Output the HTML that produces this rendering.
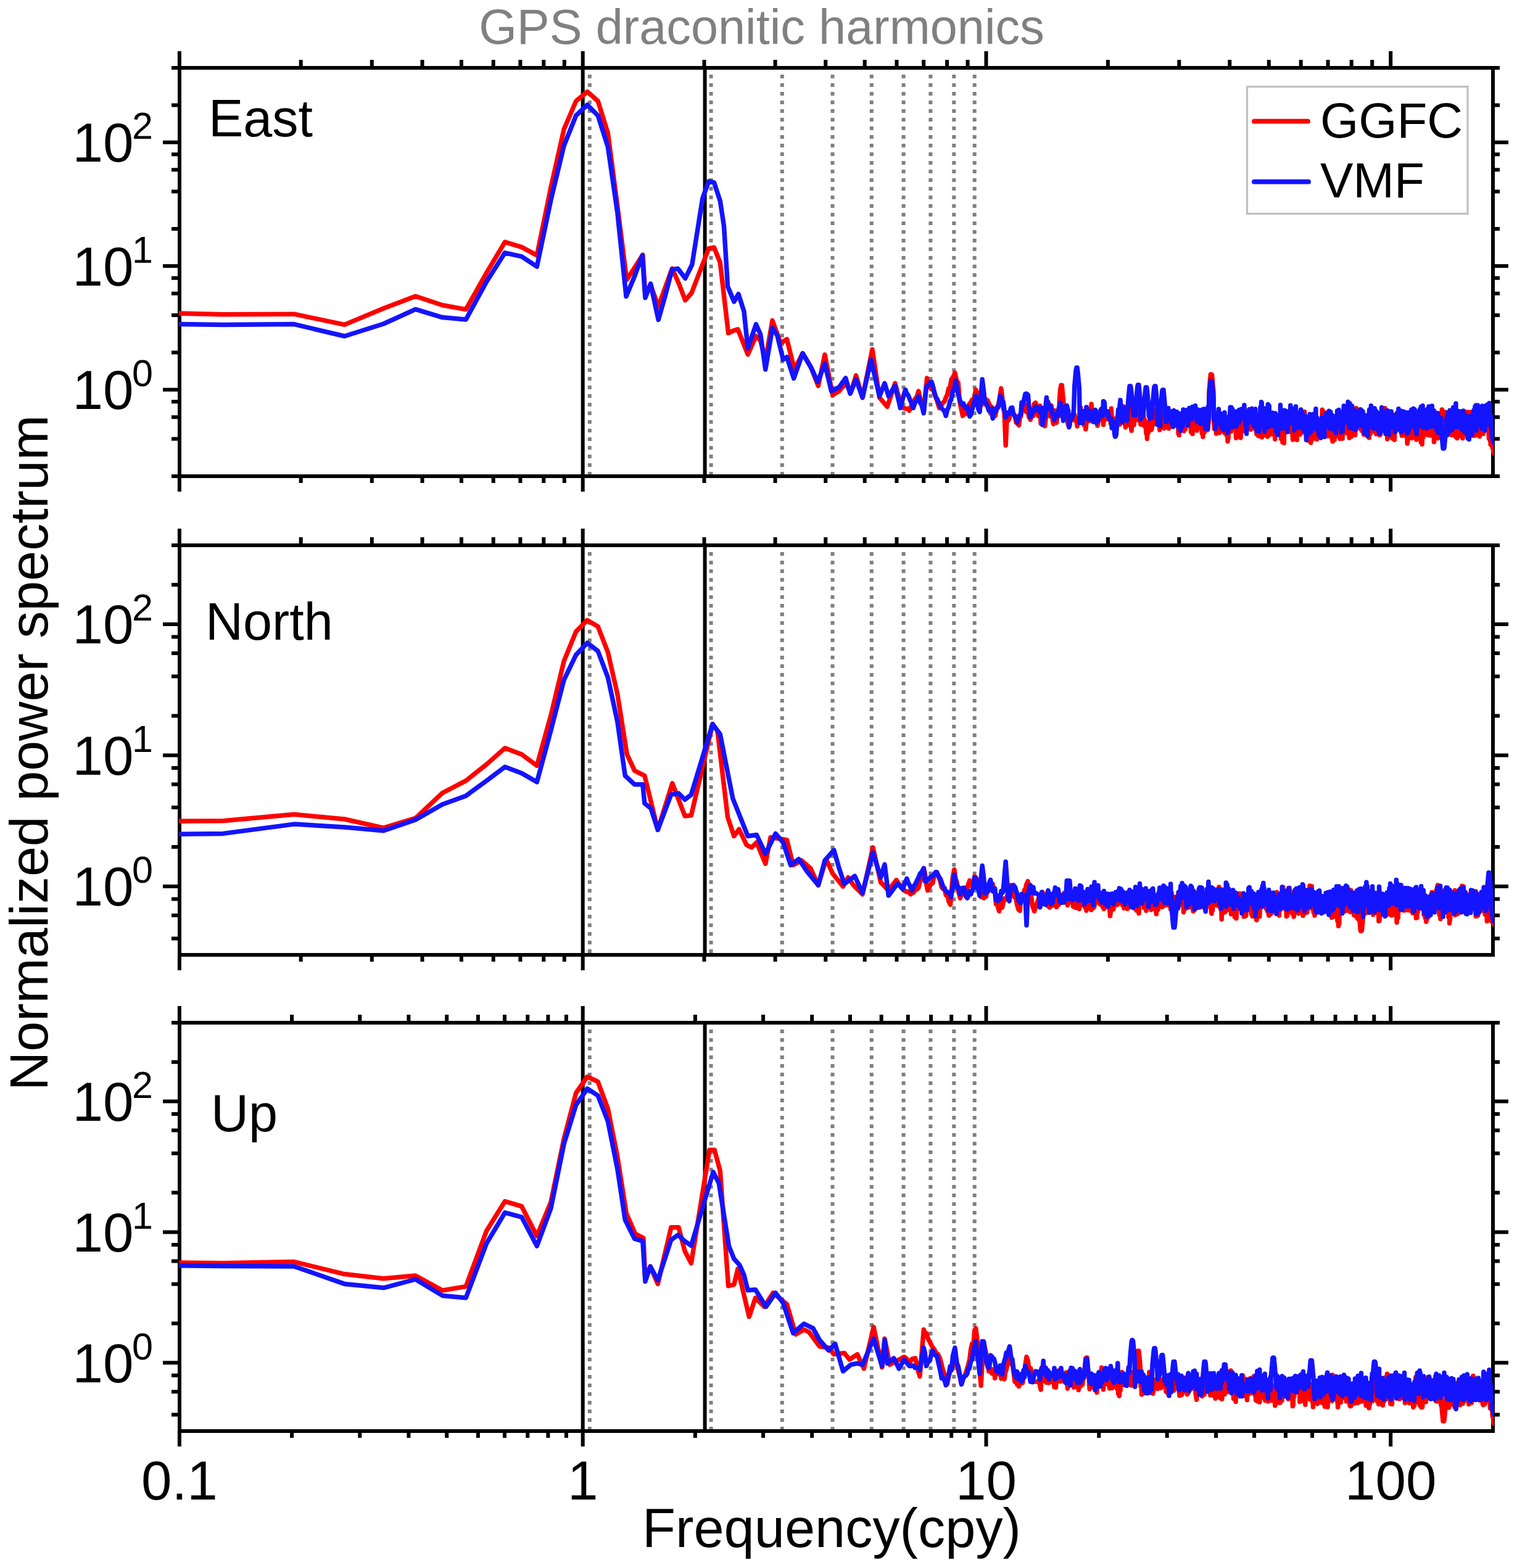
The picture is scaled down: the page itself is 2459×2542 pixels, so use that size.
<!DOCTYPE html><html><head><meta charset="utf-8"><title>GPS draconitic harmonics</title>
<style>html,body{margin:0;padding:0;background:#fff;}svg{display:block;}text{font-family:"Liberation Sans",Arial,sans-serif;}</style></head><body>
<svg xmlns="http://www.w3.org/2000/svg" width="2459" height="2542" viewBox="0 0 2459 2542">
<rect x="0" y="0" width="2459" height="2542" fill="#fff"/>
<clipPath id="c0"><rect x="291" y="110" width="2129" height="662"/></clipPath>
<clipPath id="d0"><rect x="290" y="110" width="2131.5" height="662"/></clipPath>
<clipPath id="c1"><rect x="291" y="884" width="2129" height="664"/></clipPath>
<clipPath id="d1"><rect x="290" y="884" width="2131.5" height="664"/></clipPath>
<clipPath id="c2"><rect x="291" y="1658" width="2129" height="662"/></clipPath>
<clipPath id="d2"><rect x="290" y="1658" width="2131.5" height="662"/></clipPath>
<text x="1234.5" y="71" font-size="79.3" fill="#808080" text-anchor="middle">GPS draconitic harmonics</text>
<g clip-path="url(#c0)">
<line x1="955.8" y1="121" x2="955.8" y2="772" stroke="#808080" stroke-width="6" stroke-dasharray="6 8"/>
<line x1="1152.6" y1="121" x2="1152.6" y2="772" stroke="#808080" stroke-width="6" stroke-dasharray="6 8"/>
<line x1="1267.8" y1="121" x2="1267.8" y2="772" stroke="#808080" stroke-width="6" stroke-dasharray="6 8"/>
<line x1="1349.5" y1="121" x2="1349.5" y2="772" stroke="#808080" stroke-width="6" stroke-dasharray="6 8"/>
<line x1="1412.8" y1="121" x2="1412.8" y2="772" stroke="#808080" stroke-width="6" stroke-dasharray="6 8"/>
<line x1="1464.6" y1="121" x2="1464.6" y2="772" stroke="#808080" stroke-width="6" stroke-dasharray="6 8"/>
<line x1="1508.4" y1="121" x2="1508.4" y2="772" stroke="#808080" stroke-width="6" stroke-dasharray="6 8"/>
<line x1="1546.3" y1="121" x2="1546.3" y2="772" stroke="#808080" stroke-width="6" stroke-dasharray="6 8"/>
<line x1="1579.7" y1="121" x2="1579.7" y2="772" stroke="#808080" stroke-width="6" stroke-dasharray="6 8"/>
<line x1="944.7" y1="110" x2="944.7" y2="772" stroke="#000" stroke-width="6"/>
<line x1="1142.6" y1="110" x2="1142.6" y2="772" stroke="#000" stroke-width="6"/>
</g>
<rect x="291" y="110" width="2129" height="662" fill="none" stroke="#000" stroke-width="6"/>
<path d="M290.9 110v-27M290.9 772v25M487.7 110v-13M487.7 772v11M602.8 110v-13M602.8 772v11M684.5 110v-13M684.5 772v11M747.9 110v-13M747.9 772v11M799.7 110v-13M799.7 772v11M843.4 110v-13M843.4 772v11M881.3 110v-13M881.3 772v11M914.8 110v-13M914.8 772v11M944.7 110v-27M944.7 772v25M1141.5 110v-13M1141.5 772v11M1256.6 110v-13M1256.6 772v11M1338.3 110v-13M1338.3 772v11M1401.7 110v-13M1401.7 772v11M1453.5 110v-13M1453.5 772v11M1497.2 110v-13M1497.2 772v11M1535.1 110v-13M1535.1 772v11M1568.6 110v-13M1568.6 772v11M1598.5 110v-27M1598.5 772v25M1795.9 110v-13M1795.9 772v11M1911.3 110v-13M1911.3 772v11M1993.3 110v-13M1993.3 772v11M2056.8 110v-13M2056.8 772v11M2108.7 110v-13M2108.7 772v11M2152.6 110v-13M2152.6 772v11M2190.7 110v-13M2190.7 772v11M2224.2 110v-13M2224.2 772v11M2254.2 110v-27M2254.2 772v25M291 772.0h-13M2420 772.0h11M291 711.6h-13M2420 711.6h11M291 676.3h-13M2420 676.3h11M291 651.3h-13M2420 651.3h11M291 631.8h-27M2420 631.8h25M291 571.5h-13M2420 571.5h11M291 511.1h-13M2420 511.1h11M291 475.8h-13M2420 475.8h11M291 450.7h-13M2420 450.7h11M291 431.3h-27M2420 431.3h25M291 370.9h-13M2420 370.9h11M291 310.5h-13M2420 310.5h11M291 275.2h-13M2420 275.2h11M291 250.2h-13M2420 250.2h11M291 230.7h-27M2420 230.7h25M291 170.4h-13M2420 170.4h11M291 110.0h-13M2420 110.0h11" stroke="#000" stroke-width="6" fill="none"/>
<g clip-path="url(#d0)">
<polyline fill="none" stroke="#ff0000" stroke-width="7.5" stroke-linejoin="round" stroke-linecap="round" points="164.7,505.0 361.5,509.8 476.7,509.2 558.4,526.4 621.7,500.0 673.5,480.3 717.2,494.8 755.2,501.6 788.6,442.4 818.5,392.4 845.6,400.6 870.3,413.9 893.0,303.7 914.1,209.8 933.7,163.9 952.0,148.6 969.2,163.9 985.4,215.9 1000.8,334.3 1015.8,453.6 1029.2,433.0 1041.9,413.2 1045.9,478.0 1054.6,462.0 1067.2,497.0 1078.7,465.0 1089.4,435.4 1100.5,460.0 1110.8,486.8 1121.0,475.0 1148.7,403.0 1157.5,401.2 1167.3,425.7 1180.6,540.0 1189.0,536.0 1196.0,533.9 1212.2,574.7 1225.5,545.0 1232.7,552.0 1240.8,585.0 1252.0,519.6 1265.3,556.3 1275.5,550.0 1287.8,599.2 1301.1,572.8 1313.8,593.9 1326.4,625.6 1337.0,575.0 1349.6,640.3 1360.2,634.0 1370.7,621.4 1379.2,636.1 1387.6,608.7 1398.1,644.6 1414.0,566.5 1425.6,644.6 1438.2,659.3 1442.3,647.1 1445.4,637.8 1448.5,628.4 1450.9,621.4 1454.7,636.0 1457.7,645.9 1461.4,659.3 1463.6,661.2 1466.5,662.2 1469.4,662.8 1472.2,662.5 1474.1,665.7 1477.8,656.6 1480.6,651.5 1483.4,646.6 1486.1,643.1 1488.9,634.0 1491.4,645.3 1494.1,652.7 1497.3,665.7 1499.3,646.5 1502.6,612.9 1504.4,622.7 1506.9,624.7 1509.4,630.7 1511.9,626.6 1514.4,637.3 1516.8,643.6 1519.2,650.6 1522.6,661.4 1524.0,657.2 1526.3,656.6 1528.7,652.5 1531.0,650.8 1533.2,644.6 1535.6,639.6 1537.8,629.6 1540.1,627.9 1542.3,614.8 1544.5,612.0 1547.9,604.5 1551.1,619.1 1553.2,620.3 1555.3,648.5 1557.4,659.9 1560.6,674.1 1563.7,670.6 1565.7,663.7 1567.8,670.8 1569.8,659.5 1571.8,654.1 1573.2,653.0 1575.8,648.1 1577.7,653.5 1579.7,641.4 1581.7,631.9 1583.5,635.9 1585.5,640.6 1587.4,654.9 1590.1,657.2 1593.0,653.3 1594.8,653.6 1596.7,645.7 1598.5,656.3 1600.7,648.8 1602.1,652.6 1603.9,655.5 1605.7,670.3 1607.5,659.6 1609.2,667.6 1611.0,670.7 1613.3,674.1 1616.2,659.7 1617.9,657.6 1619.6,650.0 1621.3,639.3 1622.8,629.8 1624.6,644.3 1626.3,662.1 1628.0,668.0 1630.2,722.0 1632.4,672.0 1634.5,681.4 1636.1,678.4 1638.6,665.7 1640.8,667.4 1642.4,670.5 1643.9,672.3 1645.5,674.2 1647.0,684.6 1649.2,686.8 1651.6,689.4 1653.1,677.1 1654.6,675.5 1656.1,667.1 1657.6,662.4 1659.7,655.1 1662.0,656.1 1663.5,667.7 1664.9,663.9 1666.4,667.4 1667.8,675.8 1670.3,680.4 1672.1,674.5 1673.5,670.3 1674.9,674.5 1676.3,655.0 1678.7,653.0 1683.1,674.3 1684.5,669.4 1685.8,657.9 1687.2,686.8 1688.5,679.4 1689.8,667.2 1691.2,679.1 1692.5,663.3 1693.8,690.7 1695.1,678.9 1696.4,674.3 1697.7,667.2 1699.0,651.5 1700.2,665.7 1701.5,656.8 1702.8,675.1 1704.0,657.5 1705.3,667.1 1706.6,683.3 1707.8,687.5 1709.0,668.0 1710.3,665.7 1711.5,684.0 1712.7,685.1 1714.0,672.9 1715.2,675.4 1716.4,673.2 1717.6,644.5 1718.8,631.3 1720.0,624.5 1721.2,624.5 1722.3,634.9 1723.5,647.9 1724.7,666.8 1725.9,661.4 1727.0,670.9 1728.2,666.1 1729.3,665.5 1730.5,684.1 1731.6,689.3 1732.8,684.5 1733.9,687.8 1735.1,679.8 1736.2,673.4 1737.3,681.2 1738.4,679.8 1739.5,675.6 1740.6,671.4 1741.8,672.3 1742.9,682.2 1744.0,682.5 1745.0,677.6 1746.1,691.0 1747.2,680.1 1748.3,681.1 1749.4,684.5 1750.5,669.3 1751.5,660.7 1752.6,680.5 1753.6,669.6 1754.7,684.3 1755.8,678.0 1756.8,686.7 1757.8,690.0 1758.9,673.3 1759.9,695.9 1761.0,684.3 1762.0,679.7 1763.0,677.0 1764.0,682.0 1765.1,681.5 1766.1,682.2 1767.1,661.7 1768.1,668.8 1769.1,654.9 1770.1,671.6 1771.1,676.7 1772.1,666.1 1773.1,673.0 1774.1,672.5 1775.1,678.1 1776.0,665.2 1777.0,666.9 1778.0,669.5 1779.0,690.0 1779.9,685.8 1780.9,676.8 1781.8,679.5 1782.8,678.8 1783.8,679.6 1784.7,676.6 1785.7,675.6 1786.6,668.2 1787.5,672.1 1788.5,688.5 1789.4,679.7 1790.3,676.2 1791.3,674.3 1792.2,676.9 1793.1,679.5 1794.0,672.4 1795.0,678.9 1795.9,679.4 1796.8,672.4 1797.7,672.7 1798.6,671.6 1799.5,671.5 1800.4,686.3 1801.3,662.3 1802.2,678.6 1803.1,676.7 1804.0,677.2 1804.9,682.9 1805.7,690.8 1806.6,683.4 1807.5,682.4 1808.4,679.5 1809.2,683.6 1810.1,691.6 1811.0,681.3 1811.8,674.6 1812.7,672.5 1813.6,672.5 1814.4,669.6 1815.3,688.1 1816.1,681.3 1817.0,674.4 1817.8,684.3 1818.7,665.7 1819.5,674.8 1820.3,675.1 1821.2,659.1 1822.0,662.1 1822.8,670.6 1823.7,687.7 1824.5,692.7 1825.3,673.8 1826.2,689.7 1827.0,676.4 1827.8,673.3 1828.6,669.4 1829.4,669.4 1830.2,657.7 1831.0,664.6 1831.8,664.3 1832.6,679.1 1833.4,693.0 1834.2,698.1 1835.0,676.2 1835.8,665.3 1836.6,674.0 1837.4,668.3 1838.2,688.7 1839.0,676.6 1839.8,666.1 1840.6,679.0 1841.3,677.1 1842.1,662.5 1842.9,672.9 1843.7,677.0 1844.4,680.1 1845.2,681.3 1846.0,677.3 1846.7,680.6 1847.5,673.7 1848.2,670.3 1849.0,688.0 1849.8,678.8 1850.5,679.6 1851.3,664.8 1852.0,676.9 1852.8,685.8 1853.5,670.9 1854.3,690.0 1855.0,679.0 1855.7,686.0 1856.5,684.6 1857.2,691.0 1858.0,702.7 1858.7,693.9 1859.4,711.3 1860.1,693.9 1860.9,691.4 1861.6,701.0 1862.3,683.4 1863.0,684.4 1863.8,690.6 1864.5,690.7 1865.2,667.4 1865.9,685.3 1866.6,696.7 1867.3,692.6 1868.0,682.7 1868.8,680.9 1869.5,683.9 1870.2,677.5 1870.9,683.5 1871.6,682.2 1872.3,680.0 1873.0,687.6 1873.7,674.4 1874.4,663.4 1875.0,682.2 1875.7,666.2 1876.4,671.9 1877.1,675.5 1877.8,675.1 1878.5,671.3 1879.2,678.0 1879.8,697.1 1880.5,675.8 1881.2,680.1 1881.9,690.8 1882.5,689.0 1883.2,690.3 1883.9,692.0 1884.6,670.8 1885.2,679.4 1885.9,686.8 1886.6,689.0 1887.2,694.4 1887.9,687.1 1888.5,680.9 1889.2,682.5 1889.9,680.3 1890.5,684.0 1891.2,687.6 1891.8,680.2 1892.5,677.1 1893.1,677.4 1893.8,692.9 1894.4,694.7 1895.1,692.6 1895.7,691.5 1896.3,691.2 1897.0,684.5 1897.6,689.3 1898.3,675.8 1898.9,682.1 1899.5,677.9 1900.2,689.2 1900.8,678.7 1901.4,681.6 1902.1,684.4 1902.7,690.6 1903.3,672.8 1903.9,670.7 1904.6,683.8 1905.2,668.8 1905.8,681.5 1906.4,674.7 1907.0,679.9 1907.7,668.3 1908.3,689.7 1908.9,681.7 1909.5,679.5 1910.1,702.8 1910.7,691.8 1911.3,705.6 1911.9,687.3 1912.6,679.9 1913.2,682.0 1913.8,692.5 1914.4,678.9 1915.0,682.4 1915.6,683.4 1916.2,673.8 1916.8,684.3 1917.4,682.2 1918.0,679.3 1918.5,698.4 1919.1,698.8 1919.7,695.2 1920.3,687.5 1920.9,678.0 1921.5,695.7 1922.1,688.9 1922.7,674.0 1923.3,684.3 1923.8,670.9 1924.4,681.3 1925.0,682.2 1925.6,684.1 1926.2,683.7 1926.7,684.3 1927.3,675.3 1927.9,682.5 1928.5,682.6 1929.0,685.7 1929.6,690.2 1930.2,693.1 1930.7,700.8 1931.3,667.5 1931.9,690.2 1932.4,684.8 1933.0,703.5 1933.6,692.4 1934.1,671.7 1934.7,687.6 1935.3,680.4 1935.8,692.6 1936.4,677.2 1936.9,685.5 1937.5,686.2 1938.0,687.5 1938.6,684.5 1939.1,675.4 1939.7,693.8 1940.2,698.0 1940.8,689.1 1941.3,680.7 1941.9,689.0 1942.4,690.4 1943.0,683.0 1943.5,682.9 1944.1,693.1 1944.6,672.6 1945.1,676.9 1945.7,666.7 1946.2,677.1 1946.8,678.1 1947.3,677.9 1947.8,681.6 1948.4,702.7 1948.9,688.2 1949.4,689.7 1950.0,708.2 1950.5,690.3 1951.0,676.6 1951.6,692.7 1952.1,681.1 1952.6,700.4 1953.1,676.6 1953.7,680.9 1954.2,672.2 1954.7,685.3 1955.2,676.5 1955.8,684.4 1956.3,682.8 1956.8,682.0 1957.3,695.6 1957.8,696.9 1958.3,691.3 1958.9,684.7 1959.4,684.1 1959.9,634.6 1960.4,629.0 1960.9,623.3 1961.4,617.7 1961.9,612.1 1962.4,607.0 1963.0,607.0 1963.5,607.0 1964.0,607.0 1964.5,607.8 1965.0,613.3 1965.5,618.9 1966.0,624.4 1966.5,629.9 1967.0,635.4 1967.5,679.4 1968.0,687.2 1968.5,695.2 1969.0,691.8 1969.5,688.3 1970.0,684.1 1970.5,689.1 1971.0,686.1 1971.5,702.9 1971.9,675.9 1972.4,681.2 1972.9,693.3 1973.4,680.4 1973.9,693.2 1974.4,681.2 1974.9,682.5 1975.4,678.5 1975.9,671.1 1976.3,675.2 1976.8,701.7 1977.3,690.6 1977.8,691.7 1978.3,695.8 1978.7,693.9 1979.2,698.3 1979.7,688.6 1980.2,689.0 1980.7,698.6 1981.1,687.8 1981.6,679.8 1982.1,688.4 1982.6,685.6 1983.0,694.6 1983.5,683.8 1984.0,680.9 1984.5,686.6 1984.9,701.6 1985.4,688.9 1985.9,691.0 1986.3,690.5 1986.8,693.6 1987.3,699.7 1987.7,704.4 1988.2,681.2 1988.7,706.0 1989.1,695.8 1989.6,693.7 1990.0,715.5 1990.5,694.8 1991.0,710.9 1991.4,701.9 1991.9,684.5 1992.3,695.0 1992.8,695.2 1993.3,686.7 1993.7,667.8 1994.2,682.6 1994.6,683.2 1995.1,675.7 1995.5,699.3 1996.0,683.1 1996.4,682.5 1996.9,684.0 1997.3,680.9 1997.8,681.7 1998.2,689.5 1998.7,691.9 1999.1,685.8 1999.6,689.5 2000.0,679.2 2000.5,694.5 2000.9,684.3 2001.4,692.0 2001.8,683.0 2002.2,686.1 2002.7,691.9 2003.1,680.5 2003.6,709.9 2004.0,689.9 2004.4,689.6 2004.9,684.3 2005.3,702.9 2005.8,701.2 2006.2,692.4 2006.6,678.9 2007.1,685.7 2007.5,694.4 2007.9,685.3 2008.4,679.7 2008.8,679.6 2009.2,682.8 2009.7,689.0 2010.1,683.7 2010.5,689.0 2011.0,709.7 2011.4,703.0 2011.8,680.5 2012.2,691.5 2012.7,689.4 2013.1,687.6 2013.5,697.0 2013.9,685.9 2014.4,686.0 2014.8,685.6 2015.2,687.8 2015.6,698.8 2016.1,694.8 2016.5,677.8 2016.9,685.0 2017.3,682.1 2017.7,695.0 2018.2,690.3 2018.6,695.6 2019.0,688.0 2019.4,673.2 2019.8,692.1 2020.2,690.3 2020.6,692.4 2021.1,677.6 2021.5,688.2 2021.9,681.6 2022.3,681.0 2022.7,688.7 2023.1,688.1 2023.5,677.7 2023.9,670.7 2024.4,664.3 2024.8,679.3 2025.2,692.9 2025.6,683.4 2026.0,665.7 2026.4,676.6 2026.8,686.6 2027.2,696.3 2027.6,692.0 2028.0,685.3 2028.4,683.6 2028.8,673.3 2029.2,678.0 2029.6,678.9 2030.0,675.3 2030.4,682.1 2030.8,678.6 2031.2,684.8 2031.6,693.9 2032.0,688.8 2032.4,686.7 2032.8,681.9 2033.2,672.1 2033.6,683.7 2034.0,689.3 2034.4,677.1 2034.8,695.3 2035.2,682.7 2035.6,688.5 2036.0,683.3 2036.4,676.3 2036.8,703.5 2037.2,678.4 2037.5,695.8 2037.9,684.7 2038.3,692.1 2038.7,684.0 2039.1,687.5 2039.5,698.5 2039.9,706.9 2040.3,684.6 2040.7,691.7 2041.0,699.5 2041.4,687.4 2041.8,698.7 2042.2,687.3 2042.6,699.1 2043.0,698.5 2043.3,705.3 2043.7,699.0 2044.1,687.0 2044.5,702.1 2044.9,688.1 2045.3,703.0 2045.6,708.9 2046.0,701.4 2046.4,692.0 2046.8,705.6 2047.1,697.1 2047.5,685.4 2047.9,692.2 2048.3,706.0 2048.7,691.9 2049.0,695.1 2049.4,691.2 2049.8,680.4 2050.2,689.8 2050.5,696.7 2050.9,695.6 2051.3,692.6 2051.6,676.9 2052.0,703.8 2052.4,699.9 2052.8,702.4 2053.1,704.6 2053.5,690.7 2053.9,689.5 2054.2,696.9 2054.6,707.8 2055.0,680.9 2055.3,692.6 2055.7,688.6 2056.1,698.7 2056.4,705.8 2056.8,691.6 2057.2,683.9 2057.5,694.0 2057.9,691.2 2058.3,680.9 2058.6,700.2 2059.0,688.8 2059.3,698.4 2059.7,682.3 2060.1,701.6 2060.4,681.3 2060.8,701.3 2061.2,678.3 2061.5,703.8 2061.9,689.8 2062.2,680.3 2062.6,690.8 2062.9,695.3 2063.3,684.7 2063.7,688.6 2064.0,694.7 2064.4,691.1 2064.7,671.7 2065.1,689.1 2065.4,695.9 2065.8,694.7 2066.1,700.2 2066.5,686.4 2066.8,712.0 2067.2,697.7 2067.6,693.4 2067.9,699.3 2068.3,697.9 2068.6,690.8 2069.0,684.8 2069.3,697.8 2069.7,692.9 2070.0,674.4 2070.3,680.7 2070.7,693.4 2071.0,690.8 2071.4,692.4 2071.7,695.6 2072.1,692.0 2072.4,703.9 2072.8,686.9 2073.1,688.8 2073.5,694.9 2073.8,698.6 2074.2,699.2 2074.5,704.9 2074.8,689.3 2075.2,702.5 2075.5,697.0 2075.9,685.2 2076.2,692.9 2076.5,711.2 2076.9,701.3 2077.2,691.9 2077.6,677.1 2077.9,691.1 2078.2,691.9 2078.6,698.7 2078.9,717.0 2079.3,704.9 2079.6,701.6 2079.9,691.8 2080.3,689.7 2080.6,697.1 2080.9,694.4 2081.3,718.1 2081.6,693.1 2081.9,690.2 2082.3,702.9 2082.6,693.2 2082.9,681.4 2083.3,700.4 2083.6,686.5 2083.9,677.4 2084.3,689.9 2084.6,690.8 2084.9,684.0 2085.3,692.3 2085.6,693.2 2085.9,679.5 2086.3,670.0 2086.6,667.1 2086.9,685.0 2087.2,695.7 2087.6,693.7 2087.9,696.6 2088.2,700.1 2088.6,685.2 2088.9,693.3 2089.2,672.5 2089.5,690.2 2089.9,687.8 2090.2,683.9 2090.5,681.5 2090.8,676.8 2091.2,687.8 2091.5,698.1 2091.8,686.3 2092.1,695.0 2092.4,687.1 2092.8,696.0 2093.1,687.5 2093.4,700.0 2093.7,696.5 2094.1,701.8 2094.4,695.2 2094.7,691.1 2095.0,698.0 2095.3,708.8 2095.6,712.9 2096.0,697.2 2096.3,705.5 2096.6,704.4 2096.9,700.5 2097.2,684.0 2097.6,698.0 2097.9,686.6 2098.2,702.8 2098.5,698.9 2098.8,696.7 2099.1,670.9 2099.4,695.7 2099.8,696.1 2100.1,680.2 2100.4,698.3 2100.7,691.3 2101.0,689.4 2101.3,685.5 2101.6,683.4 2101.9,688.4 2102.3,713.1 2102.6,694.4 2102.9,694.8 2103.2,688.4 2103.5,689.0 2103.8,689.8 2104.1,687.4 2104.4,701.7 2104.7,692.6 2105.0,701.7 2105.4,685.6 2105.7,702.2 2106.0,694.5 2106.3,700.1 2106.6,693.8 2106.9,687.5 2107.2,704.3 2107.5,691.0 2107.8,693.3 2108.1,687.3 2108.4,696.0 2108.7,691.2 2109.0,696.5 2109.3,697.0 2109.6,688.7 2109.9,682.9 2110.2,697.6 2110.5,701.2 2110.8,699.0 2111.1,683.5 2111.4,696.7 2111.7,694.0 2112.0,692.1 2112.4,692.2 2112.7,685.0 2113.2,692.9 2113.8,672.1 2114.1,682.1 2114.4,684.1 2114.7,667.5 2115.3,687.1 2115.6,681.8 2116.2,675.1 2116.8,702.4 2117.1,688.7 2117.7,685.0 2118.0,703.3 2118.6,693.3 2118.9,710.7 2119.5,707.8 2119.8,689.3 2120.3,708.5 2120.6,693.6 2121.2,714.4 2121.5,711.0 2122.1,696.4 2122.4,709.2 2123.0,710.8 2123.3,710.3 2123.8,696.8 2124.1,685.0 2124.7,717.8 2125.3,695.7 2125.6,704.5 2125.8,701.9 2126.1,687.5 2126.7,688.3 2127.0,712.5 2127.6,701.4 2127.8,709.1 2128.7,704.5 2129.0,681.0 2129.3,687.7 2129.5,684.3 2130.1,710.8 2130.4,676.6 2131.0,680.4 2131.2,701.2 2131.8,686.9 2132.1,707.8 2132.6,702.3 2133.2,687.9 2133.5,689.6 2134.0,698.0 2134.6,712.2 2134.9,691.9 2135.1,689.7 2135.7,687.0 2136.0,681.5 2136.5,699.9 2137.1,690.6 2137.4,694.5 2137.6,699.9 2137.9,696.0 2138.7,688.1 2139.0,683.8 2139.3,689.1 2139.5,683.2 2140.1,688.2 2140.6,687.3 2140.9,685.2 2141.2,699.3 2142.0,689.1 2142.3,678.3 2142.8,686.7 2143.1,672.2 2143.3,664.3 2143.9,692.6 2144.1,670.6 2144.7,688.2 2145.0,667.7 2145.2,676.6 2146.0,668.2 2146.3,691.4 2146.8,687.3 2147.1,682.6 2147.4,668.7 2147.6,684.8 2148.2,686.9 2148.4,680.3 2148.9,686.0 2149.5,694.2 2149.7,680.1 2150.3,699.9 2150.5,692.2 2150.8,682.5 2151.3,685.9 2151.6,696.4 2152.4,707.2 2152.6,678.7 2152.9,681.9 2153.1,676.3 2153.9,693.1 2154.2,703.9 2154.4,675.2 2155.0,702.6 2155.2,699.3 2155.5,698.2 2156.2,691.6 2156.5,692.2 2156.8,699.0 2157.0,691.3 2157.5,705.0 2157.8,684.7 2158.3,698.9 2158.6,692.5 2159.1,711.9 2159.6,692.1 2160.1,715.6 2160.3,686.6 2160.6,690.1 2160.8,696.3 2161.4,712.5 2161.9,691.6 2162.1,698.5 2162.4,688.0 2163.1,712.9 2163.4,675.6 2163.6,696.8 2163.9,704.2 2164.4,708.5 2164.9,694.2 2165.4,686.1 2165.6,706.0 2165.9,683.3 2166.1,691.6 2166.9,674.1 2167.1,688.5 2167.6,692.1 2167.9,697.4 2168.3,685.0 2168.6,692.3 2168.8,695.0 2169.3,677.2 2169.6,681.0 2169.8,697.6 2170.3,682.1 2170.8,696.3 2171.0,700.6 2171.3,685.1 2171.8,702.6 2172.0,711.2 2172.5,683.9 2172.8,697.2 2173.2,694.3 2173.5,690.0 2174.0,696.0 2174.2,710.8 2174.7,700.2 2175.2,690.9 2175.4,694.8 2175.7,706.3 2176.1,711.1 2176.6,693.7 2177.1,695.3 2177.3,677.4 2177.6,702.5 2177.8,684.3 2178.3,676.7 2178.5,682.8 2179.0,694.4 2179.5,675.1 2179.7,668.8 2180.0,683.6 2180.4,675.5 2180.7,689.3 2181.1,686.2 2181.4,681.1 2182.1,674.8 2182.3,693.3 2182.5,692.2 2182.8,675.9 2183.5,693.4 2183.7,702.4 2184.2,692.9 2184.4,682.8 2184.9,678.9 2185.1,686.3 2185.3,695.5 2185.8,702.9 2186.3,685.9 2186.5,697.3 2186.7,692.8 2187.2,709.9 2187.4,702.1 2187.7,685.4 2188.4,689.2 2188.6,699.2 2189.0,701.9 2189.3,697.1 2189.5,688.3 2190.0,694.4 2190.4,707.8 2190.6,702.9 2190.9,697.7 2191.3,700.6 2191.6,703.9 2192.0,680.2 2192.2,699.5 2192.7,687.0 2192.9,694.3 2193.4,688.5 2193.6,675.0 2194.0,692.1 2194.5,674.5 2194.7,690.7 2194.9,692.7 2195.2,688.4 2195.8,681.1 2196.1,690.2 2196.3,682.7 2196.7,705.3 2197.0,689.6 2197.4,669.7 2197.9,687.5 2198.1,675.2 2198.5,661.7 2198.7,683.7 2199.0,674.1 2199.4,689.2 2199.6,676.8 2199.8,685.8 2200.3,676.4 2200.7,671.4 2201.0,688.7 2201.4,670.8 2201.6,685.9 2202.1,667.8 2202.5,670.3 2202.7,690.4 2202.9,682.9 2203.1,688.8 2203.6,691.5 2203.8,685.3 2204.5,691.8 2204.7,680.0 2205.1,695.3 2205.3,682.8 2205.5,686.9 2205.8,679.5 2206.2,686.2 2206.6,677.8 2206.8,685.0 2207.3,688.7 2207.7,672.9 2207.9,698.8 2208.1,686.6 2208.3,682.2 2209.0,696.4 2209.2,686.7 2209.6,677.2 2209.8,691.4 2210.3,686.6 2210.5,697.2 2210.7,704.5 2211.1,684.0 2211.3,702.6 2211.5,687.8 2212.0,686.0 2212.4,695.3 2212.6,692.2 2212.8,689.4 2213.4,699.2 2213.6,687.4 2213.9,690.4 2214.3,685.7 2214.7,680.1 2214.9,695.1 2215.3,689.5 2215.5,704.4 2215.7,685.6 2216.0,696.8 2216.4,688.6 2216.8,700.6 2217.0,694.4 2217.4,705.8 2217.6,696.8 2217.8,682.2 2218.2,702.9 2218.7,688.3 2218.9,681.4 2219.3,709.6 2219.7,680.6 2219.9,701.9 2220.1,693.6 2220.3,695.4 2220.7,690.0 2221.1,703.4 2221.5,690.2 2221.7,702.0 2222.1,696.5 2222.4,683.5 2222.8,694.9 2223.0,698.3 2223.4,689.8 2223.6,680.9 2224.0,690.3 2224.2,692.2 2224.6,673.2 2224.8,682.1 2225.2,676.7 2225.4,687.5 2225.8,686.1 2226.0,692.0 2226.2,686.6 2226.4,676.0 2226.8,681.5 2227.2,692.4 2227.6,693.8 2227.8,679.7 2228.0,685.7 2228.2,698.7 2228.8,672.9 2229.4,696.4 2229.6,701.4 2230.2,680.6 2230.4,681.6 2231.0,703.8 2231.2,694.8 2231.4,683.9 2232.4,687.7 2232.6,697.7 2233.0,690.4 2233.4,696.9 2233.8,686.6 2234.0,702.1 2234.5,696.1 2234.7,680.9 2235.3,689.1 2235.5,678.3 2236.3,682.2 2236.5,705.2 2236.9,702.7 2237.3,678.9 2237.5,704.6 2237.7,686.5 2238.2,678.7 2238.8,693.1 2239.2,678.0 2239.6,693.7 2240.0,692.1 2240.2,683.4 2240.7,688.1 2240.9,696.5 2241.3,692.2 2241.9,674.4 2242.3,695.7 2242.6,678.5 2243.0,688.4 2243.4,669.8 2243.6,675.5 2244.2,668.3 2244.5,686.3 2244.9,661.8 2245.5,671.8 2245.7,664.4 2246.0,663.7 2246.4,683.4 2246.8,674.7 2247.2,683.1 2247.4,666.6 2247.7,689.4 2248.3,680.7 2248.7,684.3 2248.8,711.8 2249.0,681.9 2250.0,690.5 2250.1,706.0 2250.3,697.5 2250.7,692.9 2251.1,685.5 2251.6,700.4 2252.0,681.9 2252.4,705.3 2252.5,687.9 2252.9,706.9 2253.5,691.0 2253.6,702.2 2254.4,707.6 2254.6,699.7 2254.7,698.3 2255.3,703.7 2255.6,700.3 2256.0,697.1 2256.4,710.1 2256.6,696.5 2257.3,704.4 2257.5,694.3 2257.6,702.6 2258.0,676.5 2258.5,711.4 2258.7,687.5 2259.3,687.4 2259.4,704.2 2260.0,685.2 2260.3,713.0 2260.5,711.2 2260.7,674.7 2261.4,687.5 2261.6,696.7 2262.3,681.1 2262.5,699.3 2262.6,684.7 2262.8,696.5 2263.3,687.0 2263.7,670.4 2264.2,671.1 2264.6,691.7 2264.8,689.5 2264.9,670.9 2265.5,690.8 2266.0,677.4 2266.2,684.8 2266.5,678.5 2267.0,689.0 2267.4,672.2 2267.6,677.0 2267.7,693.3 2268.4,681.4 2268.6,691.4 2269.3,685.4 2269.5,675.9 2269.8,681.5 2270.0,689.5 2270.3,681.0 2270.7,695.6 2271.2,690.5 2271.4,667.4 2271.9,703.0 2272.1,681.6 2272.4,706.2 2272.7,669.6 2273.3,696.8 2273.6,684.3 2273.9,701.3 2274.3,687.3 2274.6,696.6 2275.0,689.5 2275.3,684.1 2275.5,686.6 2275.8,678.2 2276.1,698.4 2276.5,682.1 2276.8,705.2 2277.3,687.6 2277.5,692.3 2278.0,702.5 2278.2,690.9 2278.7,700.9 2278.8,695.6 2279.2,693.5 2279.5,707.2 2279.8,682.5 2280.0,708.3 2280.7,682.1 2281.0,711.6 2281.2,718.9 2281.5,695.2 2282.0,689.7 2282.2,712.9 2282.5,700.6 2282.7,688.1 2283.3,685.8 2283.6,708.6 2283.8,684.1 2284.1,696.4 2284.5,690.3 2284.6,703.6 2285.3,683.1 2285.6,706.3 2285.8,700.4 2286.1,675.2 2286.6,687.0 2286.9,693.9 2287.4,700.7 2287.6,679.2 2288.1,678.2 2288.2,700.0 2288.4,677.0 2288.7,710.4 2289.2,700.1 2289.5,680.1 2289.8,700.3 2290.0,687.8 2290.5,695.2 2290.8,684.9 2291.0,680.0 2291.4,694.5 2291.8,683.1 2292.1,695.2 2292.2,702.9 2292.4,689.2 2292.9,706.7 2293.4,688.1 2293.5,693.0 2294.0,705.9 2294.1,683.9 2294.3,704.1 2294.8,678.6 2295.3,707.9 2295.7,693.7 2295.9,712.8 2296.2,711.7 2296.5,687.8 2296.7,702.5 2297.1,683.1 2297.6,686.8 2297.8,695.1 2297.9,673.0 2298.4,702.1 2298.7,684.1 2299.0,691.0 2299.2,693.3 2299.5,681.7 2299.8,694.6 2300.0,673.8 2300.4,701.9 2300.9,692.8 2301.0,680.1 2301.2,698.5 2301.7,706.5 2301.8,679.6 2302.3,685.5 2302.7,696.1 2303.0,686.1 2303.2,717.0 2303.5,705.2 2304.0,688.1 2304.3,678.1 2304.4,707.3 2304.7,689.9 2305.2,720.3 2305.3,701.3 2305.5,706.6 2306.1,694.4 2306.4,706.7 2306.7,686.3 2307.0,708.8 2307.3,679.0 2307.5,698.6 2307.8,706.3 2308.2,682.7 2308.4,695.2 2308.7,677.1 2309.0,696.6 2309.3,682.0 2309.6,691.8 2309.9,686.6 2310.2,677.6 2310.5,685.3 2311.2,693.0 2311.4,676.2 2312.1,681.0 2312.3,694.4 2312.9,698.5 2313.0,669.5 2313.6,697.4 2313.8,684.1 2313.9,672.8 2314.2,693.6 2314.8,705.2 2315.1,673.3 2315.4,688.0 2315.8,699.6 2316.6,673.3 2316.7,697.1 2317.0,670.6 2317.4,693.1 2318.0,696.5 2318.2,683.1 2318.5,683.2 2318.8,706.1 2319.0,701.1 2319.3,684.6 2320.1,697.6 2320.2,686.9 2320.6,683.6 2320.8,701.0 2321.4,676.4 2321.8,701.9 2322.1,699.2 2322.2,686.1 2322.7,703.6 2322.8,681.8 2323.5,702.3 2323.8,688.2 2324.1,690.3 2324.5,716.5 2324.9,690.6 2325.2,710.3 2325.5,685.6 2325.7,709.4 2326.2,678.8 2326.8,707.8 2327.2,694.5 2327.5,686.2 2327.8,673.4 2327.9,696.7 2328.8,684.8 2328.9,695.5 2329.5,689.3 2329.6,703.6 2329.7,702.3 2330.0,683.5 2330.6,710.6 2330.7,675.3 2331.3,677.0 2331.6,703.4 2332.3,694.5 2332.4,682.8 2332.5,674.8 2333.1,699.7 2333.2,701.1 2333.8,692.6 2333.9,697.4 2334.3,682.0 2334.6,682.1 2334.7,696.8 2335.4,696.9 2335.8,683.7 2336.1,701.5 2336.2,682.7 2336.9,694.8 2337.1,675.3 2337.3,664.0 2337.6,690.7 2338.4,674.8 2338.6,694.3 2338.7,691.4 2339.0,669.4 2339.5,690.6 2339.6,673.3 2340.2,671.9 2340.5,686.9 2341.0,667.4 2341.1,692.8 2341.5,671.7 2341.7,691.1 2342.1,695.0 2342.3,674.1 2342.7,675.2 2343.3,688.4 2343.8,681.4 2343.9,692.7 2344.3,693.7 2344.5,671.6 2344.9,682.9 2345.3,668.8 2345.7,701.7 2345.9,674.9 2346.1,694.7 2346.5,675.2 2346.7,693.0 2347.0,677.4 2347.4,703.7 2347.9,681.8 2348.3,680.7 2348.6,691.3 2348.8,686.5 2349.2,681.9 2349.6,696.6 2349.7,683.2 2350.0,673.5 2350.3,684.1 2350.7,677.2 2351.0,684.6 2351.7,674.5 2351.8,685.5 2352.0,694.8 2352.5,678.4 2352.7,705.1 2352.9,676.6 2353.2,696.7 2353.4,670.4 2354.0,676.6 2354.3,688.1 2354.5,664.9 2355.0,698.7 2355.2,670.3 2355.6,691.1 2356.2,671.4 2356.3,689.1 2356.6,692.5 2356.7,665.9 2357.1,683.7 2357.3,701.7 2357.7,699.4 2357.8,682.0 2358.5,706.8 2358.9,690.7 2359.2,684.3 2359.5,703.2 2359.6,691.0 2360.0,708.1 2360.5,698.4 2360.8,679.6 2361.0,681.5 2361.1,703.0 2361.6,669.6 2361.8,702.6 2362.1,710.3 2362.3,676.4 2362.8,675.0 2363.0,700.1 2363.6,672.5 2363.9,696.2 2364.4,690.2 2364.5,684.0 2364.9,704.1 2365.1,676.1 2365.2,701.7 2365.7,684.8 2366.1,696.5 2366.2,678.4 2366.5,684.7 2367.0,707.1 2367.1,693.3 2367.3,687.7 2367.9,697.3 2368.1,680.7 2368.4,681.6 2368.6,694.7 2369.0,687.4 2369.2,705.0 2369.7,698.9 2369.8,686.8 2370.1,672.2 2370.5,697.9 2370.9,710.5 2371.1,692.1 2371.4,684.1 2371.8,703.2 2372.3,705.1 2372.4,679.2 2372.7,685.6 2372.9,697.0 2373.2,695.9 2373.6,678.3 2374.1,696.8 2374.4,680.2 2374.6,681.7 2375.1,703.0 2375.3,692.1 2375.6,667.8 2376.1,682.5 2376.5,694.3 2376.7,698.0 2377.2,669.5 2377.5,679.6 2377.7,696.6 2378.0,697.3 2378.6,675.2 2378.9,692.8 2379.1,683.2 2379.7,673.6 2379.9,703.4 2380.3,668.0 2380.6,686.8 2380.9,701.2 2381.0,679.1 2381.7,704.5 2382.0,674.0 2382.3,673.1 2382.6,690.3 2383.0,705.8 2383.5,674.8 2383.7,677.1 2384.2,706.2 2384.4,703.1 2384.6,683.8 2385.0,668.0 2385.6,698.1 2385.9,692.5 2386.1,671.6 2386.4,682.0 2386.7,694.2 2387.3,678.3 2387.7,687.3 2388.0,700.7 2388.3,672.6 2388.5,706.3 2388.7,686.9 2389.5,681.5 2389.7,706.2 2389.8,694.2 2390.0,681.8 2390.5,700.8 2391.1,684.9 2391.3,701.9 2391.5,684.2 2391.9,700.5 2392.2,680.6 2392.9,697.2 2393.1,671.6 2393.2,685.5 2393.8,698.8 2394.1,705.7 2394.3,686.2 2395.0,694.8 2395.1,673.6 2395.6,698.7 2395.8,689.8 2396.1,698.3 2396.2,680.2 2396.8,680.9 2396.9,702.7 2397.6,696.2 2397.8,684.8 2398.0,702.9 2398.2,676.8 2398.6,707.5 2399.1,677.6 2399.3,672.1 2399.7,699.4 2399.9,676.8 2400.1,691.6 2400.7,698.3 2400.9,676.6 2401.3,673.3 2401.5,699.4 2401.8,692.6 2402.3,666.5 2402.9,699.7 2403.0,665.4 2403.2,679.4 2403.4,696.9 2404.1,666.1 2404.2,701.7 2404.4,703.3 2404.9,672.9 2405.1,693.4 2405.3,673.4 2405.7,698.8 2405.8,676.9 2406.6,665.7 2406.8,694.9 2407.2,693.6 2407.4,676.1 2407.6,697.0 2408.2,661.0 2408.4,663.5 2408.7,691.7 2409.1,668.9 2409.2,683.9 2409.9,671.6 2410.0,688.2 2410.3,693.0 2410.4,666.8 2411.0,669.0 2411.2,691.7 2411.7,669.9 2411.9,697.4 2412.2,691.1 2412.6,675.7 2412.8,680.6 2413.0,697.3 2413.5,710.9 2413.9,681.8 2414.1,706.5 2414.2,690.4 2414.7,710.2 2414.8,688.7 2415.5,715.2 2415.7,695.8 2416.1,695.6 2416.2,720.7 2416.5,701.2 2416.8,717.8 2417.3,705.8 2417.5,717.9 2417.7,719.8 2417.8,712.5 2418.4,716.4 2418.5,723.0 2418.9,718.2 2419.2,725.9 2419.5,722.0 2419.9,727.4 2420.2,726.4 2420.7,730.4 2420.8,731.1 2421.3,733.6 2421.4,734.3 2421.5,734.9"/>
<polyline fill="none" stroke="#1414ff" stroke-width="7.5" stroke-linejoin="round" stroke-linecap="round" points="164.7,524.0 361.5,526.4 476.7,525.6 558.4,545.0 621.7,525.0 673.5,501.4 717.2,514.6 755.2,518.0 788.6,456.7 818.5,409.8 845.6,415.9 870.3,432.2 893.0,324.0 914.1,236.3 933.7,187.3 952.0,170.0 969.2,187.3 985.4,238.4 1000.8,344.5 1015.0,480.5 1029.0,447.0 1041.1,414.0 1045.9,482.8 1054.6,459.9 1067.2,518.4 1078.7,478.0 1089.4,437.0 1098.9,435.4 1110.8,451.2 1121.8,429.0 1138.8,321.6 1148.8,294.0 1157.5,296.0 1167.3,325.7 1173.5,366.5 1179.6,464.5 1189.8,489.0 1197.0,476.7 1206.0,505.0 1212.2,564.5 1225.5,525.7 1232.7,542.0 1240.8,599.0 1252.0,531.8 1260.0,544.0 1269.4,582.9 1275.5,578.8 1286.7,613.5 1301.1,572.8 1315.9,598.1 1325.4,619.2 1337.0,589.7 1347.5,634.0 1360.2,627.7 1370.7,612.9 1378.1,638.2 1387.6,615.0 1398.1,644.6 1411.9,583.4 1425.6,642.4 1434.0,621.4 1435.9,627.7 1440.3,642.4 1442.3,639.3 1445.4,634.2 1448.5,629.2 1450.9,625.6 1454.7,641.5 1457.7,653.6 1459.3,661.4 1460.6,657.9 1463.6,645.2 1466.5,635.4 1467.8,631.9 1469.4,637.0 1472.2,640.9 1475.0,647.9 1477.8,654.2 1480.4,661.4 1483.4,652.4 1486.1,648.8 1488.9,642.4 1491.4,652.6 1494.1,657.2 1497.3,669.9 1499.3,649.1 1501.5,627.7 1504.4,624.3 1506.9,620.4 1510.0,619.2 1511.9,624.8 1514.4,635.0 1516.8,643.5 1519.2,647.0 1522.6,655.1 1524.0,657.6 1526.3,662.1 1528.7,664.3 1531.0,666.8 1533.2,674.1 1535.6,664.3 1537.8,660.0 1540.1,649.6 1541.6,648.8 1544.5,633.1 1546.7,633.1 1549.0,617.1 1551.1,628.1 1553.2,639.4 1555.3,646.6 1558.5,655.1 1561.6,654.0 1564.8,661.4 1567.8,659.2 1569.8,665.9 1571.8,675.0 1573.8,672.3 1575.4,665.7 1577.7,657.0 1579.7,651.0 1581.7,642.4 1583.5,645.4 1585.5,662.2 1588.1,667.8 1592.2,615.0 1594.8,636.1 1596.5,653.0 1598.5,653.7 1600.3,657.5 1602.8,665.7 1605.7,664.7 1607.5,662.9 1609.2,678.2 1611.0,663.0 1613.3,667.8 1616.2,662.0 1617.9,660.6 1619.6,653.6 1621.3,642.0 1622.8,644.6 1624.6,656.3 1626.3,651.4 1627.9,663.9 1630.2,676.2 1632.8,671.0 1634.5,668.6 1636.1,670.4 1638.6,661.4 1640.8,660.8 1642.4,670.0 1643.9,672.6 1645.5,676.5 1647.0,676.6 1649.2,684.6 1651.6,674.7 1653.1,672.8 1654.6,672.0 1656.1,652.6 1657.6,656.4 1659.7,648.8 1662.0,638.5 1664.0,638.2 1666.4,640.1 1667.8,657.6 1670.3,676.2 1672.1,670.5 1673.5,669.6 1674.9,663.7 1676.3,665.5 1678.7,659.3 1683.1,665.7 1684.5,661.4 1685.8,662.7 1687.2,669.8 1688.5,661.3 1689.8,688.7 1691.2,680.8 1692.5,670.3 1693.8,676.2 1695.1,656.8 1696.4,644.6 1697.7,663.2 1699.0,653.2 1700.2,658.5 1701.5,657.0 1702.8,663.0 1704.0,660.5 1705.3,668.2 1706.6,673.9 1707.8,671.0 1709.0,680.8 1710.3,672.5 1711.5,671.8 1712.7,671.4 1714.0,674.9 1715.2,670.0 1716.4,660.7 1717.6,660.3 1718.8,652.9 1720.0,663.7 1721.2,667.6 1722.3,673.6 1723.5,682.1 1724.7,672.4 1725.9,659.8 1727.0,669.2 1728.2,672.4 1729.3,657.4 1730.5,662.4 1731.6,665.8 1732.8,692.7 1733.9,689.2 1735.1,677.1 1736.2,677.3 1737.3,678.3 1738.4,675.8 1739.5,673.3 1740.6,662.8 1741.8,625.1 1742.9,613.0 1744.0,600.9 1745.0,596.0 1746.1,596.0 1747.2,605.0 1748.3,616.9 1749.4,628.8 1750.5,685.7 1751.5,682.6 1752.6,674.9 1753.6,675.7 1754.7,686.0 1755.8,666.5 1756.8,677.7 1757.8,677.1 1758.9,678.0 1759.9,676.0 1761.0,659.9 1762.0,674.4 1763.0,668.5 1764.0,679.6 1765.1,675.5 1766.1,680.0 1767.1,666.2 1768.1,670.0 1769.1,670.8 1770.1,670.2 1771.1,674.2 1772.1,683.9 1773.1,666.5 1774.1,676.7 1775.1,664.5 1776.0,680.7 1777.0,685.6 1778.0,672.0 1779.0,677.0 1779.9,682.4 1780.9,670.7 1781.8,675.6 1782.8,677.5 1783.8,666.1 1784.7,663.4 1785.7,669.3 1786.6,664.6 1787.5,674.0 1788.5,650.6 1789.4,651.0 1790.3,652.3 1791.3,668.8 1792.2,666.9 1793.1,669.2 1794.0,669.3 1795.0,669.0 1795.9,667.2 1796.8,676.0 1797.7,674.5 1798.6,680.0 1799.5,678.1 1800.4,679.5 1801.3,679.1 1802.2,694.1 1803.1,693.8 1804.0,686.6 1804.9,684.1 1805.7,693.8 1806.6,703.5 1807.5,707.7 1808.4,707.7 1809.2,705.0 1810.1,695.4 1811.0,685.9 1811.8,676.4 1812.7,664.1 1813.6,672.1 1814.4,664.6 1815.3,655.1 1816.1,648.6 1817.0,669.4 1817.8,658.1 1818.7,681.2 1819.5,684.6 1820.3,678.6 1821.2,674.7 1822.0,672.2 1822.8,669.2 1823.7,663.6 1824.5,660.9 1825.3,660.7 1826.2,680.0 1827.0,681.8 1827.8,668.2 1828.6,652.4 1829.4,643.4 1830.2,634.5 1831.0,626.0 1831.8,626.0 1832.6,626.0 1833.4,630.9 1834.2,639.7 1835.0,648.4 1835.8,657.2 1836.6,660.8 1837.4,672.9 1838.2,671.3 1839.0,669.9 1839.8,650.8 1840.6,673.2 1841.3,653.4 1842.1,644.8 1842.9,636.3 1843.7,627.8 1844.4,624.0 1845.2,624.0 1846.0,624.0 1846.7,632.0 1847.5,640.4 1848.2,648.7 1849.0,679.7 1849.8,677.4 1850.5,670.1 1851.3,672.7 1852.0,674.9 1852.8,661.6 1853.5,668.2 1854.3,658.1 1855.0,650.0 1855.7,641.8 1856.5,633.7 1857.2,628.0 1858.0,628.0 1858.7,628.0 1859.4,632.6 1860.1,640.6 1860.9,648.6 1861.6,656.6 1862.3,674.1 1863.0,675.4 1863.8,678.6 1864.5,673.6 1865.2,668.0 1865.9,674.3 1866.6,672.1 1867.3,677.0 1868.0,658.5 1868.8,650.7 1869.5,642.9 1870.2,635.2 1870.9,627.5 1871.6,626.0 1872.3,626.0 1873.0,626.0 1873.7,633.3 1874.4,640.9 1875.0,648.5 1875.7,656.1 1876.4,688.4 1877.1,671.4 1877.8,675.5 1878.5,689.2 1879.2,673.4 1879.8,677.4 1880.5,690.6 1881.2,662.8 1881.9,655.4 1882.5,648.0 1883.2,640.6 1883.9,633.2 1884.6,632.0 1885.2,632.0 1885.9,632.0 1886.6,638.1 1887.2,645.4 1887.9,652.7 1888.5,660.0 1889.2,675.4 1889.9,683.9 1890.5,680.2 1891.2,673.2 1891.8,682.0 1892.5,680.7 1893.1,669.2 1893.8,661.7 1894.4,676.9 1895.1,675.2 1895.7,677.9 1896.3,679.7 1897.0,669.5 1897.6,671.5 1898.3,685.4 1898.9,670.9 1899.5,667.0 1900.2,668.1 1900.8,680.6 1901.4,692.0 1902.1,685.6 1902.7,665.5 1903.3,677.8 1903.9,672.3 1904.6,684.1 1905.2,679.6 1905.8,676.3 1906.4,672.7 1907.0,688.8 1907.7,667.8 1908.3,676.7 1908.9,671.7 1909.5,688.8 1910.1,692.1 1910.7,685.0 1911.3,689.0 1911.9,681.9 1912.6,670.7 1913.2,683.5 1913.8,698.4 1914.4,679.2 1915.0,690.1 1915.6,671.4 1916.2,686.4 1916.8,691.5 1917.4,682.0 1918.0,663.9 1918.5,677.6 1919.1,668.8 1919.7,682.7 1920.3,677.7 1920.9,674.2 1921.5,676.4 1922.1,664.9 1922.7,670.6 1923.3,677.7 1923.8,674.1 1924.4,685.4 1925.0,676.4 1925.6,689.7 1926.2,664.4 1926.7,670.3 1927.3,673.5 1927.9,661.5 1928.5,675.2 1929.0,669.3 1929.6,671.7 1930.2,670.6 1930.7,675.6 1931.3,679.6 1931.9,669.5 1932.4,677.6 1933.0,659.6 1933.6,665.7 1934.1,663.0 1934.7,675.7 1935.3,672.0 1935.8,665.1 1936.4,671.6 1936.9,668.9 1937.5,657.7 1938.0,677.3 1938.6,666.4 1939.1,672.0 1939.7,674.8 1940.2,683.3 1940.8,667.6 1941.3,664.4 1941.9,664.1 1942.4,669.4 1943.0,678.1 1943.5,675.1 1944.1,673.0 1944.6,667.5 1945.1,674.5 1945.7,686.8 1946.2,682.6 1946.8,679.3 1947.3,687.0 1947.8,682.7 1948.4,664.3 1948.9,681.4 1949.4,668.5 1950.0,679.5 1950.5,667.5 1951.0,671.4 1951.6,663.1 1952.1,674.4 1952.6,685.6 1953.1,685.8 1953.7,694.7 1954.2,688.4 1954.7,695.5 1955.2,694.3 1955.8,692.6 1956.3,694.3 1956.8,681.6 1957.3,694.9 1957.8,687.7 1958.3,659.3 1958.9,659.7 1959.4,678.5 1959.9,645.6 1960.4,640.0 1960.9,634.3 1961.4,628.7 1961.9,623.1 1962.4,618.0 1963.0,618.0 1963.5,618.0 1964.0,618.0 1964.5,618.8 1965.0,624.3 1965.5,629.9 1966.0,635.4 1966.5,640.9 1967.0,646.4 1967.5,672.0 1968.0,681.1 1968.5,678.9 1969.0,672.5 1969.5,669.2 1970.0,695.2 1970.5,673.4 1971.0,681.6 1971.5,684.9 1971.9,686.4 1972.4,683.2 1972.9,672.0 1973.4,682.2 1973.9,683.0 1974.4,668.3 1974.9,683.3 1975.4,663.3 1975.9,679.4 1976.3,669.5 1976.8,671.4 1977.3,685.8 1977.8,669.9 1978.3,685.0 1978.7,689.9 1979.2,673.7 1979.7,683.2 1980.2,693.8 1980.7,679.5 1981.1,684.2 1981.6,689.5 1982.1,687.4 1982.6,693.0 1983.0,676.4 1983.5,697.0 1984.0,686.0 1984.5,677.9 1984.9,668.8 1985.4,686.5 1985.9,680.6 1986.3,676.7 1986.8,690.5 1987.3,692.1 1987.7,693.4 1988.2,678.3 1988.7,681.0 1989.1,679.1 1989.6,690.3 1990.0,701.4 1990.5,699.5 1991.0,699.3 1991.4,675.8 1991.9,686.0 1992.3,677.3 1992.8,680.3 1993.3,681.4 1993.7,680.6 1994.2,660.3 1994.6,684.9 1995.1,670.5 1995.5,679.6 1996.0,660.6 1996.4,678.0 1996.9,678.6 1997.3,692.5 1997.8,663.3 1998.2,676.6 1998.7,668.8 1999.1,667.6 1999.6,690.1 2000.0,680.0 2000.5,683.1 2000.9,681.2 2001.4,677.2 2001.8,677.0 2002.2,667.6 2002.7,684.9 2003.1,683.3 2003.6,675.3 2004.0,691.3 2004.4,677.9 2004.9,669.5 2005.3,680.7 2005.8,682.6 2006.2,666.4 2006.6,680.5 2007.1,683.1 2007.5,674.2 2007.9,683.1 2008.4,685.4 2008.8,664.6 2009.2,682.3 2009.7,671.1 2010.1,667.8 2010.5,678.3 2011.0,670.9 2011.4,676.2 2011.8,669.4 2012.2,663.3 2012.7,673.8 2013.1,667.8 2013.5,669.7 2013.9,663.8 2014.4,671.3 2014.8,668.0 2015.2,677.7 2015.6,665.2 2016.1,673.6 2016.5,664.8 2016.9,656.7 2017.3,680.3 2017.7,675.7 2018.2,680.0 2018.6,688.8 2019.0,671.7 2019.4,675.9 2019.8,675.3 2020.2,678.2 2020.6,703.1 2021.1,681.6 2021.5,682.6 2021.9,673.2 2022.3,677.5 2022.7,673.4 2023.1,685.6 2023.5,668.3 2023.9,678.5 2024.4,666.3 2024.8,668.2 2025.2,663.7 2025.6,674.5 2026.0,668.5 2026.4,678.3 2026.8,673.5 2027.2,669.6 2027.6,667.7 2028.0,682.0 2028.4,667.8 2028.8,684.0 2029.2,662.5 2029.6,685.3 2030.0,683.5 2030.4,681.0 2030.8,686.2 2031.2,670.0 2031.6,678.1 2032.0,686.1 2032.4,690.8 2032.8,682.4 2033.2,683.9 2033.6,681.9 2034.0,688.8 2034.4,674.6 2034.8,663.1 2035.2,691.1 2035.6,686.4 2036.0,671.6 2036.4,685.1 2036.8,694.5 2037.2,698.6 2037.5,680.8 2037.9,692.9 2038.3,673.8 2038.7,688.0 2039.1,690.5 2039.5,674.8 2039.9,671.7 2040.3,698.9 2040.7,691.0 2041.0,699.2 2041.4,677.4 2041.8,673.6 2042.2,693.5 2042.6,674.7 2043.0,660.2 2043.3,672.6 2043.7,677.6 2044.1,674.9 2044.5,651.7 2044.9,673.0 2045.3,653.6 2045.6,689.2 2046.0,660.7 2046.4,666.9 2046.8,675.4 2047.1,672.0 2047.5,687.2 2047.9,674.4 2048.3,684.5 2048.7,685.8 2049.0,686.9 2049.4,674.8 2049.8,699.3 2050.2,678.1 2050.5,676.9 2050.9,681.9 2051.3,685.4 2051.6,662.1 2052.0,678.5 2052.4,690.0 2052.8,681.6 2053.1,680.4 2053.5,685.1 2053.9,680.0 2054.2,664.7 2054.6,665.4 2055.0,676.0 2055.3,655.5 2055.7,675.8 2056.1,692.4 2056.4,674.0 2056.8,685.0 2057.2,657.9 2057.5,672.2 2057.9,677.5 2058.3,681.5 2058.6,674.6 2059.0,689.8 2059.3,680.6 2059.7,678.4 2060.1,681.7 2060.4,687.4 2060.8,674.5 2061.2,681.5 2061.5,677.8 2061.9,690.0 2062.2,681.1 2062.6,669.3 2062.9,679.0 2063.3,671.3 2063.7,682.5 2064.0,676.8 2064.4,681.6 2064.7,679.8 2065.1,671.2 2065.4,679.3 2065.8,679.4 2066.1,680.9 2066.5,681.8 2066.8,679.8 2067.2,669.9 2067.6,670.3 2067.9,686.9 2068.3,699.2 2068.6,696.2 2069.0,685.2 2069.3,693.6 2069.7,691.2 2070.0,679.9 2070.3,686.2 2070.7,676.7 2071.0,691.4 2071.4,704.9 2071.7,686.5 2072.1,674.6 2072.4,686.8 2072.8,691.2 2073.1,673.8 2073.5,685.7 2073.8,680.8 2074.2,675.2 2074.5,675.0 2074.8,688.8 2075.2,695.2 2075.5,656.5 2075.9,677.1 2076.2,684.8 2076.5,665.8 2076.9,672.8 2077.2,680.9 2077.6,683.5 2077.9,680.9 2078.2,667.8 2078.6,679.2 2078.9,684.4 2079.3,686.5 2079.6,668.3 2079.9,691.5 2080.3,674.9 2080.6,694.1 2080.9,668.1 2081.3,665.2 2081.6,679.0 2081.9,686.7 2082.3,674.6 2082.6,681.6 2082.9,665.6 2083.3,669.9 2083.6,676.9 2083.9,681.2 2084.3,693.1 2084.6,686.2 2084.9,681.6 2085.3,682.9 2085.6,672.6 2085.9,692.3 2086.3,676.0 2086.6,675.0 2086.9,700.0 2087.2,672.6 2087.6,682.8 2087.9,677.0 2088.2,669.4 2088.6,669.4 2088.9,676.7 2089.2,686.7 2089.5,679.9 2089.9,666.7 2090.2,682.3 2090.5,669.9 2090.8,665.9 2091.2,665.8 2091.5,678.2 2091.8,657.3 2092.1,665.3 2092.4,674.9 2092.8,679.7 2093.1,661.4 2093.4,674.2 2093.7,673.3 2094.1,682.9 2094.4,683.4 2094.7,685.2 2095.0,680.2 2095.3,675.5 2095.6,681.4 2096.0,685.4 2096.3,687.4 2096.6,682.9 2096.9,675.1 2097.2,677.4 2097.6,670.9 2097.9,697.7 2098.2,680.5 2098.5,686.5 2098.8,685.4 2099.1,686.1 2099.4,680.4 2099.8,675.0 2100.1,686.0 2100.4,659.1 2100.7,677.2 2101.0,673.4 2101.3,674.6 2101.6,684.9 2101.9,673.1 2102.3,678.3 2102.6,673.0 2102.9,681.5 2103.2,678.3 2103.5,687.8 2103.8,693.2 2104.1,682.0 2104.4,675.0 2104.7,693.3 2105.0,685.5 2105.4,688.9 2105.7,687.4 2106.0,687.4 2106.3,668.7 2106.6,683.5 2106.9,678.1 2107.2,681.0 2107.5,678.9 2107.8,693.6 2108.1,678.7 2108.4,682.1 2108.7,663.9 2109.0,685.1 2109.3,666.9 2109.6,681.7 2109.9,677.8 2110.2,690.0 2110.5,685.4 2110.8,690.5 2111.1,690.4 2111.4,670.0 2111.7,689.3 2112.0,691.7 2112.4,691.1 2113.0,674.5 2113.2,691.0 2113.8,698.6 2114.1,679.6 2114.7,691.8 2115.0,689.4 2115.6,679.2 2115.9,674.8 2116.5,681.3 2116.8,692.4 2117.4,713.2 2117.7,688.7 2118.0,701.3 2118.6,688.4 2118.9,682.7 2119.5,697.7 2120.1,690.8 2120.3,704.1 2120.9,700.4 2121.2,693.0 2121.5,680.8 2122.1,690.8 2122.4,702.3 2123.0,677.8 2123.3,671.5 2123.5,692.7 2124.4,678.5 2124.7,696.4 2125.0,685.7 2125.3,699.4 2126.1,688.2 2126.4,683.9 2126.7,687.7 2127.0,681.7 2127.8,683.1 2128.1,694.3 2128.7,694.3 2129.0,671.6 2129.3,690.9 2129.5,677.2 2130.1,674.7 2130.7,683.7 2131.0,670.4 2131.5,677.9 2131.8,683.1 2132.4,691.6 2132.9,662.8 2133.2,690.0 2133.5,696.0 2133.8,680.1 2134.6,677.0 2134.9,691.4 2135.1,682.5 2135.4,693.8 2136.0,683.3 2136.3,694.7 2136.8,695.2 2137.1,689.1 2137.6,703.6 2137.9,694.5 2138.5,700.1 2138.7,683.7 2139.5,706.6 2139.8,689.3 2140.4,688.1 2140.6,694.8 2140.9,709.9 2141.5,680.3 2141.7,689.1 2142.0,705.2 2142.5,677.2 2142.8,692.0 2143.3,698.6 2143.9,694.3 2144.1,685.2 2144.4,700.6 2145.2,698.9 2145.5,689.3 2146.0,682.0 2146.3,688.4 2146.6,708.3 2147.1,685.5 2147.4,688.6 2147.9,683.6 2148.2,690.8 2148.7,671.7 2148.9,691.8 2149.2,671.8 2150.0,682.8 2150.3,672.3 2150.8,680.9 2151.1,689.5 2151.3,688.1 2151.6,670.2 2152.1,670.9 2152.4,684.8 2153.1,669.7 2153.4,677.8 2153.9,689.9 2154.2,666.2 2154.4,674.3 2155.0,692.1 2155.2,690.0 2155.7,682.4 2156.0,694.6 2156.5,675.6 2156.8,667.8 2157.3,676.7 2157.5,686.0 2157.8,682.1 2158.3,689.5 2158.6,683.2 2159.3,679.4 2159.6,685.2 2159.8,673.4 2160.1,690.3 2160.6,679.0 2160.8,691.3 2161.4,680.8 2161.6,696.8 2162.1,675.3 2162.6,698.1 2162.9,679.9 2163.1,690.6 2163.6,687.7 2164.1,675.7 2164.4,678.4 2164.9,696.2 2165.1,688.7 2165.6,701.9 2165.9,683.7 2166.4,688.0 2166.9,694.5 2167.1,679.7 2167.4,691.4 2167.6,666.1 2168.1,678.1 2168.3,689.3 2168.8,691.4 2169.1,687.3 2169.8,680.2 2170.1,664.5 2170.3,676.2 2170.8,689.4 2171.3,682.0 2171.5,679.4 2171.8,669.1 2172.0,683.8 2172.5,689.7 2172.8,670.3 2173.2,678.1 2173.7,693.6 2174.2,677.2 2174.4,700.8 2174.7,685.3 2175.2,672.7 2175.7,681.0 2175.9,674.8 2176.1,699.2 2176.6,689.0 2176.9,679.4 2177.1,670.1 2177.6,666.5 2177.8,669.3 2178.3,658.0 2178.5,684.0 2179.0,665.7 2179.5,671.8 2180.0,677.8 2180.2,676.6 2180.4,668.5 2180.9,675.2 2181.1,679.1 2181.4,672.1 2182.1,684.8 2182.3,680.6 2182.8,670.4 2183.0,673.8 2183.2,667.0 2183.5,683.5 2183.9,679.2 2184.2,669.1 2184.6,681.4 2185.1,651.4 2185.3,668.9 2185.8,656.5 2186.3,671.5 2186.5,680.2 2187.0,693.4 2187.2,674.2 2187.7,676.2 2187.9,653.9 2188.4,679.9 2188.6,670.2 2188.8,688.6 2189.0,658.4 2189.5,663.1 2190.0,682.3 2190.2,670.9 2190.6,688.9 2191.1,672.7 2191.3,694.0 2191.6,658.0 2191.8,692.6 2192.2,670.6 2192.5,680.1 2192.9,685.6 2193.1,679.4 2193.8,681.8 2194.0,692.1 2194.5,663.7 2194.7,695.6 2194.9,680.6 2195.2,677.5 2195.6,672.9 2195.8,695.4 2196.5,687.8 2196.7,676.6 2197.2,684.8 2197.4,696.8 2197.9,691.8 2198.1,675.2 2198.3,691.2 2198.5,686.0 2199.2,692.9 2199.4,668.2 2199.6,675.4 2199.8,682.1 2200.5,666.9 2200.7,687.3 2201.0,679.4 2201.2,677.3 2201.8,671.7 2202.1,686.9 2202.3,672.8 2202.7,676.7 2202.9,685.8 2203.4,683.3 2203.6,688.9 2203.8,678.2 2204.2,684.0 2204.5,677.5 2205.1,663.7 2205.3,676.4 2205.8,672.9 2206.0,690.0 2206.4,686.5 2206.6,665.1 2206.8,680.8 2207.0,665.5 2207.5,669.7 2207.7,683.7 2208.1,669.5 2208.6,686.8 2209.0,667.0 2209.2,684.9 2209.4,677.6 2209.6,687.2 2210.3,686.5 2210.5,688.7 2210.7,675.2 2210.9,682.2 2211.5,672.4 2211.7,702.2 2212.0,690.9 2212.2,682.1 2212.6,679.4 2213.0,698.7 2213.2,692.4 2213.6,684.2 2213.9,699.1 2214.1,692.0 2214.5,680.9 2214.7,690.1 2215.1,698.9 2215.3,688.1 2215.7,691.1 2216.0,677.9 2216.6,706.8 2216.8,680.9 2217.0,693.8 2217.4,673.5 2217.6,685.3 2217.8,693.8 2218.4,680.2 2218.7,673.9 2219.1,675.0 2219.3,668.0 2219.7,664.0 2219.9,680.4 2220.1,681.2 2220.5,673.6 2220.9,680.1 2221.1,667.7 2221.5,665.2 2221.7,681.9 2222.1,682.5 2222.4,657.8 2222.6,680.1 2222.8,674.1 2223.2,678.4 2223.6,689.1 2224.0,672.4 2224.2,677.1 2224.4,670.1 2224.6,692.6 2225.0,677.7 2225.4,668.8 2225.8,671.8 2226.0,678.8 2226.2,685.6 2226.4,672.1 2226.8,694.7 2227.2,670.9 2227.6,671.3 2227.8,694.4 2228.2,662.1 2228.6,688.2 2228.8,668.9 2229.0,676.6 2229.6,678.2 2230.2,665.9 2230.8,688.1 2231.0,682.8 2231.2,677.5 2231.4,683.6 2232.0,689.8 2232.4,668.7 2233.0,694.6 2233.2,681.3 2233.8,689.3 2234.2,678.5 2234.3,686.4 2234.5,698.8 2235.1,695.3 2235.7,687.8 2235.9,702.5 2236.5,682.7 2236.9,701.8 2237.1,688.3 2237.7,679.5 2237.8,701.1 2238.2,670.1 2238.8,690.7 2239.2,684.4 2239.6,660.6 2239.8,665.5 2240.3,684.0 2240.7,667.9 2240.9,685.2 2241.5,672.6 2241.9,688.1 2242.3,681.7 2242.4,687.0 2242.8,666.5 2243.2,696.7 2244.0,698.6 2244.2,679.4 2244.3,675.4 2244.9,686.0 2245.5,697.0 2245.7,684.5 2245.9,703.2 2246.2,693.6 2246.8,677.8 2247.0,703.2 2247.4,683.7 2247.9,699.3 2248.5,695.6 2248.7,665.6 2249.2,681.4 2249.4,677.0 2249.6,679.7 2249.8,693.0 2250.3,702.8 2250.7,687.9 2251.3,704.7 2251.4,670.1 2252.0,668.5 2252.2,686.1 2252.7,670.2 2252.9,681.9 2253.3,667.1 2253.5,691.4 2254.4,678.6 2254.6,670.9 2254.9,685.6 2255.1,667.0 2255.6,693.0 2256.0,676.5 2256.4,677.8 2256.6,689.2 2256.9,676.2 2257.5,688.6 2257.6,684.6 2257.8,678.0 2258.7,675.3 2258.9,686.4 2259.3,692.0 2259.4,672.9 2260.1,691.6 2260.3,679.7 2260.9,685.1 2261.0,700.5 2261.2,690.1 2261.6,679.0 2262.3,694.4 2262.5,678.2 2262.8,676.3 2263.0,697.2 2263.3,675.3 2263.5,689.8 2264.1,683.2 2264.6,696.3 2265.1,681.9 2265.3,668.9 2265.6,694.9 2266.0,668.5 2266.5,675.8 2266.7,687.6 2266.9,662.8 2267.0,691.7 2267.6,676.4 2268.1,694.8 2268.4,672.2 2268.6,691.0 2269.0,690.5 2269.1,684.3 2269.8,688.2 2270.2,683.2 2270.3,688.0 2270.5,669.3 2271.0,700.6 2271.5,666.3 2271.7,678.3 2271.9,696.7 2272.7,692.5 2272.9,674.2 2273.1,667.2 2273.4,688.4 2273.8,670.4 2274.1,688.0 2274.8,691.0 2275.0,678.1 2275.1,697.0 2275.6,667.5 2276.0,675.1 2276.3,695.2 2276.5,696.0 2276.6,675.1 2277.3,679.2 2277.7,693.8 2278.0,697.8 2278.3,677.5 2278.5,690.1 2278.8,673.2 2279.2,693.4 2279.5,668.7 2280.0,682.3 2280.3,692.2 2280.7,687.8 2280.8,675.3 2281.2,702.2 2281.7,675.7 2281.8,672.0 2282.0,694.3 2282.5,668.9 2283.0,683.0 2283.1,700.2 2283.6,676.1 2283.8,676.8 2284.1,695.9 2284.5,690.2 2284.8,676.7 2285.3,673.8 2285.6,687.7 2285.8,673.4 2286.3,690.7 2286.4,687.7 2286.8,667.1 2287.1,666.0 2287.6,681.5 2287.9,680.2 2288.1,664.1 2288.4,683.4 2288.5,671.2 2289.0,690.4 2289.3,664.9 2289.7,686.9 2290.2,669.7 2290.5,689.5 2290.6,672.7 2291.1,662.4 2291.4,690.7 2291.9,664.5 2292.1,688.5 2292.2,686.4 2292.6,675.7 2292.9,690.4 2293.0,663.7 2293.5,695.1 2294.0,678.5 2294.3,679.1 2294.5,685.8 2294.8,694.6 2294.9,679.5 2295.6,677.6 2295.7,690.0 2296.0,683.9 2296.2,703.6 2296.7,688.8 2296.8,668.3 2297.5,693.4 2297.8,678.0 2297.9,677.9 2298.2,682.1 2298.7,667.7 2299.0,685.4 2299.3,668.4 2299.5,690.6 2299.8,674.0 2300.1,686.3 2300.7,679.9 2300.9,665.0 2301.4,691.1 2301.5,670.6 2302.0,677.2 2302.1,663.0 2302.4,687.8 2302.7,680.5 2303.0,683.6 2303.4,659.5 2303.5,676.1 2303.7,665.8 2304.1,667.8 2304.4,672.7 2304.7,686.5 2305.0,672.4 2305.3,684.9 2305.8,670.6 2306.1,657.7 2306.3,682.1 2306.6,685.8 2306.7,665.0 2307.5,669.9 2307.6,693.5 2307.8,676.4 2308.1,667.3 2308.5,669.3 2308.7,683.4 2309.0,677.2 2309.3,688.0 2309.6,670.7 2309.9,681.6 2310.6,672.2 2310.8,688.8 2310.9,685.1 2311.5,677.4 2311.7,689.0 2312.0,672.3 2312.4,664.5 2312.6,694.3 2313.3,673.7 2313.6,684.0 2313.9,674.6 2314.2,690.6 2314.8,689.6 2314.9,662.1 2315.4,685.2 2316.0,659.0 2316.3,691.7 2316.4,672.2 2316.9,670.4 2317.0,685.6 2317.6,665.2 2317.9,684.0 2318.3,683.7 2318.6,672.1 2319.2,666.2 2319.3,675.6 2319.9,688.3 2320.3,662.3 2320.5,691.5 2321.1,675.7 2321.2,657.9 2321.4,689.9 2322.1,685.4 2322.4,671.8 2322.9,669.4 2323.2,688.2 2323.8,680.8 2323.9,665.2 2324.5,666.1 2324.7,685.8 2324.8,680.8 2324.9,667.1 2325.5,686.8 2325.8,669.3 2326.2,682.6 2326.8,669.8 2327.1,677.1 2327.5,692.5 2327.8,672.1 2328.2,688.1 2328.8,683.0 2328.9,697.7 2329.0,681.1 2329.5,693.5 2329.7,674.9 2329.9,699.5 2330.4,693.7 2330.6,669.8 2331.3,701.5 2331.7,684.1 2331.8,683.7 2332.0,696.6 2332.5,683.5 2332.7,693.3 2333.2,699.4 2333.4,680.5 2333.9,691.0 2334.5,681.2 2334.7,693.7 2335.0,680.2 2335.4,699.9 2335.8,677.7 2336.0,692.7 2336.5,699.7 2336.7,701.2 2337.2,707.2 2337.3,708.7 2337.9,714.7 2338.0,716.2 2338.6,722.2 2338.7,723.7 2339.1,727.0 2339.4,727.0 2340.1,727.0 2340.7,727.0 2341.3,724.1 2341.4,722.6 2341.9,716.7 2342.1,715.2 2342.6,709.3 2342.7,707.8 2343.3,702.0 2343.7,702.4 2343.9,694.6 2344.1,689.3 2344.3,681.6 2344.7,702.9 2345.1,677.4 2345.8,705.6 2345.9,684.4 2346.1,702.0 2346.6,679.1 2346.9,699.5 2347.0,668.9 2347.4,674.6 2347.8,694.0 2348.0,688.1 2348.3,674.6 2348.7,699.7 2349.1,672.3 2349.5,689.0 2349.7,677.0 2350.1,665.2 2350.4,684.9 2350.8,687.1 2351.0,673.4 2351.7,674.5 2351.8,691.5 2352.0,686.3 2352.1,672.8 2352.7,694.9 2353.1,670.7 2353.2,665.3 2353.4,697.1 2354.1,688.8 2354.4,672.5 2354.5,666.5 2354.7,684.3 2355.6,660.5 2355.7,676.5 2356.1,670.8 2356.3,678.7 2356.5,663.7 2356.7,678.9 2357.2,689.1 2357.3,666.5 2358.0,662.7 2358.1,685.1 2358.6,692.4 2358.7,673.1 2359.1,679.3 2359.2,687.5 2359.9,654.1 2360.1,691.2 2360.4,686.3 2360.5,665.7 2360.9,671.6 2361.0,692.0 2361.5,681.7 2362.0,666.5 2362.3,667.9 2362.4,681.1 2363.0,685.8 2363.1,666.2 2363.4,684.5 2363.5,672.6 2364.0,689.5 2364.4,674.1 2364.6,689.7 2365.0,675.8 2365.2,687.5 2365.4,669.4 2366.1,672.2 2366.2,693.3 2366.7,688.8 2366.8,675.0 2367.3,669.4 2367.5,694.0 2367.7,666.9 2368.1,691.1 2368.4,671.2 2368.7,690.0 2369.2,693.1 2369.4,669.0 2369.9,686.9 2370.0,676.0 2370.5,697.1 2370.6,685.1 2370.7,670.4 2371.1,683.2 2371.4,679.9 2371.6,691.4 2372.0,691.6 2372.1,665.9 2372.8,677.8 2373.0,693.4 2373.3,688.7 2373.4,672.0 2374.2,700.3 2374.4,672.8 2374.6,696.2 2375.1,674.2 2375.6,697.8 2375.8,674.5 2376.0,695.0 2376.5,683.0 2376.7,682.4 2377.2,697.9 2377.6,674.6 2377.8,703.1 2378.0,703.5 2378.3,686.5 2378.8,686.3 2379.0,710.0 2379.5,691.1 2379.6,711.1 2380.5,689.2 2380.8,701.2 2381.3,712.3 2381.5,683.1 2381.8,701.5 2382.2,681.1 2382.4,677.0 2382.5,704.8 2383.0,700.5 2383.1,676.5 2383.9,692.1 2384.2,675.7 2384.7,697.5 2384.9,687.2 2385.2,698.3 2385.4,673.4 2386.0,704.3 2386.2,688.1 2386.8,693.3 2387.0,671.5 2387.6,672.8 2387.7,689.5 2387.8,688.6 2388.0,676.5 2388.5,669.6 2388.8,688.0 2389.2,664.8 2389.7,697.8 2390.2,691.8 2390.3,673.9 2390.6,689.3 2390.9,659.4 2391.2,671.6 2391.8,694.1 2392.1,685.3 2392.4,656.9 2392.8,666.4 2392.9,697.6 2393.2,658.1 2393.3,679.4 2393.9,671.5 2394.0,684.4 2394.7,681.2 2394.8,659.1 2395.5,657.1 2395.7,688.0 2396.2,678.7 2396.3,667.4 2396.8,659.7 2397.0,681.8 2397.7,666.3 2397.8,685.1 2397.9,665.7 2398.4,681.4 2398.9,670.2 2399.0,682.3 2399.4,689.6 2399.8,669.0 2400.2,669.1 2400.3,688.2 2400.5,683.3 2401.1,675.6 2401.2,672.2 2401.7,694.7 2401.8,686.8 2402.2,663.9 2402.6,658.0 2402.7,694.4 2403.4,686.2 2403.5,660.5 2403.9,684.8 2404.0,666.9 2404.8,688.7 2405.0,665.1 2405.1,682.8 2405.3,665.4 2405.8,689.9 2405.9,671.1 2406.8,661.2 2406.9,697.8 2407.3,679.4 2407.5,671.5 2407.9,658.1 2408.1,681.9 2408.3,670.1 2408.4,679.0 2409.2,670.4 2409.3,673.6 2409.6,685.1 2410.0,661.0 2410.2,670.4 2410.3,684.7 2410.8,655.9 2411.2,683.6 2411.7,688.0 2412.0,669.7 2412.2,661.2 2412.3,683.6 2412.8,662.4 2413.2,673.2 2413.4,660.0 2413.9,670.8 2414.1,653.5 2414.3,679.7 2414.6,658.4 2414.9,681.1 2415.2,678.5 2415.6,672.0 2416.1,683.3 2416.4,674.7 2416.7,682.3 2417.0,693.3 2417.1,679.5 2417.6,695.7 2417.7,701.7 2417.9,690.5 2418.3,706.1 2418.6,699.3 2418.9,696.9 2419.4,710.6 2419.6,713.0 2419.7,706.9 2420.4,711.3 2420.7,713.9 2420.8,714.5 2421.3,716.6 2421.4,717.2 2421.5,717.8"/>
</g>
<text x="117.5" y="663.3" font-size="89">10</text>
<text x="214" y="626.3" font-size="61">0</text>
<text x="117.5" y="462.8" font-size="89">10</text>
<text x="214" y="425.8" font-size="61">1</text>
<text x="117.5" y="262.2" font-size="89">10</text>
<text x="214" y="225.2" font-size="61">2</text>
<text x="338.0" y="220.5" font-size="84.5">East</text>
<g clip-path="url(#c1)">
<line x1="955.8" y1="895" x2="955.8" y2="1548" stroke="#808080" stroke-width="6" stroke-dasharray="6 8"/>
<line x1="1152.6" y1="895" x2="1152.6" y2="1548" stroke="#808080" stroke-width="6" stroke-dasharray="6 8"/>
<line x1="1267.8" y1="895" x2="1267.8" y2="1548" stroke="#808080" stroke-width="6" stroke-dasharray="6 8"/>
<line x1="1349.5" y1="895" x2="1349.5" y2="1548" stroke="#808080" stroke-width="6" stroke-dasharray="6 8"/>
<line x1="1412.8" y1="895" x2="1412.8" y2="1548" stroke="#808080" stroke-width="6" stroke-dasharray="6 8"/>
<line x1="1464.6" y1="895" x2="1464.6" y2="1548" stroke="#808080" stroke-width="6" stroke-dasharray="6 8"/>
<line x1="1508.4" y1="895" x2="1508.4" y2="1548" stroke="#808080" stroke-width="6" stroke-dasharray="6 8"/>
<line x1="1546.3" y1="895" x2="1546.3" y2="1548" stroke="#808080" stroke-width="6" stroke-dasharray="6 8"/>
<line x1="1579.7" y1="895" x2="1579.7" y2="1548" stroke="#808080" stroke-width="6" stroke-dasharray="6 8"/>
<line x1="944.7" y1="884" x2="944.7" y2="1548" stroke="#000" stroke-width="6"/>
<line x1="1142.6" y1="884" x2="1142.6" y2="1548" stroke="#000" stroke-width="6"/>
</g>
<rect x="291" y="884" width="2129" height="664" fill="none" stroke="#000" stroke-width="6"/>
<path d="M290.9 884v-27M290.9 1548v25M487.7 884v-13M487.7 1548v11M602.8 884v-13M602.8 1548v11M684.5 884v-13M684.5 1548v11M747.9 884v-13M747.9 1548v11M799.7 884v-13M799.7 1548v11M843.4 884v-13M843.4 1548v11M881.3 884v-13M881.3 1548v11M914.8 884v-13M914.8 1548v11M944.7 884v-27M944.7 1548v25M1141.5 884v-13M1141.5 1548v11M1256.6 884v-13M1256.6 1548v11M1338.3 884v-13M1338.3 1548v11M1401.7 884v-13M1401.7 1548v11M1453.5 884v-13M1453.5 1548v11M1497.2 884v-13M1497.2 1548v11M1535.1 884v-13M1535.1 1548v11M1568.6 884v-13M1568.6 1548v11M1598.5 884v-27M1598.5 1548v25M1795.9 884v-13M1795.9 1548v11M1911.3 884v-13M1911.3 1548v11M1993.3 884v-13M1993.3 1548v11M2056.8 884v-13M2056.8 1548v11M2108.7 884v-13M2108.7 1548v11M2152.6 884v-13M2152.6 1548v11M2190.7 884v-13M2190.7 1548v11M2224.2 884v-13M2224.2 1548v11M2254.2 884v-27M2254.2 1548v25M291 1521.5h-13M2420 1521.5h11M291 1484.0h-13M2420 1484.0h11M291 1457.5h-13M2420 1457.5h11M291 1436.9h-27M2420 1436.9h25M291 1372.9h-13M2420 1372.9h11M291 1309.0h-13M2420 1309.0h11M291 1271.6h-13M2420 1271.6h11M291 1245.0h-13M2420 1245.0h11M291 1224.4h-27M2420 1224.4h25M291 1160.4h-13M2420 1160.4h11M291 1096.5h-13M2420 1096.5h11M291 1059.1h-13M2420 1059.1h11M291 1032.5h-13M2420 1032.5h11M291 1011.9h-27M2420 1011.9h25M291 948.0h-13M2420 948.0h11M291 884.0h-13M2420 884.0h11" stroke="#000" stroke-width="6" fill="none"/>
<g clip-path="url(#d1)">
<polyline fill="none" stroke="#ff0000" stroke-width="7.5" stroke-linejoin="round" stroke-linecap="round" points="164.7,1332.0 361.5,1330.8 476.7,1320.3 558.4,1328.0 621.7,1342.2 673.5,1326.4 717.2,1285.5 755.2,1265.7 788.6,1239.2 818.5,1212.7 845.6,1222.9 870.3,1241.2 893.0,1159.6 914.1,1071.8 933.7,1023.9 952.0,1005.5 969.2,1015.7 985.4,1057.6 1000.8,1125.0 1016.3,1222.9 1028.6,1249.4 1044.9,1257.6 1066.3,1345.3 1089.8,1269.8 1110.2,1322.9 1120.4,1321.8 1155.1,1173.9 1163.0,1185.0 1179.6,1324.9 1189.8,1355.5 1198.0,1344.3 1210.2,1369.8 1218.4,1373.9 1226.5,1365.7 1240.8,1400.4 1249.0,1357.6 1275.5,1361.6 1285.7,1402.4 1299.0,1394.9 1313.8,1407.6 1326.4,1435.0 1339.1,1392.8 1349.6,1416.0 1366.5,1437.1 1374.9,1422.4 1383.4,1435.0 1398.1,1449.8 1415.0,1373.8 1427.7,1430.8 1429.4,1432.0 1432.7,1435.8 1435.9,1439.2 1440.3,1443.5 1442.3,1440.9 1445.4,1436.9 1448.5,1432.4 1451.6,1428.6 1453.0,1426.6 1454.7,1429.2 1457.7,1434.0 1460.6,1436.8 1463.6,1439.7 1465.7,1443.5 1469.4,1445.7 1472.2,1445.3 1476.2,1449.8 1477.8,1448.1 1480.6,1447.2 1483.4,1442.9 1486.1,1442.0 1488.9,1439.2 1491.4,1428.8 1494.1,1421.7 1497.3,1407.6 1499.3,1416.0 1501.9,1434.5 1503.6,1443.5 1506.9,1437.0 1509.4,1433.0 1511.9,1431.5 1514.4,1418.5 1516.8,1418.2 1518.4,1413.9 1521.6,1421.7 1524.0,1428.0 1526.3,1438.2 1529.0,1441.4 1531.0,1439.6 1533.3,1451.4 1535.6,1451.6 1537.8,1461.0 1540.5,1466.7 1542.3,1445.3 1544.5,1420.9 1546.9,1409.7 1548.9,1424.9 1551.1,1430.5 1553.2,1443.2 1556.4,1456.1 1559.5,1448.9 1561.6,1447.7 1563.7,1448.1 1565.7,1442.6 1567.8,1442.5 1569.0,1435.0 1571.8,1427.4 1573.8,1435.5 1575.8,1436.4 1577.7,1435.5 1579.7,1421.0 1581.7,1422.4 1583.5,1425.9 1585.5,1435.6 1587.4,1442.4 1590.1,1454.0 1593.0,1449.0 1594.8,1456.0 1596.7,1443.2 1598.5,1453.5 1600.3,1441.1 1602.1,1445.1 1603.9,1433.5 1605.7,1434.5 1607.5,1437.0 1609.1,1432.9 1611.0,1443.5 1612.7,1445.6 1614.5,1465.6 1616.2,1459.4 1617.6,1470.9 1619.6,1477.1 1621.3,1460.4 1623.0,1466.2 1624.6,1471.4 1626.3,1462.7 1627.9,1456.9 1630.2,1458.2 1632.8,1452.5 1634.5,1440.7 1636.1,1445.6 1638.6,1435.0 1640.8,1443.6 1642.4,1450.9 1643.9,1454.0 1645.5,1447.1 1647.0,1457.8 1648.6,1466.9 1651.3,1475.1 1653.1,1476.3 1654.6,1456.0 1656.1,1455.4 1657.6,1457.5 1659.1,1451.4 1660.6,1442.7 1662.0,1443.1 1663.5,1434.8 1666.1,1428.7 1667.8,1436.4 1669.2,1443.9 1670.7,1448.0 1672.1,1456.1 1673.5,1468.5 1674.9,1472.4 1676.6,1477.2 1683.1,1457.9 1684.5,1454.3 1685.8,1463.1 1687.2,1467.4 1688.5,1451.9 1689.8,1446.1 1691.2,1453.1 1692.5,1461.7 1693.8,1461.4 1695.1,1452.7 1696.4,1449.3 1697.7,1459.2 1699.0,1468.9 1700.2,1457.3 1701.5,1471.2 1702.8,1461.7 1704.0,1460.7 1705.3,1453.6 1706.6,1467.9 1707.8,1457.6 1709.0,1445.8 1710.3,1462.7 1711.5,1455.7 1712.7,1470.6 1714.0,1467.2 1715.2,1462.5 1716.4,1466.4 1717.6,1457.5 1718.8,1451.2 1720.0,1455.9 1721.2,1461.4 1722.3,1454.6 1723.5,1452.1 1724.7,1447.9 1725.9,1456.2 1727.0,1453.8 1728.2,1458.7 1729.3,1454.2 1730.5,1467.4 1731.6,1440.9 1732.8,1453.7 1733.9,1459.3 1735.1,1462.5 1736.2,1445.3 1737.3,1449.5 1738.4,1460.3 1739.5,1469.7 1740.6,1470.2 1741.8,1451.0 1742.9,1463.6 1744.0,1471.7 1745.0,1463.3 1746.1,1455.6 1747.2,1458.4 1748.3,1454.3 1749.4,1473.5 1750.5,1462.8 1751.5,1462.2 1752.6,1460.1 1753.6,1466.7 1754.7,1461.5 1755.8,1461.0 1756.8,1467.9 1757.8,1466.3 1758.9,1471.3 1759.9,1468.9 1761.0,1476.2 1762.0,1465.7 1763.0,1466.3 1764.0,1464.7 1765.1,1456.5 1766.1,1471.9 1767.1,1459.7 1768.1,1453.2 1769.1,1475.3 1770.1,1471.1 1771.1,1461.6 1772.1,1472.2 1773.1,1471.2 1774.1,1468.5 1775.1,1454.1 1776.0,1463.6 1777.0,1453.0 1778.0,1454.3 1779.0,1453.2 1779.9,1450.4 1780.9,1461.1 1781.8,1453.0 1782.8,1465.8 1783.8,1464.3 1784.7,1459.4 1785.7,1465.2 1786.6,1468.4 1787.5,1470.7 1788.5,1459.1 1789.4,1473.5 1790.3,1464.6 1791.3,1469.5 1792.2,1449.5 1793.1,1451.4 1794.0,1468.2 1795.0,1457.3 1795.9,1463.4 1796.8,1471.4 1797.7,1454.5 1798.6,1471.9 1799.5,1484.9 1800.4,1476.5 1801.3,1470.3 1802.2,1472.3 1803.1,1466.4 1804.0,1470.8 1804.9,1474.2 1805.7,1462.3 1806.6,1467.2 1807.5,1463.4 1808.4,1465.1 1809.2,1464.6 1810.1,1449.8 1811.0,1467.0 1811.8,1465.1 1812.7,1450.8 1813.6,1457.5 1814.4,1449.0 1815.3,1458.0 1816.1,1464.2 1817.0,1455.7 1817.8,1461.9 1818.7,1464.1 1819.5,1467.3 1820.3,1466.9 1821.2,1463.0 1822.0,1472.5 1822.8,1463.1 1823.7,1455.4 1824.5,1467.3 1825.3,1455.2 1826.2,1467.0 1827.0,1451.8 1827.8,1473.3 1828.6,1460.4 1829.4,1457.3 1830.2,1467.9 1831.0,1454.5 1831.8,1456.4 1832.6,1466.3 1833.4,1460.7 1834.2,1467.3 1835.0,1465.3 1835.8,1466.2 1836.6,1465.2 1837.4,1469.5 1838.2,1463.9 1839.0,1472.3 1839.8,1471.0 1840.6,1448.8 1841.3,1450.5 1842.1,1475.9 1842.9,1460.7 1843.7,1465.6 1844.4,1463.4 1845.2,1466.4 1846.0,1480.7 1846.7,1457.4 1847.5,1462.1 1848.2,1460.3 1849.0,1451.0 1849.8,1452.1 1850.5,1456.7 1851.3,1458.7 1852.0,1461.8 1852.8,1443.8 1853.5,1446.9 1854.3,1471.6 1855.0,1457.6 1855.7,1465.4 1856.5,1456.1 1857.2,1454.2 1858.0,1476.3 1858.7,1450.9 1859.4,1453.6 1860.1,1465.9 1860.9,1460.8 1861.6,1447.8 1862.3,1461.3 1863.0,1465.6 1863.8,1448.1 1864.5,1455.4 1865.2,1465.8 1865.9,1475.0 1866.6,1443.3 1867.3,1457.3 1868.0,1464.1 1868.8,1458.1 1869.5,1458.9 1870.2,1462.2 1870.9,1470.3 1871.6,1458.7 1872.3,1474.5 1873.0,1475.1 1873.7,1476.0 1874.4,1481.8 1875.0,1466.1 1875.7,1469.0 1876.4,1475.4 1877.1,1475.0 1877.8,1469.7 1878.5,1456.4 1879.2,1454.3 1879.8,1447.0 1880.5,1454.0 1881.2,1451.3 1881.9,1455.8 1882.5,1458.3 1883.2,1469.2 1883.9,1470.7 1884.6,1464.5 1885.2,1456.1 1885.9,1464.0 1886.6,1466.6 1887.2,1468.3 1887.9,1461.6 1888.5,1464.7 1889.2,1452.3 1889.9,1461.9 1890.5,1462.7 1891.2,1454.4 1891.8,1451.5 1892.5,1467.3 1893.1,1450.3 1893.8,1463.6 1894.4,1456.4 1895.1,1455.9 1895.7,1456.7 1896.3,1455.6 1897.0,1459.1 1897.6,1473.8 1898.3,1471.7 1898.9,1459.8 1899.5,1464.7 1900.2,1468.2 1900.8,1457.9 1901.4,1475.8 1902.1,1462.1 1902.7,1467.0 1903.3,1455.1 1903.9,1454.2 1904.6,1455.3 1905.2,1458.1 1905.8,1471.0 1906.4,1460.1 1907.0,1468.9 1907.7,1458.2 1908.3,1453.5 1908.9,1461.9 1909.5,1457.2 1910.1,1447.3 1910.7,1460.0 1911.3,1467.5 1911.9,1454.8 1912.6,1444.9 1913.2,1446.1 1913.8,1440.8 1914.4,1447.1 1915.0,1441.2 1915.6,1448.4 1916.2,1452.7 1916.8,1464.9 1917.4,1449.4 1918.0,1446.5 1918.5,1478.8 1919.1,1472.2 1919.7,1467.3 1920.3,1474.2 1920.9,1462.4 1921.5,1465.9 1922.1,1472.3 1922.7,1463.0 1923.3,1464.9 1923.8,1466.0 1924.4,1462.7 1925.0,1459.6 1925.6,1465.4 1926.2,1471.6 1926.7,1470.9 1927.3,1453.8 1927.9,1466.2 1928.5,1445.1 1929.0,1448.7 1929.6,1462.7 1930.2,1463.8 1930.7,1470.7 1931.3,1447.3 1931.9,1470.3 1932.4,1458.8 1933.0,1460.7 1933.6,1469.0 1934.1,1477.3 1934.7,1459.4 1935.3,1453.4 1935.8,1461.7 1936.4,1464.8 1936.9,1474.0 1937.5,1466.3 1938.0,1459.9 1938.6,1457.3 1939.1,1456.8 1939.7,1467.6 1940.2,1446.9 1940.8,1454.3 1941.3,1452.4 1941.9,1467.4 1942.4,1458.8 1943.0,1451.8 1943.5,1462.3 1944.1,1471.2 1944.6,1463.6 1945.1,1445.3 1945.7,1454.4 1946.2,1466.0 1946.8,1444.2 1947.3,1450.5 1947.8,1458.7 1948.4,1467.7 1948.9,1458.4 1949.4,1467.0 1950.0,1464.9 1950.5,1468.7 1951.0,1456.6 1951.6,1448.6 1952.1,1449.1 1952.6,1467.3 1953.1,1473.6 1953.7,1469.7 1954.2,1453.2 1954.7,1452.1 1955.2,1463.5 1955.8,1458.2 1956.3,1450.3 1956.8,1459.3 1957.3,1456.6 1957.8,1460.8 1958.3,1463.7 1958.9,1461.4 1959.4,1460.8 1959.9,1463.2 1960.4,1458.4 1960.9,1456.2 1961.4,1458.1 1961.9,1471.4 1962.4,1461.3 1963.0,1471.4 1963.5,1479.4 1964.0,1481.1 1964.5,1451.1 1965.0,1469.5 1965.5,1476.0 1966.0,1464.5 1966.5,1462.2 1967.0,1456.2 1967.5,1461.8 1968.0,1466.7 1968.5,1451.5 1969.0,1466.0 1969.5,1459.3 1970.0,1466.0 1970.5,1457.1 1971.0,1465.8 1971.5,1465.5 1971.9,1457.6 1972.4,1456.6 1972.9,1468.1 1973.4,1464.5 1973.9,1452.4 1974.4,1461.4 1974.9,1448.5 1975.4,1453.7 1975.9,1438.0 1976.3,1455.8 1976.8,1467.7 1977.3,1460.8 1977.8,1471.8 1978.3,1464.3 1978.7,1473.7 1979.2,1471.6 1979.7,1465.8 1980.2,1490.3 1980.7,1466.7 1981.1,1462.0 1981.6,1472.8 1982.1,1474.4 1982.6,1472.2 1983.0,1467.4 1983.5,1470.9 1984.0,1473.8 1984.5,1470.7 1984.9,1454.6 1985.4,1479.2 1985.9,1464.8 1986.3,1448.0 1986.8,1470.0 1987.3,1461.1 1987.7,1463.4 1988.2,1475.9 1988.7,1454.9 1989.1,1453.5 1989.6,1450.2 1990.0,1459.4 1990.5,1463.4 1991.0,1461.8 1991.4,1460.9 1991.9,1443.7 1992.3,1464.0 1992.8,1471.8 1993.3,1460.3 1993.7,1461.2 1994.2,1458.2 1994.6,1468.6 1995.1,1454.4 1995.5,1482.0 1996.0,1465.1 1996.4,1461.7 1996.9,1456.6 1997.3,1470.4 1997.8,1473.6 1998.2,1461.1 1998.7,1466.8 1999.1,1467.6 1999.6,1472.9 2000.0,1470.0 2000.5,1475.1 2000.9,1454.2 2001.4,1486.6 2001.8,1462.5 2002.2,1458.2 2002.7,1460.4 2003.1,1471.5 2003.6,1475.1 2004.0,1488.8 2004.4,1479.5 2004.9,1463.7 2005.3,1467.0 2005.8,1465.4 2006.2,1463.3 2006.6,1465.4 2007.1,1460.2 2007.5,1472.8 2007.9,1464.3 2008.4,1465.0 2008.8,1457.4 2009.2,1448.4 2009.7,1460.6 2010.1,1453.8 2010.5,1473.2 2011.0,1468.0 2011.4,1449.7 2011.8,1452.9 2012.2,1458.1 2012.7,1462.6 2013.1,1475.2 2013.5,1466.2 2013.9,1472.5 2014.4,1467.2 2014.8,1468.5 2015.2,1480.1 2015.6,1470.4 2016.1,1486.0 2016.5,1469.9 2016.9,1473.3 2017.3,1473.3 2017.7,1475.3 2018.2,1485.4 2018.6,1464.5 2019.0,1465.6 2019.4,1462.3 2019.8,1484.2 2020.2,1473.5 2020.6,1473.4 2021.1,1473.3 2021.5,1454.8 2021.9,1475.5 2022.3,1470.2 2022.7,1471.5 2023.1,1469.6 2023.5,1468.0 2023.9,1468.0 2024.4,1464.0 2024.8,1466.6 2025.2,1473.5 2025.6,1451.6 2026.0,1475.0 2026.4,1473.5 2026.8,1459.8 2027.2,1472.4 2027.6,1470.7 2028.0,1464.0 2028.4,1481.6 2028.8,1469.5 2029.2,1467.0 2029.6,1457.6 2030.0,1485.4 2030.4,1469.8 2030.8,1470.8 2031.2,1466.7 2031.6,1485.5 2032.0,1468.2 2032.4,1482.5 2032.8,1478.8 2033.2,1478.6 2033.6,1476.3 2034.0,1480.8 2034.4,1470.9 2034.8,1455.4 2035.2,1451.0 2035.6,1480.7 2036.0,1455.2 2036.4,1482.1 2036.8,1491.7 2037.2,1455.6 2037.5,1475.1 2037.9,1473.6 2038.3,1463.8 2038.7,1453.3 2039.1,1468.2 2039.5,1482.2 2039.9,1467.8 2040.3,1468.6 2040.7,1469.2 2041.0,1468.7 2041.4,1470.4 2041.8,1486.0 2042.2,1460.3 2042.6,1452.4 2043.0,1473.3 2043.3,1462.0 2043.7,1461.9 2044.1,1454.5 2044.5,1464.1 2044.9,1461.9 2045.3,1468.8 2045.6,1462.0 2046.0,1453.2 2046.4,1468.4 2046.8,1463.2 2047.1,1448.2 2047.5,1459.9 2047.9,1468.1 2048.3,1460.9 2048.7,1458.3 2049.0,1465.2 2049.4,1455.1 2049.8,1454.5 2050.2,1464.2 2050.5,1459.0 2050.9,1455.9 2051.3,1463.5 2051.6,1464.8 2052.0,1471.3 2052.4,1473.1 2052.8,1467.1 2053.1,1467.3 2053.5,1461.2 2053.9,1471.2 2054.2,1467.4 2054.6,1477.4 2055.0,1477.3 2055.3,1476.0 2055.7,1470.4 2056.1,1473.5 2056.4,1482.8 2056.8,1484.3 2057.2,1466.0 2057.5,1449.6 2057.9,1475.4 2058.3,1458.2 2058.6,1470.7 2059.0,1473.9 2059.3,1482.2 2059.7,1468.9 2060.1,1469.3 2060.4,1465.6 2060.8,1472.4 2061.2,1460.0 2061.5,1474.0 2061.9,1471.8 2062.2,1479.4 2062.6,1465.8 2062.9,1470.4 2063.3,1469.0 2063.7,1466.9 2064.0,1459.2 2064.4,1462.1 2064.7,1466.9 2065.1,1470.4 2065.4,1474.7 2065.8,1461.6 2066.1,1468.4 2066.5,1471.2 2066.8,1473.1 2067.2,1468.1 2067.6,1467.7 2067.9,1463.2 2068.3,1466.1 2068.6,1464.3 2069.0,1452.0 2069.3,1460.1 2069.7,1446.6 2070.0,1469.7 2070.3,1472.7 2070.7,1463.0 2071.0,1467.4 2071.4,1467.5 2071.7,1464.6 2072.1,1478.6 2072.4,1465.7 2072.8,1470.2 2073.1,1467.4 2073.5,1484.2 2073.8,1455.5 2074.2,1470.3 2074.5,1458.2 2074.8,1463.2 2075.2,1461.3 2075.5,1474.6 2075.9,1459.0 2076.2,1458.4 2076.5,1462.4 2076.9,1455.7 2077.2,1453.5 2077.6,1472.1 2077.9,1452.3 2078.2,1449.5 2078.6,1465.2 2078.9,1453.6 2079.3,1460.7 2079.6,1438.2 2079.9,1448.6 2080.3,1454.8 2080.6,1453.2 2080.9,1456.6 2081.3,1463.2 2081.6,1459.3 2081.9,1464.9 2082.3,1463.7 2082.6,1453.4 2082.9,1462.5 2083.3,1472.9 2083.6,1456.4 2083.9,1469.3 2084.3,1470.9 2084.6,1477.1 2084.9,1453.4 2085.3,1485.6 2085.6,1453.8 2085.9,1465.4 2086.3,1484.6 2086.6,1452.4 2086.9,1479.6 2087.2,1462.3 2087.6,1473.8 2087.9,1468.5 2088.2,1456.7 2088.6,1447.8 2088.9,1450.4 2089.2,1441.7 2089.5,1440.4 2089.9,1454.1 2090.2,1439.6 2090.5,1454.3 2090.8,1451.5 2091.2,1451.9 2091.5,1445.8 2091.8,1445.6 2092.1,1463.3 2092.4,1450.8 2092.8,1455.4 2093.1,1460.1 2093.4,1468.3 2093.7,1479.8 2094.1,1480.7 2094.4,1472.0 2094.7,1471.6 2095.0,1471.6 2095.3,1464.7 2095.6,1464.9 2096.0,1453.0 2096.3,1471.5 2096.6,1463.4 2096.9,1470.9 2097.2,1486.1 2097.6,1475.6 2097.9,1478.3 2098.2,1476.6 2098.5,1465.5 2098.8,1465.1 2099.1,1458.9 2099.4,1466.2 2099.8,1472.2 2100.1,1476.5 2100.4,1475.6 2100.7,1468.4 2101.0,1462.3 2101.3,1472.1 2101.6,1474.5 2101.9,1456.7 2102.3,1473.6 2102.6,1461.9 2102.9,1470.2 2103.2,1473.1 2103.5,1466.8 2103.8,1470.9 2104.1,1475.3 2104.4,1467.4 2104.7,1481.0 2105.0,1480.8 2105.4,1479.8 2105.7,1466.6 2106.0,1472.8 2106.3,1471.0 2106.6,1473.5 2106.9,1477.4 2107.2,1466.0 2107.5,1469.2 2107.8,1474.3 2108.1,1463.9 2108.4,1471.1 2108.7,1464.2 2109.0,1452.3 2109.3,1462.6 2109.6,1463.7 2109.9,1459.1 2110.2,1477.7 2110.5,1459.4 2110.8,1451.0 2111.1,1461.8 2111.4,1461.6 2111.7,1467.8 2112.0,1484.4 2112.4,1465.8 2112.7,1471.7 2113.2,1458.5 2113.5,1460.8 2113.8,1465.2 2114.4,1467.2 2115.0,1457.8 2115.6,1473.5 2115.9,1458.0 2116.5,1479.9 2116.8,1459.2 2117.1,1473.5 2117.7,1444.9 2118.0,1472.4 2118.6,1458.9 2118.9,1479.0 2119.2,1450.6 2119.8,1466.7 2120.1,1456.4 2120.6,1452.0 2120.9,1468.4 2121.8,1472.4 2122.1,1454.6 2122.4,1463.0 2123.0,1435.9 2123.5,1464.3 2123.8,1455.9 2124.1,1467.4 2124.7,1438.9 2125.0,1448.9 2125.6,1455.3 2125.8,1450.5 2126.1,1436.7 2127.0,1467.2 2127.3,1454.4 2127.6,1450.7 2128.1,1471.3 2128.4,1475.3 2128.7,1458.6 2129.3,1478.8 2129.8,1460.2 2130.1,1473.9 2130.7,1464.8 2131.0,1484.1 2131.2,1468.2 2132.1,1480.7 2132.4,1469.4 2132.9,1466.1 2133.2,1460.7 2133.5,1464.9 2134.0,1453.4 2134.6,1453.6 2134.9,1464.5 2135.1,1471.4 2135.7,1466.5 2136.3,1464.5 2136.5,1454.1 2136.8,1469.6 2137.1,1452.8 2137.6,1479.0 2138.2,1457.5 2138.5,1463.6 2138.7,1457.1 2139.5,1458.6 2139.8,1466.9 2140.1,1474.0 2140.6,1457.7 2140.9,1458.5 2141.5,1465.3 2141.7,1458.6 2142.0,1456.5 2142.5,1470.4 2142.8,1469.9 2143.6,1453.2 2143.9,1471.5 2144.1,1477.9 2144.4,1454.8 2145.0,1468.5 2145.5,1463.1 2145.8,1476.8 2146.3,1454.2 2146.6,1458.0 2147.1,1463.2 2147.4,1472.1 2147.9,1457.2 2148.4,1462.2 2148.7,1476.1 2148.9,1473.5 2149.2,1459.8 2149.7,1454.4 2150.0,1468.5 2150.5,1468.5 2150.8,1455.2 2151.3,1460.5 2151.8,1470.4 2152.4,1449.0 2152.6,1460.8 2153.1,1472.2 2153.4,1455.2 2153.9,1466.3 2154.2,1471.3 2154.7,1475.6 2155.0,1459.8 2155.2,1482.9 2155.7,1456.5 2156.0,1453.7 2156.2,1474.7 2156.8,1461.0 2157.0,1471.7 2157.5,1470.1 2157.8,1452.1 2158.3,1474.5 2158.6,1487.6 2159.1,1471.9 2159.6,1480.2 2159.8,1477.3 2160.3,1456.2 2160.8,1468.6 2161.1,1486.2 2161.6,1476.9 2161.9,1454.4 2162.1,1476.3 2162.4,1459.2 2162.9,1467.1 2163.1,1469.1 2163.6,1458.4 2163.9,1472.0 2164.4,1466.4 2164.6,1459.8 2165.1,1465.7 2165.6,1460.8 2165.9,1477.6 2166.1,1467.3 2166.6,1453.1 2166.9,1476.8 2167.6,1459.6 2167.9,1492.6 2168.1,1464.5 2168.3,1477.8 2169.1,1468.8 2169.3,1495.2 2169.6,1501.3 2169.8,1483.2 2170.6,1475.0 2170.8,1497.5 2171.0,1487.2 2171.3,1471.6 2171.8,1478.0 2172.3,1474.3 2172.8,1471.0 2173.0,1466.7 2173.5,1461.0 2173.7,1478.3 2174.0,1461.3 2174.4,1465.1 2174.9,1452.0 2175.2,1469.4 2175.4,1452.7 2175.9,1465.8 2176.4,1456.9 2176.6,1462.7 2177.1,1457.9 2177.3,1453.3 2177.6,1452.8 2178.0,1463.3 2178.3,1458.9 2178.8,1470.3 2179.2,1448.3 2179.5,1463.7 2179.7,1477.4 2180.0,1442.8 2180.7,1451.2 2180.9,1469.7 2181.4,1463.1 2181.6,1453.0 2182.1,1454.6 2182.3,1475.9 2182.5,1463.4 2182.8,1447.7 2183.2,1475.9 2183.5,1457.8 2183.9,1463.7 2184.4,1468.1 2184.6,1459.3 2185.1,1469.9 2185.3,1456.0 2185.8,1466.8 2186.3,1455.8 2186.5,1476.7 2186.7,1464.5 2187.2,1442.3 2187.4,1471.2 2187.9,1461.3 2188.4,1454.5 2188.6,1477.1 2188.8,1467.9 2189.0,1478.6 2189.7,1465.4 2190.0,1443.6 2190.2,1463.2 2190.6,1456.3 2190.9,1466.4 2191.3,1459.7 2191.6,1461.1 2191.8,1471.3 2192.2,1472.5 2192.7,1464.0 2193.1,1471.3 2193.4,1464.5 2193.6,1465.9 2193.8,1478.0 2194.5,1474.6 2194.7,1470.2 2194.9,1483.6 2195.2,1471.7 2195.8,1467.4 2196.1,1462.4 2196.3,1476.1 2196.7,1477.1 2197.0,1469.0 2197.4,1474.0 2197.9,1457.0 2198.1,1485.8 2198.3,1473.8 2198.5,1476.8 2199.0,1463.2 2199.2,1468.6 2199.6,1477.2 2200.1,1462.8 2200.5,1489.3 2200.7,1467.9 2201.2,1484.0 2201.4,1459.3 2201.6,1468.5 2201.8,1475.2 2202.3,1459.2 2202.7,1479.7 2202.9,1482.1 2203.4,1486.9 2203.6,1489.3 2204.0,1494.1 2204.2,1496.5 2204.7,1501.3 2204.9,1503.6 2205.3,1508.4 2205.5,1509.3 2206.2,1509.3 2206.8,1509.3 2207.5,1508.4 2207.9,1503.7 2208.1,1501.3 2208.6,1496.6 2208.8,1494.3 2209.2,1489.6 2209.4,1487.2 2209.8,1482.5 2210.0,1480.2 2210.5,1470.5 2210.9,1460.3 2211.1,1472.9 2211.3,1475.2 2211.5,1455.7 2212.0,1471.9 2212.2,1476.8 2212.8,1463.2 2213.0,1474.9 2213.4,1473.7 2213.6,1466.7 2213.9,1480.3 2214.1,1478.6 2214.5,1466.8 2214.9,1479.5 2215.1,1461.1 2215.5,1473.4 2215.7,1459.4 2216.2,1470.6 2216.4,1457.4 2216.6,1473.2 2217.0,1476.8 2217.4,1461.0 2217.8,1466.5 2218.0,1447.6 2218.2,1459.0 2218.4,1466.4 2218.9,1462.2 2219.1,1449.9 2219.5,1461.4 2219.7,1457.7 2220.3,1473.0 2220.5,1454.1 2220.7,1450.3 2221.1,1469.1 2221.5,1451.8 2221.7,1449.9 2221.9,1469.3 2222.1,1457.1 2222.6,1475.0 2223.0,1460.6 2223.2,1453.4 2223.4,1473.1 2224.0,1467.4 2224.2,1460.0 2224.6,1467.8 2224.8,1457.6 2225.0,1468.3 2225.4,1477.8 2225.8,1482.9 2226.0,1473.2 2226.2,1465.8 2226.4,1468.8 2226.8,1458.2 2227.2,1466.8 2227.4,1457.1 2227.8,1469.6 2228.0,1478.3 2228.6,1459.3 2228.8,1451.7 2229.0,1468.9 2229.6,1455.5 2229.8,1475.8 2230.4,1461.6 2230.8,1447.7 2231.4,1478.6 2231.8,1455.2 2232.0,1480.2 2232.4,1467.7 2232.8,1477.7 2233.2,1467.4 2233.6,1480.7 2234.0,1468.2 2234.5,1473.5 2234.9,1493.3 2235.1,1465.4 2235.7,1479.9 2235.9,1492.6 2236.5,1469.1 2236.9,1486.1 2237.3,1467.9 2237.5,1461.2 2237.7,1484.3 2238.4,1470.6 2238.6,1476.2 2239.0,1478.2 2239.4,1463.6 2239.8,1463.8 2240.2,1474.3 2240.7,1481.4 2240.9,1456.8 2241.3,1465.6 2241.5,1474.6 2242.1,1477.9 2242.4,1459.7 2242.8,1477.3 2243.0,1456.9 2244.0,1469.6 2244.2,1450.9 2244.5,1451.0 2244.9,1471.3 2245.1,1465.2 2245.5,1462.4 2245.9,1456.7 2246.2,1468.1 2246.6,1466.3 2247.2,1481.2 2247.4,1483.6 2247.5,1451.2 2248.3,1474.6 2248.5,1450.9 2249.0,1472.4 2249.4,1457.1 2249.6,1464.6 2249.8,1458.5 2250.3,1462.6 2250.9,1472.6 2251.3,1450.8 2251.4,1470.1 2251.8,1474.1 2252.4,1457.5 2252.7,1476.6 2252.9,1464.2 2253.5,1457.1 2253.6,1472.3 2254.2,1462.1 2254.4,1480.6 2254.7,1483.3 2255.1,1470.9 2255.6,1483.9 2255.8,1469.5 2256.2,1466.3 2256.7,1483.8 2257.3,1470.8 2257.5,1478.0 2258.0,1469.9 2258.2,1464.7 2258.7,1462.3 2258.9,1471.2 2259.3,1460.5 2259.6,1477.5 2260.0,1461.6 2260.1,1468.9 2260.5,1455.5 2260.9,1474.6 2261.2,1462.3 2261.4,1470.6 2261.9,1478.3 2262.1,1456.6 2263.0,1459.1 2263.2,1483.1 2263.5,1476.3 2263.9,1484.7 2264.1,1495.5 2264.6,1462.5 2264.9,1487.4 2265.3,1460.9 2265.5,1467.6 2265.6,1489.1 2266.2,1488.0 2266.7,1467.7 2267.0,1478.0 2267.4,1462.8 2267.6,1454.3 2267.7,1462.7 2268.6,1464.3 2268.8,1469.5 2269.3,1474.2 2269.5,1450.5 2269.8,1462.9 2270.2,1456.3 2270.5,1463.5 2270.9,1455.1 2271.0,1444.4 2271.2,1455.5 2271.9,1449.0 2272.2,1460.6 2272.6,1450.2 2272.7,1470.6 2273.1,1457.9 2273.6,1465.8 2274.1,1449.1 2274.3,1470.5 2274.6,1457.3 2274.8,1474.9 2275.1,1465.7 2275.5,1476.1 2275.8,1467.5 2276.0,1460.4 2276.6,1472.5 2276.8,1465.0 2277.3,1474.3 2277.7,1447.9 2278.0,1470.5 2278.3,1457.3 2278.8,1465.1 2279.0,1475.6 2279.3,1466.9 2279.7,1447.4 2280.0,1468.8 2280.2,1459.5 2280.5,1472.5 2280.7,1462.1 2281.3,1469.8 2281.5,1450.9 2281.8,1455.5 2282.2,1472.3 2282.5,1451.2 2282.7,1474.0 2283.3,1456.8 2283.5,1467.0 2283.8,1454.3 2284.0,1475.6 2284.5,1472.9 2284.8,1442.1 2285.1,1459.5 2285.6,1474.0 2285.8,1446.5 2286.1,1470.8 2286.4,1475.3 2286.9,1455.5 2287.1,1449.0 2287.6,1464.4 2288.1,1454.8 2288.2,1477.7 2288.4,1471.0 2288.9,1443.3 2289.0,1454.7 2289.3,1468.3 2290.0,1458.2 2290.2,1477.0 2290.3,1480.3 2290.8,1446.8 2291.0,1471.0 2291.1,1456.2 2291.6,1477.5 2291.8,1458.6 2292.2,1473.6 2292.4,1465.3 2293.0,1453.7 2293.4,1480.3 2293.5,1458.9 2294.0,1480.9 2294.1,1472.2 2294.5,1455.5 2294.9,1454.9 2295.1,1476.8 2295.4,1488.3 2295.6,1459.5 2296.2,1477.0 2296.4,1459.7 2297.0,1487.7 2297.1,1455.3 2297.3,1472.6 2297.8,1464.7 2298.1,1467.8 2298.4,1456.1 2298.6,1477.5 2298.7,1447.7 2299.3,1442.7 2299.6,1466.1 2299.8,1472.4 2300.0,1461.3 2300.7,1471.4 2300.9,1452.4 2301.0,1446.3 2301.2,1472.2 2302.0,1460.0 2302.1,1472.1 2302.3,1469.1 2302.7,1456.1 2303.2,1465.1 2303.4,1450.9 2303.5,1453.5 2304.0,1470.9 2304.1,1453.6 2304.6,1465.5 2304.9,1462.4 2305.0,1445.7 2305.3,1470.1 2305.5,1458.4 2306.1,1453.3 2306.3,1461.9 2306.6,1461.0 2307.0,1473.4 2307.3,1458.4 2307.6,1476.8 2307.8,1462.5 2308.1,1482.9 2308.5,1467.1 2308.7,1482.0 2309.3,1477.8 2309.4,1472.4 2309.7,1484.8 2310.0,1461.9 2310.3,1488.1 2310.5,1469.6 2311.2,1476.2 2311.4,1460.0 2311.8,1494.2 2312.0,1457.9 2312.6,1470.8 2313.0,1477.6 2313.2,1476.5 2313.6,1489.6 2314.1,1483.7 2314.5,1467.2 2314.6,1463.2 2314.8,1482.9 2315.4,1467.6 2316.0,1485.6 2316.1,1474.1 2316.4,1463.0 2317.0,1484.1 2317.4,1453.3 2317.6,1482.6 2318.0,1454.4 2318.5,1457.6 2318.8,1476.4 2319.3,1457.9 2319.5,1466.7 2320.1,1476.6 2320.2,1451.0 2320.6,1468.0 2321.1,1446.4 2321.4,1446.6 2321.8,1466.0 2322.1,1458.3 2322.4,1476.1 2322.8,1459.4 2323.1,1472.6 2323.5,1476.1 2323.9,1466.6 2324.2,1469.4 2324.7,1455.0 2324.9,1458.0 2325.2,1477.8 2325.9,1476.4 2326.1,1451.7 2326.6,1451.4 2326.8,1464.7 2327.4,1470.6 2327.5,1458.5 2327.8,1469.3 2327.9,1452.8 2328.3,1442.9 2328.9,1456.4 2329.3,1461.3 2329.5,1438.7 2329.7,1463.8 2330.3,1445.5 2330.4,1435.1 2330.9,1459.4 2331.1,1458.3 2331.6,1451.3 2332.3,1452.4 2332.4,1464.8 2332.9,1456.7 2333.1,1483.2 2333.4,1454.2 2333.8,1468.7 2334.2,1481.9 2334.3,1453.7 2334.6,1460.8 2334.9,1489.8 2335.6,1460.0 2335.8,1476.3 2336.2,1466.1 2336.4,1474.6 2336.7,1484.1 2336.8,1470.1 2337.6,1471.3 2337.7,1455.7 2338.0,1455.9 2338.4,1471.4 2339.0,1466.6 2339.1,1450.8 2339.4,1452.3 2339.6,1471.4 2340.1,1469.7 2340.5,1444.0 2341.0,1476.5 2341.3,1456.8 2341.7,1445.0 2341.8,1462.4 2342.3,1473.3 2342.5,1458.7 2342.9,1464.5 2343.0,1457.0 2343.5,1475.1 2343.7,1462.0 2344.1,1473.5 2344.6,1450.4 2344.9,1454.4 2345.0,1471.1 2345.5,1445.9 2345.9,1465.4 2346.2,1457.4 2346.6,1476.3 2346.7,1461.7 2347.0,1477.7 2347.8,1465.2 2347.9,1486.7 2348.2,1487.2 2348.6,1458.5 2348.8,1471.5 2349.1,1481.7 2349.5,1465.0 2349.6,1496.7 2350.3,1462.8 2350.5,1490.7 2350.7,1467.2 2351.0,1484.0 2351.3,1477.3 2351.7,1458.3 2352.1,1467.5 2352.2,1473.6 2352.9,1461.0 2353.0,1472.0 2353.5,1470.3 2353.8,1452.8 2353.9,1450.7 2354.0,1477.4 2354.5,1450.8 2354.7,1473.5 2355.3,1450.5 2355.7,1471.3 2355.9,1452.9 2356.3,1461.0 2356.7,1467.4 2357.0,1452.1 2357.1,1473.4 2357.2,1456.6 2358.0,1468.2 2358.2,1443.5 2358.5,1453.4 2358.7,1483.5 2359.1,1457.4 2359.2,1481.4 2359.7,1479.3 2360.1,1460.4 2360.2,1452.2 2360.5,1477.2 2360.9,1474.5 2361.4,1460.3 2361.9,1465.7 2362.0,1451.8 2362.4,1474.8 2362.5,1463.6 2362.8,1481.7 2363.1,1455.0 2363.7,1446.1 2363.9,1469.3 2364.0,1450.4 2364.1,1478.2 2364.6,1463.4 2365.0,1451.6 2365.4,1454.8 2365.6,1468.5 2366.0,1466.6 2366.1,1452.1 2366.8,1473.7 2367.0,1450.7 2367.1,1470.9 2367.6,1456.5 2367.7,1447.3 2367.8,1466.9 2368.3,1465.9 2368.6,1454.3 2369.0,1469.9 2369.3,1439.0 2369.7,1462.6 2369.9,1436.2 2370.3,1441.7 2370.5,1457.1 2370.7,1465.3 2371.1,1438.2 2371.4,1452.2 2371.8,1460.5 2372.1,1460.8 2372.3,1437.3 2372.6,1442.4 2373.0,1459.0 2373.4,1463.5 2373.6,1447.9 2373.9,1451.0 2374.1,1473.8 2374.5,1469.4 2374.7,1452.9 2375.2,1465.2 2375.6,1446.4 2375.9,1448.1 2376.4,1481.3 2376.6,1453.3 2377.0,1480.8 2377.3,1459.8 2377.9,1480.4 2378.3,1454.5 2378.6,1471.1 2378.8,1454.5 2379.1,1470.3 2379.5,1454.9 2379.6,1474.6 2380.3,1478.7 2380.8,1459.3 2381.1,1473.4 2381.2,1457.6 2381.8,1456.3 2382.2,1472.8 2382.5,1450.1 2382.7,1471.8 2383.2,1474.4 2383.3,1460.7 2383.7,1460.3 2384.1,1447.7 2384.7,1452.6 2384.8,1461.5 2385.0,1465.0 2385.6,1453.9 2385.7,1452.5 2386.0,1461.9 2386.9,1473.1 2387.0,1450.6 2387.1,1450.2 2387.7,1472.1 2388.3,1454.6 2388.4,1465.7 2388.7,1447.5 2389.1,1471.8 2389.2,1471.1 2389.3,1453.5 2389.8,1453.7 2390.0,1472.5 2390.9,1472.3 2391.0,1445.1 2391.7,1453.7 2391.8,1477.1 2391.9,1445.1 2392.2,1485.4 2392.7,1480.2 2393.0,1454.5 2393.2,1458.7 2393.7,1478.9 2393.9,1485.2 2394.2,1449.0 2394.9,1482.4 2395.1,1461.0 2395.2,1464.0 2395.7,1484.0 2396.1,1469.4 2396.2,1479.5 2396.8,1473.4 2396.9,1457.4 2397.3,1463.7 2397.7,1479.2 2397.9,1465.1 2398.3,1469.5 2398.6,1459.1 2398.8,1471.3 2399.3,1475.6 2399.4,1460.8 2400.1,1453.4 2400.4,1466.0 2400.7,1449.2 2400.9,1469.0 2401.2,1451.2 2401.6,1463.0 2401.8,1450.1 2402.2,1469.5 2402.7,1466.9 2402.8,1446.5 2403.2,1476.0 2403.6,1460.0 2404.1,1476.7 2404.3,1446.3 2404.4,1446.9 2404.9,1477.2 2405.2,1472.0 2405.4,1438.3 2405.8,1450.7 2406.0,1478.1 2406.5,1451.4 2406.6,1470.9 2407.0,1455.7 2407.4,1482.8 2408.1,1456.4 2408.2,1477.8 2408.5,1482.0 2408.7,1462.0 2408.9,1459.1 2409.2,1482.3 2409.7,1467.1 2409.8,1472.4 2410.4,1493.3 2410.6,1471.4 2410.9,1461.0 2411.1,1487.4 2411.8,1480.9 2411.9,1460.7 2412.3,1463.7 2412.6,1487.3 2412.7,1483.7 2412.8,1467.4 2413.4,1463.2 2413.7,1474.9 2414.0,1476.9 2414.2,1446.6 2414.7,1461.5 2414.9,1472.2 2415.4,1489.3 2415.7,1467.0 2415.8,1467.4 2416.0,1478.0 2416.6,1483.2 2416.7,1469.9 2417.3,1493.1 2417.6,1482.0 2418.1,1488.8 2418.2,1480.2 2418.5,1480.8 2418.7,1490.2 2419.0,1485.0 2419.1,1494.9 2419.6,1492.2 2419.8,1494.8 2420.2,1493.8 2420.5,1495.9 2420.9,1496.1 2421.3,1498.2 2421.4,1498.6 2421.5,1498.9"/>
<polyline fill="none" stroke="#1414ff" stroke-width="7.5" stroke-linejoin="round" stroke-linecap="round" points="164.7,1354.0 361.5,1351.4 476.7,1336.1 558.4,1341.0 621.7,1346.7 673.5,1329.0 717.2,1304.0 755.2,1290.2 788.6,1265.7 818.5,1243.3 845.6,1253.5 870.3,1267.8 893.0,1184.0 914.1,1102.4 933.7,1061.6 952.0,1042.2 969.2,1055.5 985.4,1098.4 1000.8,1170.0 1013.3,1257.6 1028.6,1271.8 1041.8,1271.8 1044.9,1302.4 1055.1,1310.6 1066.3,1345.3 1087.8,1288.2 1100.0,1286.1 1110.2,1296.3 1120.4,1288.2 1155.1,1173.9 1167.3,1190.2 1187.8,1294.3 1212.2,1355.5 1226.5,1353.5 1240.8,1384.1 1257.1,1351.4 1269.4,1365.7 1281.6,1402.4 1294.8,1392.8 1307.4,1411.8 1326.4,1435.0 1337.0,1394.9 1351.7,1378.1 1360.2,1407.6 1368.6,1432.9 1385.5,1420.3 1398.1,1447.7 1415.0,1382.3 1427.7,1422.4 1434.0,1401.3 1435.9,1416.9 1440.3,1451.9 1442.3,1449.4 1445.4,1445.3 1448.5,1440.9 1451.6,1437.0 1455.1,1432.9 1457.7,1435.1 1460.6,1438.7 1463.5,1441.4 1466.5,1432.2 1469.9,1424.5 1472.2,1431.0 1475.0,1436.0 1478.3,1443.5 1480.6,1437.2 1483.4,1434.0 1486.8,1426.6 1488.8,1422.9 1491.4,1416.4 1494.1,1413.5 1497.3,1407.6 1499.4,1428.7 1501.9,1428.2 1504.4,1425.4 1506.9,1423.6 1509.4,1420.9 1511.9,1420.8 1514.4,1416.7 1516.8,1413.8 1518.4,1413.9 1521.6,1421.0 1524.0,1424.1 1526.3,1430.1 1528.7,1437.5 1531.1,1441.4 1533.3,1444.8 1535.6,1446.0 1537.8,1447.9 1540.1,1446.4 1541.6,1454.0 1544.5,1436.7 1546.9,1418.1 1548.9,1426.0 1551.1,1438.6 1553.2,1437.6 1556.4,1449.8 1559.5,1439.8 1562.7,1439.2 1565.7,1453.3 1567.8,1456.0 1569.0,1454.0 1571.8,1445.6 1573.8,1449.7 1575.8,1442.8 1577.7,1440.7 1579.7,1422.7 1581.7,1424.5 1583.5,1438.0 1585.5,1441.2 1588.0,1451.9 1589.2,1432.4 1592.2,1403.4 1594.8,1424.8 1596.5,1447.7 1598.5,1447.6 1600.3,1445.5 1602.8,1432.9 1605.7,1426.4 1607.5,1441.9 1609.2,1444.7 1611.0,1443.6 1612.7,1440.4 1614.5,1459.2 1616.2,1452.6 1617.6,1460.3 1619.6,1451.7 1621.3,1457.7 1623.0,1444.5 1624.6,1447.6 1626.0,1445.6 1627.9,1423.6 1630.2,1397.0 1632.8,1434.6 1634.4,1456.1 1636.1,1460.9 1637.7,1438.6 1639.2,1442.9 1640.8,1436.7 1642.9,1435.0 1645.5,1438.3 1647.0,1443.8 1648.6,1448.9 1651.3,1460.3 1653.1,1451.7 1654.6,1464.1 1656.1,1449.4 1657.6,1457.6 1659.1,1454.6 1660.6,1460.0 1661.8,1452.0 1664.0,1500.0 1666.2,1448.0 1667.8,1444.4 1670.3,1435.0 1672.1,1447.1 1673.5,1446.7 1674.9,1438.2 1676.3,1448.3 1678.7,1447.7 1683.1,1450.4 1684.5,1453.3 1685.8,1470.9 1687.2,1463.1 1688.5,1446.5 1689.8,1462.9 1691.2,1452.1 1692.5,1465.4 1693.8,1462.1 1695.1,1466.7 1696.4,1462.7 1697.7,1448.4 1699.0,1443.7 1700.2,1448.2 1701.5,1449.0 1702.8,1456.0 1704.0,1465.4 1705.3,1449.5 1706.6,1462.1 1707.8,1450.9 1709.0,1450.9 1710.3,1439.1 1711.5,1447.2 1712.7,1451.4 1714.0,1445.1 1715.2,1441.5 1716.4,1448.7 1717.6,1460.5 1718.8,1462.4 1720.0,1452.3 1721.2,1463.4 1722.3,1453.8 1723.5,1450.5 1724.7,1463.2 1725.9,1456.0 1727.0,1451.9 1728.2,1448.3 1729.3,1427.8 1730.5,1453.7 1731.6,1457.8 1732.8,1427.8 1733.9,1427.9 1735.1,1443.5 1736.2,1456.2 1737.3,1454.4 1738.4,1459.2 1739.5,1451.1 1740.6,1449.4 1741.8,1457.1 1742.9,1440.4 1744.0,1456.2 1745.0,1451.0 1746.1,1445.2 1747.2,1441.2 1748.3,1460.0 1749.4,1448.3 1750.5,1435.5 1751.5,1443.2 1752.6,1436.8 1753.6,1459.2 1754.7,1445.5 1755.8,1453.8 1756.8,1458.4 1757.8,1465.9 1758.9,1446.4 1759.9,1462.7 1761.0,1454.6 1762.0,1457.1 1763.0,1441.4 1764.0,1458.9 1765.1,1460.1 1766.1,1460.0 1767.1,1459.8 1768.1,1446.4 1769.1,1437.6 1770.1,1454.1 1771.1,1438.6 1772.1,1467.3 1773.1,1444.1 1774.1,1430.3 1775.1,1451.8 1776.0,1444.6 1777.0,1440.4 1778.0,1442.3 1779.0,1444.1 1779.9,1435.5 1780.9,1455.2 1781.8,1458.1 1782.8,1451.8 1783.8,1447.7 1784.7,1456.8 1785.7,1462.8 1786.6,1457.8 1787.5,1452.3 1788.5,1456.6 1789.4,1444.4 1790.3,1460.1 1791.3,1465.8 1792.2,1461.9 1793.1,1464.4 1794.0,1462.5 1795.0,1448.9 1795.9,1469.6 1796.8,1467.8 1797.7,1450.1 1798.6,1455.5 1799.5,1463.4 1800.4,1461.1 1801.3,1449.3 1802.2,1449.6 1803.1,1448.9 1804.0,1460.9 1804.9,1465.3 1805.7,1464.3 1806.6,1454.0 1807.5,1455.5 1808.4,1446.6 1809.2,1457.0 1810.1,1448.4 1811.0,1445.5 1811.8,1457.4 1812.7,1447.7 1813.6,1445.3 1814.4,1440.0 1815.3,1447.4 1816.1,1460.1 1817.0,1441.2 1817.8,1460.1 1818.7,1443.9 1819.5,1447.0 1820.3,1461.8 1821.2,1446.5 1822.0,1452.0 1822.8,1451.8 1823.7,1465.7 1824.5,1459.9 1825.3,1452.0 1826.2,1452.0 1827.0,1456.9 1827.8,1446.9 1828.6,1456.1 1829.4,1458.6 1830.2,1455.4 1831.0,1442.8 1831.8,1464.0 1832.6,1455.8 1833.4,1470.2 1834.2,1464.2 1835.0,1459.7 1835.8,1445.4 1836.6,1471.4 1837.4,1447.4 1838.2,1453.1 1839.0,1454.5 1839.8,1456.7 1840.6,1437.9 1841.3,1460.1 1842.1,1443.5 1842.9,1448.2 1843.7,1468.0 1844.4,1452.0 1845.2,1453.0 1846.0,1442.4 1846.7,1452.4 1847.5,1432.5 1848.2,1451.9 1849.0,1454.7 1849.8,1449.6 1850.5,1441.2 1851.3,1464.4 1852.0,1450.1 1852.8,1448.6 1853.5,1454.0 1854.3,1447.8 1855.0,1449.3 1855.7,1444.5 1856.5,1449.8 1857.2,1440.3 1858.0,1458.7 1858.7,1452.8 1859.4,1454.0 1860.1,1458.6 1860.9,1452.1 1861.6,1470.1 1862.3,1444.9 1863.0,1455.4 1863.8,1457.7 1864.5,1449.9 1865.2,1444.2 1865.9,1443.6 1866.6,1462.3 1867.3,1451.9 1868.0,1458.3 1868.8,1440.6 1869.5,1450.9 1870.2,1459.6 1870.9,1455.5 1871.6,1457.0 1872.3,1451.4 1873.0,1466.8 1873.7,1458.8 1874.4,1466.4 1875.0,1465.2 1875.7,1455.8 1876.4,1458.6 1877.1,1457.9 1877.8,1448.0 1878.5,1452.5 1879.2,1445.7 1879.8,1439.3 1880.5,1451.2 1881.2,1452.2 1881.9,1456.6 1882.5,1454.6 1883.2,1443.9 1883.9,1444.1 1884.6,1459.0 1885.2,1444.8 1885.9,1435.9 1886.6,1436.2 1887.2,1443.9 1887.9,1463.5 1888.5,1438.4 1889.2,1459.7 1889.9,1443.5 1890.5,1446.8 1891.2,1442.5 1891.8,1464.0 1892.5,1461.8 1893.1,1445.6 1893.8,1455.8 1894.4,1440.2 1895.1,1448.7 1895.7,1454.3 1896.3,1448.8 1897.0,1455.4 1897.6,1432.9 1898.3,1468.5 1898.9,1447.2 1899.5,1476.5 1900.2,1483.5 1900.8,1490.4 1901.4,1497.3 1902.1,1503.6 1902.7,1503.6 1903.3,1503.6 1903.9,1503.6 1904.6,1497.4 1905.2,1490.6 1905.8,1483.7 1906.4,1476.9 1907.0,1460.7 1907.7,1463.2 1908.3,1454.4 1908.9,1460.9 1909.5,1472.6 1910.1,1469.2 1910.7,1446.1 1911.3,1463.8 1911.9,1463.2 1912.6,1457.1 1913.2,1451.0 1913.8,1436.4 1914.4,1452.0 1915.0,1456.6 1915.6,1454.8 1916.2,1431.7 1916.8,1455.3 1917.4,1451.4 1918.0,1452.9 1918.5,1436.7 1919.1,1444.3 1919.7,1436.1 1920.3,1441.3 1920.9,1443.7 1921.5,1448.6 1922.1,1438.6 1922.7,1458.7 1923.3,1470.5 1923.8,1456.3 1924.4,1459.3 1925.0,1457.3 1925.6,1454.3 1926.2,1454.3 1926.7,1451.7 1927.3,1466.3 1927.9,1453.7 1928.5,1441.7 1929.0,1441.7 1929.6,1445.3 1930.2,1436.3 1930.7,1452.5 1931.3,1457.3 1931.9,1438.2 1932.4,1444.4 1933.0,1449.2 1933.6,1449.0 1934.1,1463.7 1934.7,1444.3 1935.3,1458.1 1935.8,1463.2 1936.4,1474.5 1936.9,1459.6 1937.5,1462.1 1938.0,1470.2 1938.6,1449.3 1939.1,1459.1 1939.7,1471.8 1940.2,1456.8 1940.8,1464.5 1941.3,1466.7 1941.9,1460.7 1942.4,1462.8 1943.0,1453.1 1943.5,1440.7 1944.1,1439.9 1944.6,1438.6 1945.1,1455.8 1945.7,1449.7 1946.2,1446.3 1946.8,1438.7 1947.3,1469.9 1947.8,1453.4 1948.4,1439.7 1948.9,1456.1 1949.4,1450.1 1950.0,1457.2 1950.5,1464.6 1951.0,1464.2 1951.6,1454.8 1952.1,1454.5 1952.6,1454.3 1953.1,1447.6 1953.7,1451.3 1954.2,1477.7 1954.7,1458.9 1955.2,1453.4 1955.8,1456.4 1956.3,1441.4 1956.8,1462.5 1957.3,1449.5 1957.8,1453.3 1958.3,1444.6 1958.9,1429.5 1959.4,1463.3 1959.9,1445.6 1960.4,1438.5 1960.9,1438.5 1961.4,1444.6 1961.9,1444.7 1962.4,1438.4 1963.0,1440.2 1963.5,1450.9 1964.0,1459.3 1964.5,1439.1 1965.0,1449.5 1965.5,1457.1 1966.0,1459.7 1966.5,1442.1 1967.0,1441.0 1967.5,1443.7 1968.0,1453.8 1968.5,1460.8 1969.0,1451.1 1969.5,1442.9 1970.0,1444.4 1970.5,1456.1 1971.0,1447.0 1971.5,1448.3 1971.9,1452.9 1972.4,1449.0 1972.9,1453.1 1973.4,1442.1 1973.9,1451.7 1974.4,1457.8 1974.9,1451.2 1975.4,1456.6 1975.9,1459.0 1976.3,1453.4 1976.8,1465.1 1977.3,1462.6 1977.8,1464.9 1978.3,1459.1 1978.7,1462.7 1979.2,1473.0 1979.7,1459.0 1980.2,1471.0 1980.7,1442.2 1981.1,1449.8 1981.6,1456.0 1982.1,1465.6 1982.6,1456.5 1983.0,1448.1 1983.5,1463.2 1984.0,1450.4 1984.5,1449.5 1984.9,1448.4 1985.4,1448.1 1985.9,1449.3 1986.3,1456.2 1986.8,1456.5 1987.3,1431.0 1987.7,1470.0 1988.2,1439.7 1988.7,1447.4 1989.1,1434.0 1989.6,1451.0 1990.0,1441.6 1990.5,1453.2 1991.0,1442.7 1991.4,1458.8 1991.9,1441.3 1992.3,1456.0 1992.8,1463.9 1993.3,1456.8 1993.7,1444.1 1994.2,1445.8 1994.6,1463.6 1995.1,1449.2 1995.5,1466.5 1996.0,1459.3 1996.4,1458.9 1996.9,1457.8 1997.3,1460.0 1997.8,1465.3 1998.2,1464.9 1998.7,1443.1 1999.1,1466.0 1999.6,1453.7 2000.0,1472.8 2000.5,1453.0 2000.9,1449.1 2001.4,1449.9 2001.8,1459.1 2002.2,1457.2 2002.7,1449.3 2003.1,1449.2 2003.6,1447.5 2004.0,1467.5 2004.4,1455.7 2004.9,1452.4 2005.3,1455.2 2005.8,1457.2 2006.2,1454.6 2006.6,1461.2 2007.1,1466.6 2007.5,1461.4 2007.9,1461.8 2008.4,1459.3 2008.8,1470.4 2009.2,1465.2 2009.7,1469.7 2010.1,1461.2 2010.5,1473.4 2011.0,1459.7 2011.4,1470.6 2011.8,1458.1 2012.2,1461.6 2012.7,1480.4 2013.1,1467.6 2013.5,1463.4 2013.9,1468.9 2014.4,1469.9 2014.8,1462.2 2015.2,1455.8 2015.6,1448.2 2016.1,1454.1 2016.5,1475.3 2016.9,1462.0 2017.3,1462.7 2017.7,1462.8 2018.2,1453.4 2018.6,1461.6 2019.0,1452.2 2019.4,1468.1 2019.8,1472.0 2020.2,1462.1 2020.6,1472.5 2021.1,1475.5 2021.5,1454.1 2021.9,1459.6 2022.3,1449.6 2022.7,1455.5 2023.1,1468.0 2023.5,1460.8 2023.9,1440.3 2024.4,1460.3 2024.8,1454.3 2025.2,1438.5 2025.6,1460.0 2026.0,1451.8 2026.4,1444.5 2026.8,1450.3 2027.2,1445.1 2027.6,1446.4 2028.0,1456.7 2028.4,1444.6 2028.8,1448.5 2029.2,1450.6 2029.6,1460.9 2030.0,1461.8 2030.4,1464.9 2030.8,1464.8 2031.2,1453.6 2031.6,1455.4 2032.0,1448.4 2032.4,1472.1 2032.8,1467.6 2033.2,1471.3 2033.6,1455.0 2034.0,1464.0 2034.4,1460.9 2034.8,1484.8 2035.2,1456.7 2035.6,1461.8 2036.0,1467.1 2036.4,1465.7 2036.8,1458.0 2037.2,1464.8 2037.5,1458.0 2037.9,1451.0 2038.3,1469.2 2038.7,1464.4 2039.1,1456.8 2039.5,1471.6 2039.9,1446.2 2040.3,1454.2 2040.7,1469.4 2041.0,1462.5 2041.4,1459.1 2041.8,1454.5 2042.2,1467.2 2042.6,1460.3 2043.0,1457.8 2043.3,1459.4 2043.7,1464.2 2044.1,1445.5 2044.5,1448.2 2044.9,1441.6 2045.3,1455.0 2045.6,1447.0 2046.0,1456.9 2046.4,1436.3 2046.8,1469.4 2047.1,1447.9 2047.5,1457.9 2047.9,1431.6 2048.3,1461.8 2048.7,1446.7 2049.0,1439.4 2049.4,1455.7 2049.8,1453.1 2050.2,1449.0 2050.5,1445.9 2050.9,1452.1 2051.3,1459.3 2051.6,1458.5 2052.0,1454.6 2052.4,1457.8 2052.8,1446.6 2053.1,1451.8 2053.5,1455.9 2053.9,1458.7 2054.2,1465.9 2054.6,1467.1 2055.0,1463.4 2055.3,1461.4 2055.7,1449.3 2056.1,1475.9 2056.4,1461.2 2056.8,1442.8 2057.2,1460.0 2057.5,1455.4 2057.9,1456.9 2058.3,1447.0 2058.6,1461.1 2059.0,1457.2 2059.3,1460.3 2059.7,1462.1 2060.1,1451.9 2060.4,1461.8 2060.8,1456.6 2061.2,1472.6 2061.5,1476.7 2061.9,1452.5 2062.2,1464.5 2062.6,1463.0 2062.9,1448.3 2063.3,1466.2 2063.7,1463.3 2064.0,1447.2 2064.4,1470.0 2064.7,1470.1 2065.1,1474.5 2065.4,1466.8 2065.8,1466.1 2066.1,1456.6 2066.5,1460.3 2066.8,1464.5 2067.2,1467.5 2067.6,1457.0 2067.9,1460.4 2068.3,1469.4 2068.6,1474.8 2069.0,1481.6 2069.3,1470.6 2069.7,1457.4 2070.0,1453.8 2070.3,1466.8 2070.7,1463.2 2071.0,1460.5 2071.4,1463.7 2071.7,1473.3 2072.1,1458.0 2072.4,1470.4 2072.8,1468.8 2073.1,1466.8 2073.5,1473.3 2073.8,1457.0 2074.2,1449.3 2074.5,1453.5 2074.8,1467.9 2075.2,1473.5 2075.5,1469.7 2075.9,1460.2 2076.2,1472.5 2076.5,1462.3 2076.9,1464.2 2077.2,1458.4 2077.6,1457.9 2077.9,1471.7 2078.2,1438.1 2078.6,1454.1 2078.9,1450.9 2079.3,1455.6 2079.6,1451.9 2079.9,1464.9 2080.3,1460.4 2080.6,1444.5 2080.9,1450.6 2081.3,1460.9 2081.6,1454.3 2081.9,1455.0 2082.3,1451.2 2082.6,1459.4 2082.9,1470.9 2083.3,1460.5 2083.6,1465.0 2083.9,1463.0 2084.3,1446.7 2084.6,1450.1 2084.9,1447.0 2085.3,1444.0 2085.6,1473.8 2085.9,1461.2 2086.3,1458.1 2086.6,1446.1 2086.9,1461.1 2087.2,1457.0 2087.6,1474.4 2087.9,1466.7 2088.2,1459.3 2088.6,1453.4 2088.9,1439.7 2089.2,1459.1 2089.5,1453.5 2089.9,1453.9 2090.2,1458.2 2090.5,1470.0 2090.8,1459.0 2091.2,1461.0 2091.5,1458.1 2091.8,1451.7 2092.1,1452.5 2092.4,1454.6 2092.8,1462.5 2093.1,1466.9 2093.4,1460.0 2093.7,1451.0 2094.1,1459.5 2094.4,1471.8 2094.7,1459.2 2095.0,1458.1 2095.3,1454.9 2095.6,1450.9 2096.0,1470.3 2096.3,1458.6 2096.6,1457.2 2096.9,1457.5 2097.2,1457.0 2097.6,1460.0 2097.9,1464.2 2098.2,1468.0 2098.5,1472.6 2098.8,1443.2 2099.1,1464.7 2099.4,1451.8 2099.8,1448.1 2100.1,1463.7 2100.4,1458.7 2100.7,1461.1 2101.0,1459.4 2101.3,1440.4 2101.6,1468.5 2101.9,1452.3 2102.3,1461.4 2102.6,1454.6 2102.9,1461.2 2103.2,1475.7 2103.5,1453.9 2103.8,1459.1 2104.1,1452.1 2104.4,1449.3 2104.7,1462.7 2105.0,1456.9 2105.4,1456.5 2105.7,1468.5 2106.0,1471.8 2106.3,1438.8 2106.6,1463.9 2106.9,1462.0 2107.2,1441.2 2107.5,1465.8 2107.8,1452.0 2108.1,1449.6 2108.4,1450.2 2108.7,1451.8 2109.0,1459.3 2109.3,1447.3 2109.6,1440.2 2109.9,1447.8 2110.2,1450.4 2110.5,1453.3 2110.8,1453.1 2111.1,1455.1 2111.4,1433.8 2111.7,1465.2 2112.0,1457.7 2112.4,1435.5 2113.0,1467.2 2113.2,1459.9 2113.5,1450.2 2113.8,1460.6 2114.4,1476.4 2114.7,1448.3 2115.6,1467.0 2115.9,1451.9 2116.2,1469.6 2116.5,1458.3 2117.1,1465.0 2117.7,1451.9 2118.0,1471.6 2118.6,1443.1 2119.2,1459.4 2119.5,1449.4 2119.8,1450.2 2120.3,1460.5 2120.9,1456.2 2121.2,1458.0 2121.5,1462.3 2121.8,1448.5 2122.4,1458.0 2123.0,1446.1 2123.5,1444.4 2123.8,1469.8 2124.1,1464.5 2124.7,1446.9 2125.3,1441.1 2125.6,1456.9 2126.1,1448.3 2126.4,1462.4 2126.7,1443.1 2127.3,1461.9 2127.6,1456.4 2128.1,1461.8 2128.7,1456.8 2129.0,1465.3 2129.5,1455.2 2129.8,1460.0 2130.1,1466.9 2130.4,1446.7 2131.0,1447.8 2131.5,1457.9 2131.8,1459.5 2132.4,1475.8 2132.6,1455.3 2133.2,1469.8 2133.8,1470.7 2134.0,1479.1 2134.3,1448.1 2134.6,1479.2 2135.1,1471.9 2135.7,1465.8 2136.0,1459.6 2136.3,1448.3 2136.8,1463.5 2137.1,1444.6 2137.9,1444.1 2138.2,1453.6 2138.7,1444.1 2139.0,1460.0 2139.3,1450.7 2139.8,1462.0 2140.1,1454.0 2140.6,1474.6 2140.9,1457.7 2141.5,1466.9 2142.0,1452.5 2142.3,1480.7 2142.8,1469.8 2143.1,1457.8 2143.6,1473.6 2143.9,1461.9 2144.1,1462.9 2144.4,1456.7 2145.2,1473.6 2145.5,1461.3 2145.8,1470.3 2146.0,1461.8 2146.6,1456.9 2146.8,1478.4 2147.4,1455.6 2147.6,1467.7 2148.4,1452.2 2148.7,1461.5 2149.2,1447.7 2149.5,1459.8 2149.7,1452.3 2150.3,1472.6 2150.5,1458.7 2151.1,1460.7 2151.3,1453.2 2151.8,1475.3 2152.1,1446.7 2152.4,1461.0 2152.9,1459.8 2153.4,1448.9 2153.7,1457.3 2153.9,1483.0 2154.4,1467.7 2154.7,1456.3 2155.5,1474.3 2155.7,1445.8 2156.0,1449.7 2156.5,1466.6 2157.0,1467.2 2157.3,1460.4 2157.8,1449.4 2158.0,1476.3 2158.3,1468.1 2158.6,1453.0 2159.3,1453.5 2159.6,1468.4 2160.1,1462.7 2160.3,1452.9 2160.6,1454.6 2161.1,1466.0 2161.4,1474.0 2161.6,1442.7 2162.1,1447.5 2162.4,1445.0 2163.1,1454.7 2163.4,1448.0 2163.9,1449.0 2164.1,1464.6 2164.4,1464.5 2164.9,1450.2 2165.1,1460.5 2165.4,1447.6 2165.9,1447.4 2166.4,1437.1 2166.6,1444.8 2167.1,1461.2 2167.4,1453.5 2167.9,1458.5 2168.1,1454.8 2168.6,1467.6 2168.8,1454.9 2169.3,1442.3 2169.6,1452.2 2170.1,1437.0 2170.3,1449.1 2170.8,1458.0 2171.0,1447.4 2171.5,1468.5 2171.8,1447.8 2172.0,1459.1 2172.8,1452.9 2173.0,1469.6 2173.2,1458.4 2173.7,1453.3 2174.0,1458.0 2174.2,1445.0 2174.7,1470.1 2175.2,1457.5 2175.7,1440.0 2175.9,1480.7 2176.4,1466.5 2176.6,1441.7 2176.9,1453.8 2177.1,1462.9 2177.6,1452.0 2178.0,1468.0 2178.3,1441.8 2178.5,1467.1 2179.0,1461.6 2179.5,1451.1 2180.0,1445.9 2180.2,1459.7 2180.7,1448.3 2180.9,1455.0 2181.1,1451.0 2181.4,1436.6 2181.8,1435.9 2182.1,1460.2 2182.8,1457.6 2183.0,1449.8 2183.2,1460.0 2183.5,1437.4 2183.9,1449.6 2184.4,1458.8 2184.9,1449.3 2185.1,1444.3 2185.6,1452.1 2185.8,1465.8 2186.0,1463.1 2186.3,1444.3 2186.7,1462.1 2187.2,1447.7 2187.7,1462.1 2187.9,1467.2 2188.1,1470.3 2188.6,1458.8 2188.8,1465.4 2189.0,1446.4 2189.7,1454.5 2190.0,1467.4 2190.4,1469.7 2190.6,1461.2 2190.9,1470.2 2191.3,1465.8 2191.6,1455.0 2191.8,1471.0 2192.2,1450.7 2192.7,1464.2 2192.9,1447.6 2193.1,1475.4 2193.6,1465.6 2193.8,1476.1 2194.3,1455.6 2194.7,1452.5 2194.9,1454.7 2195.4,1467.1 2195.6,1458.6 2195.8,1473.9 2196.3,1459.9 2196.5,1461.1 2197.0,1464.9 2197.2,1456.3 2197.9,1451.5 2198.1,1476.5 2198.5,1473.1 2198.7,1445.8 2199.2,1473.1 2199.4,1444.1 2199.8,1470.3 2200.1,1461.9 2200.3,1443.5 2200.7,1462.0 2201.2,1446.2 2201.4,1478.3 2201.6,1449.8 2202.1,1464.1 2202.5,1449.4 2202.7,1445.8 2202.9,1443.4 2203.4,1454.0 2203.6,1441.3 2203.8,1465.2 2204.2,1465.6 2204.7,1449.1 2205.1,1444.1 2205.3,1452.6 2205.8,1459.4 2206.0,1453.4 2206.4,1440.8 2206.6,1457.3 2206.8,1442.8 2207.3,1467.9 2207.5,1453.2 2207.9,1462.6 2208.3,1460.6 2208.6,1454.9 2208.8,1450.2 2209.2,1469.8 2209.6,1486.1 2209.8,1458.7 2210.0,1468.5 2210.3,1454.5 2210.7,1454.8 2210.9,1468.8 2211.5,1455.5 2211.7,1469.4 2212.0,1452.1 2212.2,1458.2 2212.6,1457.0 2213.0,1437.6 2213.2,1449.0 2213.4,1437.0 2213.9,1455.2 2214.1,1443.0 2214.5,1459.9 2214.9,1430.3 2215.3,1445.6 2215.5,1438.2 2216.0,1452.7 2216.2,1436.3 2216.6,1447.1 2216.8,1457.8 2217.2,1460.3 2217.4,1448.6 2217.8,1469.9 2218.0,1461.2 2218.4,1448.9 2218.7,1461.4 2219.1,1445.0 2219.3,1462.8 2219.5,1479.5 2219.7,1455.8 2220.3,1455.0 2220.5,1474.1 2220.9,1469.4 2221.1,1451.3 2221.3,1471.1 2221.5,1461.6 2221.9,1469.8 2222.1,1454.5 2222.6,1456.2 2222.8,1461.1 2223.2,1450.4 2223.6,1467.0 2223.8,1471.6 2224.2,1454.4 2224.4,1464.5 2224.6,1436.9 2225.0,1451.0 2225.2,1461.4 2225.6,1471.8 2226.0,1449.0 2226.2,1447.0 2226.4,1463.0 2227.0,1469.2 2227.2,1459.0 2227.6,1478.9 2227.8,1448.8 2228.2,1466.4 2228.4,1453.7 2229.2,1453.9 2229.4,1465.5 2229.6,1466.1 2229.8,1460.9 2230.6,1466.2 2230.8,1456.0 2231.2,1467.8 2231.6,1453.2 2232.2,1455.0 2232.4,1473.9 2233.0,1471.5 2233.4,1449.6 2233.8,1453.6 2234.0,1462.8 2234.3,1465.0 2234.9,1451.1 2235.3,1463.5 2235.5,1437.6 2235.9,1445.1 2236.3,1463.8 2237.1,1469.8 2237.3,1451.3 2237.7,1475.6 2238.0,1448.7 2238.2,1450.8 2238.6,1462.0 2239.0,1454.9 2239.4,1472.9 2240.0,1464.1 2240.2,1454.4 2240.5,1462.9 2241.1,1449.2 2241.3,1467.1 2241.9,1451.6 2242.1,1450.1 2242.4,1482.2 2243.0,1468.4 2243.4,1454.7 2243.6,1478.5 2243.8,1455.0 2244.3,1460.0 2244.5,1481.3 2245.1,1485.5 2245.3,1466.4 2245.9,1472.6 2246.0,1454.8 2247.0,1465.9 2247.2,1462.1 2247.7,1464.4 2247.9,1454.5 2248.3,1447.1 2248.7,1458.2 2249.0,1467.9 2249.2,1450.0 2249.6,1448.7 2250.0,1463.7 2250.7,1461.8 2250.9,1448.1 2251.1,1446.3 2251.3,1467.8 2251.8,1464.5 2252.0,1440.0 2252.7,1444.1 2253.1,1448.5 2253.3,1453.1 2253.6,1432.4 2254.0,1454.4 2254.2,1437.7 2254.7,1437.1 2255.1,1445.0 2255.8,1458.4 2256.0,1436.0 2256.2,1463.4 2256.6,1445.2 2256.9,1454.6 2257.3,1442.4 2257.6,1437.9 2258.0,1454.7 2258.4,1464.1 2258.9,1440.8 2259.3,1461.7 2259.6,1449.1 2259.8,1446.9 2260.0,1461.8 2260.5,1439.5 2260.7,1458.3 2261.6,1442.9 2261.8,1456.0 2261.9,1461.1 2262.5,1450.6 2262.6,1444.7 2262.8,1448.7 2263.3,1426.4 2263.7,1467.2 2264.2,1433.6 2264.4,1449.0 2264.8,1432.2 2265.1,1447.1 2265.5,1457.4 2265.6,1439.6 2266.2,1454.1 2266.7,1443.3 2266.9,1447.3 2267.0,1435.5 2267.6,1439.8 2267.7,1452.4 2268.3,1439.9 2268.8,1457.0 2269.0,1463.5 2269.1,1443.8 2269.6,1458.7 2269.8,1451.1 2270.5,1475.0 2270.9,1451.4 2271.0,1434.7 2271.4,1459.4 2271.9,1467.3 2272.2,1439.2 2272.7,1447.1 2272.9,1456.9 2273.1,1474.6 2273.4,1453.0 2273.9,1453.6 2274.1,1444.4 2274.6,1448.9 2274.8,1462.7 2275.1,1461.2 2275.3,1444.8 2276.0,1461.9 2276.1,1445.7 2276.6,1467.5 2276.8,1439.8 2277.3,1450.4 2277.7,1466.9 2277.8,1450.1 2278.0,1465.9 2278.7,1462.0 2278.8,1466.8 2279.3,1455.6 2279.5,1469.6 2279.8,1465.3 2280.0,1439.8 2280.7,1468.9 2280.8,1448.5 2281.2,1466.4 2281.5,1442.4 2282.0,1454.5 2282.3,1468.8 2282.5,1468.7 2282.8,1440.0 2283.1,1467.5 2283.3,1441.7 2283.8,1448.6 2284.3,1456.1 2284.5,1457.0 2284.6,1441.6 2285.1,1450.1 2285.6,1457.1 2286.1,1445.9 2286.3,1467.8 2286.4,1461.0 2286.6,1441.2 2287.1,1442.1 2287.2,1467.2 2287.9,1460.8 2288.1,1470.0 2288.4,1450.1 2288.9,1455.6 2289.2,1462.3 2289.3,1444.6 2289.7,1447.7 2289.8,1464.8 2290.5,1452.9 2290.8,1478.2 2291.1,1465.4 2291.3,1452.4 2291.9,1468.2 2292.1,1445.1 2292.2,1476.5 2292.7,1447.6 2293.0,1443.9 2293.4,1450.9 2293.8,1440.2 2294.0,1456.6 2294.5,1441.8 2294.6,1458.5 2294.8,1454.9 2295.3,1444.8 2295.6,1456.4 2295.7,1438.2 2296.0,1441.8 2296.5,1457.5 2296.7,1455.4 2296.8,1452.9 2297.3,1463.9 2297.5,1446.4 2297.9,1460.9 2298.4,1445.8 2298.6,1443.0 2298.9,1467.3 2299.3,1470.9 2299.5,1452.6 2300.1,1454.5 2300.3,1464.7 2300.7,1468.8 2300.9,1450.5 2301.0,1471.7 2301.2,1454.6 2301.8,1466.3 2302.1,1450.7 2302.3,1470.2 2302.7,1444.4 2303.0,1471.9 2303.4,1455.8 2303.7,1436.7 2303.8,1466.0 2304.1,1444.6 2304.4,1462.1 2305.0,1472.7 2305.2,1459.6 2305.7,1454.8 2305.8,1463.3 2306.1,1452.0 2306.4,1465.2 2306.9,1456.6 2307.0,1464.3 2307.3,1443.2 2307.6,1466.6 2307.9,1449.3 2308.1,1465.5 2308.7,1464.7 2308.8,1480.2 2309.0,1468.7 2309.3,1462.7 2309.6,1474.4 2309.9,1452.3 2310.5,1471.9 2310.6,1452.1 2311.1,1472.0 2311.4,1459.5 2311.7,1459.7 2311.8,1477.2 2312.6,1464.8 2313.0,1486.1 2313.5,1461.7 2313.8,1477.1 2314.1,1469.2 2314.2,1482.7 2314.6,1462.6 2314.8,1483.5 2315.7,1469.7 2316.0,1478.8 2316.1,1479.8 2316.6,1467.4 2317.1,1468.7 2317.4,1472.2 2317.9,1461.2 2318.2,1481.8 2318.3,1453.5 2318.9,1472.4 2319.0,1483.3 2319.2,1453.7 2319.9,1470.2 2320.1,1450.3 2320.6,1465.9 2320.8,1453.1 2321.4,1462.9 2321.8,1455.7 2322.1,1448.8 2322.5,1460.8 2322.7,1454.7 2323.1,1477.1 2323.4,1469.8 2323.8,1456.7 2324.1,1453.8 2324.4,1468.8 2324.8,1453.6 2325.4,1478.9 2325.5,1473.0 2325.8,1457.4 2326.4,1453.2 2326.6,1467.2 2326.9,1459.1 2327.2,1466.1 2327.6,1451.9 2327.8,1463.7 2328.6,1466.5 2328.9,1450.6 2329.2,1467.5 2329.6,1447.1 2330.0,1439.3 2330.3,1461.6 2330.4,1467.5 2330.6,1453.6 2331.1,1458.9 2331.4,1440.4 2332.3,1464.9 2332.4,1452.3 2332.7,1448.3 2332.9,1469.5 2333.2,1472.2 2333.4,1442.3 2333.9,1456.8 2334.2,1449.1 2334.6,1436.2 2335.0,1464.3 2335.4,1460.1 2335.7,1448.4 2336.2,1454.7 2336.4,1464.9 2336.9,1459.7 2337.1,1451.7 2337.5,1465.0 2337.7,1458.0 2338.2,1466.2 2338.6,1457.7 2338.7,1454.3 2339.1,1486.1 2339.5,1448.3 2339.9,1479.2 2340.1,1461.7 2340.6,1480.1 2341.0,1478.0 2341.3,1458.3 2341.5,1475.1 2341.9,1452.3 2342.5,1452.6 2342.6,1479.0 2343.0,1442.0 2343.1,1465.3 2343.7,1457.1 2343.8,1466.5 2344.2,1439.1 2344.5,1453.6 2344.7,1464.4 2345.0,1446.6 2345.4,1461.5 2345.5,1441.4 2346.1,1460.4 2346.2,1438.9 2346.7,1447.6 2347.3,1462.3 2347.5,1463.2 2347.6,1441.5 2348.0,1444.8 2348.4,1455.5 2348.7,1450.7 2348.8,1465.2 2349.5,1453.1 2349.6,1469.3 2350.0,1443.1 2350.1,1474.5 2350.7,1470.5 2351.0,1457.1 2351.4,1449.3 2351.7,1472.4 2352.1,1451.9 2352.3,1469.4 2352.6,1469.5 2352.7,1451.0 2353.5,1454.3 2353.6,1475.8 2354.0,1462.9 2354.3,1447.3 2354.8,1465.8 2355.0,1454.9 2355.6,1450.7 2355.7,1471.3 2356.2,1471.8 2356.3,1454.9 2356.6,1448.9 2357.0,1479.4 2357.1,1453.8 2357.2,1480.8 2357.7,1457.7 2357.8,1477.7 2358.4,1454.4 2358.7,1476.7 2359.2,1454.2 2359.4,1478.5 2359.9,1460.7 2360.1,1467.7 2360.4,1476.7 2360.6,1449.1 2361.0,1452.6 2361.3,1476.1 2361.8,1452.7 2361.9,1465.7 2362.1,1452.2 2362.3,1466.2 2362.8,1448.9 2363.1,1458.8 2363.4,1447.6 2363.5,1456.5 2364.0,1465.6 2364.2,1450.3 2364.6,1454.9 2365.1,1443.0 2365.5,1452.8 2365.7,1461.8 2366.1,1464.8 2366.2,1446.7 2366.7,1468.6 2366.8,1444.4 2367.1,1441.0 2367.6,1457.7 2367.7,1464.6 2368.1,1447.7 2368.7,1452.6 2368.8,1479.2 2369.2,1470.5 2369.4,1452.6 2369.7,1460.5 2369.8,1448.7 2370.4,1456.6 2370.5,1473.5 2371.0,1450.7 2371.1,1477.3 2371.5,1477.0 2371.6,1438.7 2372.0,1452.3 2372.1,1465.0 2372.7,1467.7 2373.0,1453.6 2373.3,1456.3 2373.6,1473.7 2373.8,1473.3 2374.2,1446.1 2374.7,1464.8 2374.8,1449.4 2375.7,1472.0 2375.8,1452.3 2375.9,1480.3 2376.1,1449.7 2376.6,1481.4 2376.9,1453.1 2377.6,1455.3 2377.9,1471.0 2378.2,1482.0 2378.5,1455.2 2378.9,1471.4 2379.0,1457.1 2379.7,1460.9 2379.8,1472.8 2380.3,1459.0 2380.4,1472.0 2380.9,1471.4 2381.3,1459.8 2381.9,1455.9 2382.0,1469.0 2382.5,1474.9 2382.7,1456.5 2383.2,1451.6 2383.5,1470.5 2383.8,1454.7 2383.9,1479.7 2384.4,1460.1 2384.5,1442.9 2385.2,1471.4 2385.5,1450.6 2386.0,1465.0 2386.3,1445.8 2386.8,1443.6 2386.9,1473.6 2387.5,1450.2 2387.6,1461.9 2387.9,1450.0 2388.0,1465.0 2388.5,1469.2 2388.7,1447.9 2389.4,1451.2 2389.7,1464.7 2390.1,1450.7 2390.4,1464.2 2390.6,1463.6 2390.8,1449.6 2391.4,1450.9 2391.5,1468.1 2392.0,1472.4 2392.3,1447.0 2392.6,1481.5 2392.7,1452.9 2393.2,1459.5 2393.5,1473.0 2394.0,1459.0 2394.5,1481.4 2394.6,1477.2 2395.0,1454.5 2395.5,1459.9 2395.7,1469.4 2396.0,1475.6 2396.2,1453.8 2396.7,1479.7 2397.0,1457.9 2397.3,1450.5 2397.7,1475.1 2397.9,1457.4 2398.0,1472.8 2398.6,1455.4 2398.8,1476.0 2399.5,1469.2 2399.8,1462.3 2400.0,1453.8 2400.4,1467.6 2400.5,1469.7 2400.6,1455.3 2401.2,1472.8 2401.4,1446.3 2401.8,1447.8 2402.2,1462.8 2402.7,1464.7 2403.0,1451.3 2403.2,1467.2 2403.5,1451.0 2404.2,1452.3 2404.3,1469.2 2404.6,1445.5 2404.8,1465.5 2405.2,1465.6 2405.4,1438.8 2405.9,1447.7 2406.3,1466.1 2406.6,1451.5 2406.9,1470.1 2407.2,1464.0 2407.4,1449.7 2408.0,1471.5 2408.1,1450.4 2408.4,1444.3 2408.5,1476.4 2409.0,1465.5 2409.2,1446.8 2409.9,1474.3 2410.1,1446.8 2410.2,1445.6 2410.7,1439.8 2410.8,1438.6 2411.3,1432.9 2411.5,1431.7 2412.0,1425.9 2412.1,1424.8 2412.6,1419.0 2412.7,1417.9 2413.0,1414.7 2413.3,1414.7 2414.0,1414.7 2414.6,1415.7 2415.1,1422.7 2415.2,1424.9 2415.7,1435.3 2415.8,1437.2 2416.4,1446.6 2416.5,1448.4 2417.0,1456.7 2417.1,1458.3 2417.6,1465.6 2417.7,1467.0 2418.2,1478.8 2418.5,1482.1 2418.7,1475.2 2419.0,1485.5 2419.1,1479.7 2419.5,1482.3 2419.7,1488.2 2420.1,1486.2 2420.4,1489.7 2421.0,1490.9 2421.3,1492.9 2421.4,1493.1 2421.5,1493.9"/>
</g>
<text x="117.5" y="1468.4" font-size="89">10</text>
<text x="214" y="1431.4" font-size="61">0</text>
<text x="117.5" y="1255.9" font-size="89">10</text>
<text x="214" y="1218.9" font-size="61">1</text>
<text x="117.5" y="1043.4" font-size="89">10</text>
<text x="214" y="1006.4" font-size="61">2</text>
<text x="333.0" y="1036.5" font-size="84.5">North</text>
<g clip-path="url(#c2)">
<line x1="955.8" y1="1669" x2="955.8" y2="2320" stroke="#808080" stroke-width="6" stroke-dasharray="6 8"/>
<line x1="1152.6" y1="1669" x2="1152.6" y2="2320" stroke="#808080" stroke-width="6" stroke-dasharray="6 8"/>
<line x1="1267.8" y1="1669" x2="1267.8" y2="2320" stroke="#808080" stroke-width="6" stroke-dasharray="6 8"/>
<line x1="1349.5" y1="1669" x2="1349.5" y2="2320" stroke="#808080" stroke-width="6" stroke-dasharray="6 8"/>
<line x1="1412.8" y1="1669" x2="1412.8" y2="2320" stroke="#808080" stroke-width="6" stroke-dasharray="6 8"/>
<line x1="1464.6" y1="1669" x2="1464.6" y2="2320" stroke="#808080" stroke-width="6" stroke-dasharray="6 8"/>
<line x1="1508.4" y1="1669" x2="1508.4" y2="2320" stroke="#808080" stroke-width="6" stroke-dasharray="6 8"/>
<line x1="1546.3" y1="1669" x2="1546.3" y2="2320" stroke="#808080" stroke-width="6" stroke-dasharray="6 8"/>
<line x1="1579.7" y1="1669" x2="1579.7" y2="2320" stroke="#808080" stroke-width="6" stroke-dasharray="6 8"/>
<line x1="944.7" y1="1658" x2="944.7" y2="2320" stroke="#000" stroke-width="6"/>
<line x1="1142.6" y1="1658" x2="1142.6" y2="2320" stroke="#000" stroke-width="6"/>
</g>
<rect x="291" y="1658" width="2129" height="662" fill="none" stroke="#000" stroke-width="6"/>
<path d="M290.9 1658v-27M290.9 2320v25M473.1 1658v-13M473.1 2320v11M583.3 1658v-13M583.3 2320v11M662.4 1658v-13M662.4 2320v11M724.2 1658v-13M724.2 2320v11M774.9 1658v-13M774.9 2320v11M818.0 1658v-13M818.0 2320v11M855.3 1658v-13M855.3 2320v11M888.4 1658v-13M888.4 2320v11M917.9 1658v-13M917.9 2320v11M944.7 1658v-27M944.7 2320v25M1126.9 1658v-13M1126.9 2320v11M1237.1 1658v-13M1237.1 2320v11M1316.2 1658v-13M1316.2 2320v11M1378.0 1658v-13M1378.0 2320v11M1428.7 1658v-13M1428.7 2320v11M1471.8 1658v-13M1471.8 2320v11M1509.1 1658v-13M1509.1 2320v11M1542.2 1658v-13M1542.2 2320v11M1571.7 1658v-13M1571.7 2320v11M1598.5 1658v-27M1598.5 2320v25M1781.3 1658v-13M1781.3 2320v11M1891.7 1658v-13M1891.7 2320v11M1971.1 1658v-13M1971.1 2320v11M2033.1 1658v-13M2033.1 2320v11M2084.0 1658v-13M2084.0 2320v11M2127.1 1658v-13M2127.1 2320v11M2164.6 1658v-13M2164.6 2320v11M2197.7 1658v-13M2197.7 2320v11M2227.3 1658v-13M2227.3 2320v11M2254.2 1658v-27M2254.2 2320v25M291 2293.5h-13M2420 2293.5h11M291 2256.2h-13M2420 2256.2h11M291 2229.8h-13M2420 2229.8h11M291 2209.2h-27M2420 2209.2h25M291 2145.5h-13M2420 2145.5h11M291 2081.7h-13M2420 2081.7h11M291 2044.4h-13M2420 2044.4h11M291 2017.9h-13M2420 2017.9h11M291 1997.4h-27M2420 1997.4h25M291 1933.6h-13M2420 1933.6h11M291 1869.8h-13M2420 1869.8h11M291 1832.5h-13M2420 1832.5h11M291 1806.1h-13M2420 1806.1h11M291 1785.5h-27M2420 1785.5h25M291 1721.8h-13M2420 1721.8h11M291 1658.0h-13M2420 1658.0h11" stroke="#000" stroke-width="6" fill="none"/>
<g clip-path="url(#d2)">
<polyline fill="none" stroke="#ff0000" stroke-width="7.5" stroke-linejoin="round" stroke-linecap="round" points="164.7,2046.0 361.5,2047.7 476.7,2045.6 558.4,2065.6 621.7,2072.7 673.5,2068.0 717.2,2092.0 755.2,2085.6 788.6,1995.5 818.5,1947.6 845.6,1955.7 870.3,2003.7 893.0,1948.6 914.1,1846.5 933.7,1772.0 952.0,1745.5 969.2,1753.7 985.4,1797.6 1000.8,1875.0 1015.3,1967.3 1029.6,2000.0 1042.9,2007.1 1045.9,2073.5 1054.1,2053.1 1066.3,2081.6 1087.8,1989.8 1100.0,1989.8 1110.2,2028.6 1120.4,2048.0 1150.0,1864.3 1158.2,1864.3 1167.3,1898.0 1180.6,2084.7 1189.8,2082.7 1196.0,2057.1 1214.3,2134.7 1224.5,2104.1 1238.8,2118.4 1253.1,2095.9 1275.5,2114.3 1289.8,2163.3 1303.2,2155.5 1311.6,2159.7 1328.5,2182.9 1343.3,2185.0 1351.7,2195.6 1368.6,2193.5 1377.0,2204.0 1389.7,2195.6 1400.3,2218.8 1416.1,2151.3 1429.8,2216.7 1434.0,2170.3 1435.9,2179.9 1439.1,2196.0 1442.4,2212.4 1445.4,2210.5 1448.5,2208.7 1451.6,2207.1 1454.7,2205.5 1457.7,2204.2 1460.6,2202.5 1463.6,2200.5 1465.7,2199.8 1469.4,2202.4 1472.2,2206.8 1474.1,2210.3 1477.8,2203.4 1480.6,2202.6 1483.6,2201.9 1486.1,2211.1 1488.8,2224.4 1491.0,2231.4 1494.1,2193.8 1497.3,2155.5 1499.3,2161.5 1501.9,2161.4 1504.4,2170.3 1507.8,2176.6 1509.4,2179.8 1511.9,2184.7 1514.4,2187.3 1516.8,2192.3 1519.2,2194.7 1520.5,2195.6 1524.0,2203.4 1526.3,2212.4 1528.7,2221.9 1531.0,2228.0 1533.3,2239.9 1535.3,2244.1 1537.8,2231.5 1540.1,2223.4 1542.3,2218.8 1544.5,2214.1 1547.9,2197.7 1551.1,2209.9 1553.2,2221.4 1555.3,2229.4 1558.5,2244.1 1561.6,2233.5 1563.7,2231.0 1565.7,2226.0 1567.8,2218.0 1569.0,2214.6 1571.8,2203.3 1573.8,2186.7 1575.8,2178.4 1577.7,2182.8 1579.7,2156.6 1581.7,2153.4 1583.5,2167.0 1585.5,2187.5 1587.4,2214.0 1590.1,2246.2 1593.0,2196.2 1594.3,2174.5 1596.7,2186.1 1598.5,2194.3 1600.3,2204.2 1602.8,2223.0 1605.7,2218.9 1607.5,2226.5 1609.2,2223.1 1611.0,2219.9 1612.7,2234.3 1614.5,2219.5 1616.2,2217.2 1617.6,2227.2 1619.6,2227.1 1621.3,2227.5 1623.0,2235.0 1624.6,2226.6 1626.3,2234.0 1628.1,2235.7 1629.6,2224.2 1631.2,2220.5 1632.8,2211.8 1634.5,2198.5 1636.5,2185.0 1639.2,2211.4 1640.8,2204.3 1642.4,2220.5 1645.0,2239.9 1647.0,2236.1 1648.6,2244.4 1650.1,2227.9 1651.6,2247.6 1653.1,2238.8 1654.6,2239.0 1656.1,2242.6 1657.6,2242.0 1659.1,2232.0 1660.6,2223.7 1662.0,2212.9 1664.0,2199.8 1666.4,2206.3 1667.8,2219.7 1669.2,2224.6 1670.7,2218.2 1672.1,2224.2 1674.5,2239.9 1683.1,2240.0 1684.5,2236.5 1685.8,2247.0 1687.2,2252.9 1688.5,2217.5 1689.8,2239.2 1691.2,2232.5 1692.5,2237.3 1693.8,2236.0 1695.1,2219.2 1696.4,2241.5 1697.7,2228.1 1699.0,2234.2 1700.2,2241.9 1701.5,2237.1 1702.8,2240.5 1704.0,2235.3 1705.3,2231.6 1706.6,2239.3 1707.8,2230.7 1709.0,2248.5 1710.3,2240.3 1711.5,2249.2 1712.7,2229.7 1714.0,2223.7 1715.2,2222.3 1716.4,2236.1 1717.6,2228.2 1718.8,2239.6 1720.0,2225.6 1721.2,2225.9 1722.3,2237.7 1723.5,2231.8 1724.7,2239.5 1725.9,2240.5 1727.0,2236.9 1728.2,2224.9 1729.3,2227.3 1730.5,2251.0 1731.6,2232.9 1732.8,2237.8 1733.9,2237.4 1735.1,2236.7 1736.2,2235.5 1737.3,2232.4 1738.4,2232.5 1739.5,2221.1 1740.6,2249.2 1741.8,2237.4 1742.9,2230.6 1744.0,2246.4 1745.0,2248.3 1746.1,2232.2 1747.2,2238.8 1748.3,2253.5 1749.4,2246.1 1750.5,2245.0 1751.5,2247.5 1752.6,2236.0 1753.6,2231.9 1754.7,2244.8 1755.8,2231.8 1756.8,2235.0 1757.8,2224.7 1758.9,2213.2 1759.9,2201.8 1761.0,2201.0 1762.0,2201.0 1763.0,2212.2 1764.0,2223.4 1765.1,2232.5 1766.1,2251.9 1767.1,2240.4 1768.1,2237.0 1769.1,2244.8 1770.1,2229.2 1771.1,2248.9 1772.1,2240.8 1773.1,2245.1 1774.1,2240.8 1775.1,2253.0 1776.0,2250.1 1777.0,2254.5 1778.0,2257.5 1779.0,2245.8 1779.9,2243.9 1780.9,2244.7 1781.8,2233.5 1782.8,2232.0 1783.8,2238.9 1784.7,2224.9 1785.7,2217.1 1786.6,2231.7 1787.5,2239.9 1788.5,2252.7 1789.4,2238.3 1790.3,2236.9 1791.3,2243.3 1792.2,2238.5 1793.1,2238.4 1794.0,2230.0 1795.0,2234.5 1795.9,2229.8 1796.8,2245.2 1797.7,2244.4 1798.6,2250.8 1799.5,2245.7 1800.4,2238.3 1801.3,2247.8 1802.2,2244.5 1803.1,2250.2 1804.0,2246.7 1804.9,2237.9 1805.7,2238.0 1806.6,2231.2 1807.5,2239.2 1808.4,2241.8 1809.2,2237.5 1810.1,2232.5 1811.0,2251.7 1811.8,2237.0 1812.7,2259.6 1813.6,2258.6 1814.4,2263.1 1815.3,2244.9 1816.1,2254.2 1817.0,2234.6 1817.8,2237.7 1818.7,2224.4 1819.5,2227.8 1820.3,2229.3 1821.2,2241.7 1822.0,2244.8 1822.8,2236.1 1823.7,2238.9 1824.5,2235.2 1825.3,2233.9 1826.2,2228.3 1827.0,2239.2 1827.8,2244.0 1828.6,2232.2 1829.4,2240.1 1830.2,2228.3 1831.0,2229.7 1831.8,2234.0 1832.6,2245.6 1833.4,2235.5 1834.2,2246.0 1835.0,2237.6 1835.8,2231.7 1836.6,2224.5 1837.4,2236.0 1838.2,2232.0 1839.0,2246.1 1839.8,2242.4 1840.6,2226.6 1841.3,2219.4 1842.1,2210.8 1842.9,2202.3 1843.7,2193.8 1844.4,2190.0 1845.2,2190.0 1846.0,2190.0 1846.7,2198.0 1847.5,2206.4 1848.2,2214.7 1849.0,2247.3 1849.8,2235.3 1850.5,2260.7 1851.3,2246.7 1852.0,2259.9 1852.8,2242.2 1853.5,2249.3 1854.3,2248.2 1855.0,2244.6 1855.7,2248.3 1856.5,2248.2 1857.2,2252.8 1858.0,2249.4 1858.7,2247.7 1859.4,2251.3 1860.1,2258.8 1860.9,2247.3 1861.6,2249.5 1862.3,2243.2 1863.0,2224.2 1863.8,2230.1 1864.5,2228.5 1865.2,2224.6 1865.9,2231.9 1866.6,2225.7 1867.3,2245.0 1868.0,2242.4 1868.8,2259.2 1869.5,2254.6 1870.2,2242.3 1870.9,2249.9 1871.6,2250.6 1872.3,2243.3 1873.0,2243.8 1873.7,2236.6 1874.4,2238.3 1875.0,2245.7 1875.7,2240.7 1876.4,2251.6 1877.1,2224.5 1877.8,2233.1 1878.5,2234.9 1879.2,2248.2 1879.8,2244.9 1880.5,2242.3 1881.2,2244.6 1881.9,2250.3 1882.5,2244.4 1883.2,2238.4 1883.9,2242.6 1884.6,2236.1 1885.2,2240.1 1885.9,2245.4 1886.6,2239.8 1887.2,2246.1 1887.9,2243.7 1888.5,2238.4 1889.2,2238.6 1889.9,2255.6 1890.5,2250.6 1891.2,2256.8 1891.8,2249.8 1892.5,2250.6 1893.1,2252.9 1893.8,2248.4 1894.4,2261.8 1895.1,2259.0 1895.7,2253.9 1896.3,2241.6 1897.0,2244.0 1897.6,2248.0 1898.3,2253.6 1898.9,2242.9 1899.5,2242.2 1900.2,2246.3 1900.8,2243.5 1901.4,2241.9 1902.1,2235.2 1902.7,2254.3 1903.3,2245.2 1903.9,2242.2 1904.6,2245.8 1905.2,2236.5 1905.8,2233.8 1906.4,2233.1 1907.0,2250.0 1907.7,2237.0 1908.3,2248.3 1908.9,2238.3 1909.5,2233.8 1910.1,2242.9 1910.7,2242.2 1911.3,2243.1 1911.9,2262.6 1912.6,2251.6 1913.2,2246.2 1913.8,2258.3 1914.4,2249.5 1915.0,2261.7 1915.6,2239.9 1916.2,2259.9 1916.8,2242.1 1917.4,2243.7 1918.0,2249.9 1918.5,2238.9 1919.1,2233.7 1919.7,2243.1 1920.3,2243.8 1920.9,2233.8 1921.5,2255.0 1922.1,2242.0 1922.7,2244.7 1923.3,2248.9 1923.8,2251.9 1924.4,2260.4 1925.0,2235.6 1925.6,2252.2 1926.2,2258.1 1926.7,2251.6 1927.3,2247.4 1927.9,2237.5 1928.5,2247.2 1929.0,2239.5 1929.6,2243.6 1930.2,2234.2 1930.7,2240.0 1931.3,2241.5 1931.9,2231.2 1932.4,2251.1 1933.0,2242.2 1933.6,2233.3 1934.1,2241.5 1934.7,2244.6 1935.3,2241.0 1935.8,2236.0 1936.4,2243.2 1936.9,2235.5 1937.5,2234.4 1938.0,2258.0 1938.6,2263.4 1939.1,2265.5 1939.7,2269.1 1940.2,2262.1 1940.8,2244.2 1941.3,2247.2 1941.9,2260.3 1942.4,2248.1 1943.0,2249.1 1943.5,2251.8 1944.1,2255.3 1944.6,2241.3 1945.1,2252.3 1945.7,2255.8 1946.2,2235.4 1946.8,2259.9 1947.3,2256.4 1947.8,2243.3 1948.4,2263.5 1948.9,2251.8 1949.4,2252.0 1950.0,2260.3 1950.5,2227.9 1951.0,2248.6 1951.6,2257.4 1952.1,2260.8 1952.6,2249.9 1953.1,2249.3 1953.7,2245.3 1954.2,2249.1 1954.7,2245.2 1955.2,2233.0 1955.8,2247.3 1956.3,2243.8 1956.8,2246.7 1957.3,2247.5 1957.8,2247.0 1958.3,2251.3 1958.9,2249.7 1959.4,2247.3 1959.9,2245.2 1960.4,2249.3 1960.9,2247.9 1961.4,2249.7 1961.9,2262.1 1962.4,2253.6 1963.0,2249.1 1963.5,2236.4 1964.0,2241.6 1964.5,2232.8 1965.0,2260.4 1965.5,2262.2 1966.0,2250.5 1966.5,2250.3 1967.0,2258.1 1967.5,2259.2 1968.0,2241.3 1968.5,2253.3 1969.0,2253.2 1969.5,2245.8 1970.0,2267.1 1970.5,2261.8 1971.0,2250.9 1971.5,2254.9 1971.9,2250.5 1972.4,2250.3 1972.9,2250.7 1973.4,2261.5 1973.9,2253.0 1974.4,2249.0 1974.9,2247.2 1975.4,2254.7 1975.9,2245.9 1976.3,2240.2 1976.8,2252.1 1977.3,2266.1 1977.8,2248.4 1978.3,2255.3 1978.7,2252.7 1979.2,2264.2 1979.7,2258.3 1980.2,2244.5 1980.7,2268.2 1981.1,2253.9 1981.6,2245.8 1982.1,2248.2 1982.6,2251.7 1983.0,2258.8 1983.5,2247.2 1984.0,2242.8 1984.5,2258.8 1984.9,2260.6 1985.4,2245.3 1985.9,2249.2 1986.3,2251.0 1986.8,2245.5 1987.3,2240.5 1987.7,2256.1 1988.2,2238.9 1988.7,2232.9 1989.1,2252.1 1989.6,2256.7 1990.0,2254.0 1990.5,2241.1 1991.0,2244.7 1991.4,2236.9 1991.9,2240.2 1992.3,2223.4 1992.8,2234.7 1993.3,2251.4 1993.7,2229.8 1994.2,2252.1 1994.6,2239.2 1995.1,2222.0 1995.5,2245.7 1996.0,2231.5 1996.4,2245.1 1996.9,2241.2 1997.3,2242.0 1997.8,2245.6 1998.2,2238.5 1998.7,2244.8 1999.1,2249.0 1999.6,2267.4 2000.0,2248.8 2000.5,2256.0 2000.9,2257.0 2001.4,2263.0 2001.8,2251.1 2002.2,2254.3 2002.7,2245.0 2003.1,2272.5 2003.6,2240.0 2004.0,2253.8 2004.4,2248.9 2004.9,2253.0 2005.3,2247.5 2005.8,2248.2 2006.2,2260.0 2006.6,2260.1 2007.1,2252.2 2007.5,2252.1 2007.9,2255.1 2008.4,2253.4 2008.8,2257.8 2009.2,2260.6 2009.7,2258.5 2010.1,2242.1 2010.5,2254.0 2011.0,2245.1 2011.4,2256.0 2011.8,2248.6 2012.2,2251.7 2012.7,2246.8 2013.1,2253.3 2013.5,2255.1 2013.9,2244.3 2014.4,2230.1 2014.8,2241.7 2015.2,2257.6 2015.6,2236.4 2016.1,2241.8 2016.5,2262.8 2016.9,2257.7 2017.3,2250.3 2017.7,2248.0 2018.2,2236.6 2018.6,2261.3 2019.0,2256.2 2019.4,2235.8 2019.8,2248.7 2020.2,2248.6 2020.6,2249.1 2021.1,2244.3 2021.5,2269.6 2021.9,2242.6 2022.3,2261.3 2022.7,2254.7 2023.1,2249.6 2023.5,2253.1 2023.9,2255.5 2024.4,2243.2 2024.8,2246.5 2025.2,2259.2 2025.6,2256.9 2026.0,2252.1 2026.4,2238.8 2026.8,2234.6 2027.2,2258.8 2027.6,2257.6 2028.0,2249.2 2028.4,2247.5 2028.8,2241.1 2029.2,2247.2 2029.6,2252.6 2030.0,2249.0 2030.4,2238.8 2030.8,2246.8 2031.2,2240.8 2031.6,2246.0 2032.0,2239.5 2032.4,2231.3 2032.8,2243.8 2033.2,2255.5 2033.6,2249.2 2034.0,2261.2 2034.4,2253.3 2034.8,2260.7 2035.2,2254.7 2035.6,2270.0 2036.0,2255.4 2036.4,2258.9 2036.8,2268.1 2037.2,2271.1 2037.5,2250.1 2037.9,2271.4 2038.3,2251.3 2038.7,2252.3 2039.1,2253.5 2039.5,2268.4 2039.9,2251.9 2040.3,2265.0 2040.7,2263.2 2041.0,2257.5 2041.4,2261.6 2041.8,2273.1 2042.2,2267.8 2042.6,2246.5 2043.0,2253.7 2043.3,2246.9 2043.7,2247.7 2044.1,2243.4 2044.5,2251.4 2044.9,2239.9 2045.3,2236.9 2045.6,2247.5 2046.0,2250.3 2046.4,2258.2 2046.8,2254.9 2047.1,2243.7 2047.5,2244.4 2047.9,2255.5 2048.3,2256.1 2048.7,2260.8 2049.0,2266.3 2049.4,2238.4 2049.8,2251.7 2050.2,2261.1 2050.5,2248.3 2050.9,2270.6 2051.3,2257.1 2051.6,2263.3 2052.0,2257.7 2052.4,2263.0 2052.8,2264.2 2053.1,2266.2 2053.5,2251.6 2053.9,2247.9 2054.2,2263.0 2054.6,2270.4 2055.0,2262.2 2055.3,2262.7 2055.7,2271.9 2056.1,2267.6 2056.4,2253.5 2056.8,2260.8 2057.2,2256.1 2057.5,2256.4 2057.9,2253.4 2058.3,2257.0 2058.6,2250.7 2059.0,2252.2 2059.3,2248.9 2059.7,2246.4 2060.1,2243.4 2060.4,2250.4 2060.8,2252.3 2061.2,2262.2 2061.5,2270.4 2061.9,2246.5 2062.2,2248.0 2062.6,2263.0 2062.9,2252.7 2063.3,2258.3 2063.7,2248.4 2064.0,2264.2 2064.4,2248.5 2064.7,2268.5 2065.1,2254.0 2065.4,2262.6 2065.8,2268.7 2066.1,2254.4 2066.5,2260.5 2066.8,2278.7 2067.2,2251.0 2067.6,2263.5 2067.9,2247.0 2068.3,2266.0 2068.6,2262.2 2069.0,2254.9 2069.3,2254.6 2069.7,2274.1 2070.0,2269.6 2070.3,2254.7 2070.7,2270.9 2071.0,2257.1 2071.4,2258.2 2071.7,2268.0 2072.1,2264.0 2072.4,2269.4 2072.8,2274.0 2073.1,2260.4 2073.5,2270.1 2073.8,2268.2 2074.2,2252.7 2074.5,2272.3 2074.8,2274.1 2075.2,2255.1 2075.5,2263.0 2075.9,2272.6 2076.2,2270.8 2076.5,2259.3 2076.9,2258.7 2077.2,2256.3 2077.6,2247.0 2077.9,2255.7 2078.2,2269.9 2078.6,2240.2 2078.9,2249.9 2079.3,2241.6 2079.6,2260.5 2079.9,2235.1 2080.3,2255.4 2080.6,2251.9 2080.9,2241.6 2081.3,2246.1 2081.6,2249.2 2081.9,2262.5 2082.3,2251.3 2082.6,2258.8 2082.9,2258.0 2083.3,2250.4 2083.6,2250.1 2083.9,2249.5 2084.3,2263.1 2084.6,2260.6 2084.9,2258.0 2085.3,2245.0 2085.6,2248.2 2085.9,2256.9 2086.3,2249.9 2086.6,2241.1 2086.9,2240.7 2087.2,2257.0 2087.6,2260.2 2087.9,2259.1 2088.2,2267.9 2088.6,2243.6 2088.9,2242.4 2089.2,2258.0 2089.5,2264.4 2089.9,2250.8 2090.2,2259.6 2090.5,2260.4 2090.8,2254.2 2091.2,2251.6 2091.5,2256.1 2091.8,2258.6 2092.1,2265.6 2092.4,2258.0 2092.8,2253.3 2093.1,2252.9 2093.4,2258.4 2093.7,2266.5 2094.1,2256.0 2094.4,2260.2 2094.7,2267.5 2095.0,2265.4 2095.3,2279.6 2095.6,2266.8 2096.0,2267.2 2096.3,2278.2 2096.6,2245.3 2096.9,2245.2 2097.2,2251.4 2097.6,2257.3 2097.9,2264.4 2098.2,2259.1 2098.5,2248.3 2098.8,2240.0 2099.1,2253.6 2099.4,2248.0 2099.8,2242.0 2100.1,2239.7 2100.4,2255.3 2100.7,2247.5 2101.0,2251.5 2101.3,2249.3 2101.6,2244.2 2101.9,2246.7 2102.3,2245.9 2102.6,2250.5 2102.9,2245.8 2103.2,2256.5 2103.5,2243.9 2103.8,2253.9 2104.1,2253.2 2104.4,2257.1 2104.7,2231.6 2105.0,2257.4 2105.4,2255.1 2105.7,2248.6 2106.0,2249.3 2106.3,2248.8 2106.6,2239.9 2106.9,2272.6 2107.2,2249.6 2107.5,2254.6 2107.8,2241.4 2108.1,2247.0 2108.4,2231.5 2108.7,2249.4 2109.0,2243.0 2109.3,2249.9 2109.6,2253.2 2109.9,2260.6 2110.2,2250.1 2110.5,2241.3 2110.8,2246.6 2111.1,2255.8 2111.4,2266.8 2111.7,2233.4 2112.0,2244.1 2112.4,2249.6 2112.7,2255.1 2113.2,2269.9 2113.8,2272.0 2114.1,2255.9 2114.7,2248.8 2115.0,2255.7 2115.6,2261.6 2115.9,2277.2 2116.5,2251.9 2116.8,2263.4 2117.1,2242.0 2117.4,2263.9 2118.0,2244.4 2118.3,2258.6 2118.9,2263.3 2119.5,2248.1 2119.8,2252.2 2120.3,2243.9 2120.9,2260.4 2121.2,2247.2 2121.8,2245.2 2122.1,2250.7 2122.4,2249.5 2123.0,2261.5 2123.3,2268.7 2123.5,2249.7 2124.1,2248.6 2124.7,2264.5 2125.3,2258.1 2125.6,2250.3 2125.8,2246.9 2126.4,2264.9 2126.7,2255.4 2127.0,2244.2 2127.8,2274.2 2128.1,2248.9 2128.4,2281.0 2128.7,2266.3 2129.3,2266.0 2129.5,2239.6 2130.1,2260.6 2130.7,2269.0 2131.2,2252.6 2131.5,2263.2 2132.1,2263.4 2132.4,2256.5 2132.9,2241.4 2133.2,2262.5 2133.5,2269.5 2134.0,2261.0 2134.3,2266.7 2134.6,2259.3 2135.4,2275.9 2135.7,2247.4 2136.0,2256.9 2136.5,2267.3 2136.8,2251.3 2137.4,2265.5 2137.6,2269.5 2137.9,2252.0 2138.5,2256.6 2138.7,2267.8 2139.3,2261.7 2139.5,2273.3 2140.1,2259.2 2140.6,2271.6 2141.2,2273.3 2141.5,2261.6 2141.7,2241.9 2142.3,2259.9 2142.5,2258.1 2142.8,2264.6 2143.3,2274.2 2143.6,2263.1 2144.4,2270.4 2144.7,2254.5 2145.0,2270.2 2145.5,2242.3 2145.8,2272.8 2146.0,2261.3 2146.6,2251.1 2146.8,2265.2 2147.4,2280.2 2147.9,2260.9 2148.2,2242.3 2148.7,2265.0 2149.2,2265.9 2149.5,2260.7 2149.7,2268.4 2150.3,2257.0 2150.5,2269.9 2151.1,2261.6 2151.6,2254.9 2151.8,2280.9 2152.1,2280.9 2152.6,2257.5 2152.9,2267.0 2153.4,2251.9 2153.7,2243.9 2153.9,2255.1 2154.4,2268.1 2155.0,2253.9 2155.2,2256.4 2155.7,2258.3 2156.2,2267.2 2156.5,2245.0 2157.0,2256.8 2157.3,2261.8 2157.8,2247.2 2158.0,2259.5 2158.3,2261.3 2158.6,2245.3 2159.1,2271.3 2159.3,2246.1 2159.8,2229.0 2160.1,2251.7 2160.6,2253.7 2160.8,2248.3 2161.4,2259.6 2161.6,2258.5 2162.1,2246.0 2162.6,2251.8 2163.1,2246.2 2163.4,2253.3 2163.6,2257.2 2164.1,2244.3 2164.6,2248.8 2164.9,2268.0 2165.4,2256.0 2165.6,2264.3 2166.1,2245.0 2166.4,2256.5 2166.6,2239.6 2166.9,2259.2 2167.6,2258.3 2167.9,2273.9 2168.3,2256.3 2168.6,2281.3 2169.1,2267.6 2169.3,2260.3 2169.8,2261.4 2170.1,2257.0 2170.3,2261.6 2170.8,2257.5 2171.3,2258.5 2171.5,2241.6 2171.8,2263.0 2172.0,2239.6 2172.8,2253.8 2173.0,2258.9 2173.2,2273.6 2173.7,2253.9 2174.0,2260.6 2174.4,2242.4 2174.7,2250.8 2174.9,2262.0 2175.7,2262.5 2175.9,2241.1 2176.1,2244.6 2176.4,2249.4 2176.9,2260.8 2177.3,2246.3 2177.6,2266.3 2177.8,2244.0 2178.3,2264.6 2178.8,2253.0 2179.0,2258.7 2179.2,2249.1 2179.7,2251.1 2180.0,2263.6 2180.4,2243.0 2180.9,2258.1 2181.4,2242.8 2181.6,2249.4 2181.8,2241.7 2182.3,2272.0 2182.5,2271.3 2182.8,2257.4 2183.5,2256.9 2183.7,2262.5 2183.9,2257.7 2184.2,2253.7 2184.6,2255.2 2185.1,2266.1 2185.3,2247.9 2185.6,2253.8 2186.0,2272.5 2186.5,2262.8 2186.7,2254.3 2187.0,2271.0 2187.4,2252.8 2187.9,2278.3 2188.1,2268.5 2188.6,2266.6 2188.8,2279.7 2189.0,2266.1 2189.7,2279.6 2190.0,2274.0 2190.2,2278.5 2190.6,2258.0 2190.9,2273.6 2191.1,2267.8 2191.6,2270.4 2192.0,2274.9 2192.2,2259.1 2192.7,2260.4 2192.9,2262.5 2193.1,2249.1 2193.6,2265.5 2194.0,2242.9 2194.5,2267.6 2194.7,2259.9 2194.9,2268.2 2195.4,2255.3 2195.6,2254.0 2195.8,2275.2 2196.5,2267.2 2196.7,2250.6 2197.0,2253.9 2197.2,2268.3 2197.6,2254.0 2197.9,2265.8 2198.3,2241.0 2198.7,2266.2 2199.2,2250.8 2199.4,2265.6 2199.6,2254.8 2199.8,2265.9 2200.5,2253.4 2200.7,2274.3 2201.2,2257.5 2201.4,2255.1 2201.8,2260.5 2202.1,2256.8 2202.3,2264.5 2202.7,2257.8 2202.9,2258.6 2203.4,2266.6 2203.6,2269.7 2203.8,2251.8 2204.2,2264.8 2204.5,2248.4 2204.9,2272.4 2205.3,2249.8 2205.5,2241.7 2205.8,2259.2 2206.4,2265.1 2206.6,2248.6 2206.8,2256.9 2207.0,2271.8 2207.7,2242.4 2207.9,2259.2 2208.1,2259.0 2208.6,2248.3 2208.8,2261.5 2209.2,2246.6 2209.4,2247.9 2209.6,2254.6 2210.0,2245.3 2210.5,2265.8 2210.7,2242.1 2210.9,2259.8 2211.3,2236.0 2211.5,2258.1 2212.0,2255.0 2212.4,2238.5 2212.6,2251.7 2213.0,2266.7 2213.2,2249.9 2213.4,2267.2 2213.9,2274.0 2214.1,2278.7 2214.5,2273.6 2214.9,2263.6 2215.1,2253.6 2215.5,2271.2 2215.7,2270.6 2216.2,2245.1 2216.6,2248.7 2216.8,2264.7 2217.0,2250.9 2217.4,2259.8 2217.6,2259.7 2218.0,2268.8 2218.4,2272.8 2218.7,2255.5 2219.1,2282.8 2219.3,2264.9 2219.5,2256.5 2219.7,2262.4 2220.1,2258.9 2220.5,2277.0 2220.9,2255.1 2221.1,2270.2 2221.3,2271.0 2221.5,2261.7 2221.9,2258.9 2222.1,2271.9 2222.8,2266.1 2223.0,2252.2 2223.4,2262.0 2223.6,2267.9 2223.8,2254.6 2224.0,2243.2 2224.4,2263.1 2224.6,2259.9 2225.0,2271.2 2225.4,2265.9 2225.6,2261.1 2225.8,2250.9 2226.4,2249.8 2226.6,2257.8 2226.8,2252.8 2227.2,2246.2 2227.4,2240.1 2227.6,2267.3 2228.2,2232.5 2228.6,2251.9 2229.2,2240.1 2229.4,2266.5 2229.6,2246.1 2229.8,2252.0 2230.6,2253.9 2231.0,2262.1 2231.6,2243.9 2231.8,2260.5 2232.2,2243.3 2232.6,2271.9 2233.0,2261.8 2233.2,2272.8 2233.6,2252.9 2234.0,2268.1 2234.5,2253.7 2234.7,2276.5 2235.3,2275.0 2235.7,2256.8 2235.9,2257.5 2236.3,2272.1 2236.9,2243.3 2237.3,2266.5 2237.5,2254.2 2238.0,2245.1 2238.2,2273.4 2238.4,2244.7 2239.2,2269.9 2239.4,2254.0 2239.8,2276.4 2240.0,2254.7 2240.5,2247.5 2241.1,2267.5 2241.5,2278.2 2241.7,2252.3 2242.1,2263.7 2242.4,2251.0 2243.0,2252.6 2243.2,2272.0 2243.6,2265.6 2244.0,2252.5 2244.3,2267.3 2244.5,2246.4 2245.3,2265.7 2245.7,2250.6 2246.2,2237.3 2246.4,2268.8 2246.8,2232.3 2247.0,2254.0 2247.4,2253.1 2247.5,2262.0 2248.1,2243.5 2248.5,2227.2 2249.0,2237.1 2249.2,2256.4 2249.8,2249.9 2250.0,2237.1 2250.5,2235.7 2250.7,2249.0 2251.1,2239.4 2251.3,2249.4 2252.0,2259.2 2252.4,2244.1 2252.9,2260.5 2253.1,2238.5 2253.6,2254.7 2253.8,2275.7 2254.2,2271.7 2254.4,2253.4 2254.7,2243.1 2255.3,2267.9 2255.6,2245.4 2255.8,2264.7 2256.4,2276.5 2256.6,2240.9 2256.9,2249.3 2257.5,2265.5 2257.6,2260.6 2258.0,2233.0 2258.7,2246.0 2258.9,2257.6 2259.1,2251.4 2259.6,2244.2 2259.8,2244.4 2260.3,2264.1 2260.7,2244.2 2261.0,2254.8 2261.2,2246.2 2261.6,2264.5 2261.9,2246.3 2262.5,2257.7 2262.6,2245.2 2263.0,2255.8 2263.5,2259.5 2263.9,2250.6 2264.2,2258.3 2264.4,2248.8 2264.9,2248.3 2265.1,2259.2 2265.8,2265.7 2266.0,2245.1 2266.5,2239.2 2266.7,2263.7 2267.0,2262.4 2267.4,2245.9 2267.6,2261.0 2268.1,2243.1 2268.4,2268.1 2268.8,2237.0 2269.1,2251.8 2269.3,2237.7 2269.8,2249.3 2270.0,2257.9 2270.3,2247.0 2270.9,2256.6 2271.2,2266.4 2271.4,2246.2 2271.9,2257.6 2272.2,2245.9 2272.4,2237.5 2272.7,2258.5 2273.1,2259.9 2273.3,2242.9 2273.8,2238.6 2274.1,2265.0 2274.4,2259.8 2275.0,2236.4 2275.3,2262.0 2275.5,2248.9 2276.0,2247.6 2276.3,2260.8 2276.5,2249.1 2276.8,2257.8 2277.2,2246.5 2277.5,2274.5 2278.2,2271.5 2278.3,2253.3 2278.5,2253.0 2278.8,2259.5 2279.2,2260.5 2279.5,2272.9 2279.8,2247.7 2280.0,2260.2 2280.7,2255.7 2280.8,2261.9 2281.2,2273.1 2281.5,2250.8 2282.0,2263.6 2282.3,2245.4 2282.8,2244.2 2283.0,2272.4 2283.3,2253.2 2283.5,2274.0 2284.1,2262.5 2284.3,2248.5 2284.6,2248.9 2285.0,2274.6 2285.3,2267.4 2285.4,2258.4 2285.8,2250.1 2286.1,2270.5 2286.4,2249.0 2286.9,2266.0 2287.2,2249.5 2287.6,2265.7 2287.9,2256.6 2288.2,2274.0 2288.5,2253.3 2288.9,2272.2 2289.2,2265.7 2289.3,2252.6 2289.7,2246.8 2290.2,2275.8 2290.5,2252.2 2290.8,2281.2 2291.1,2264.7 2291.3,2256.7 2291.8,2264.7 2292.1,2257.6 2292.2,2248.6 2292.4,2279.2 2293.0,2250.4 2293.2,2252.0 2293.5,2261.8 2293.7,2240.3 2294.1,2250.5 2294.3,2256.6 2294.9,2232.6 2295.1,2257.0 2295.7,2239.9 2295.9,2257.5 2296.2,2254.5 2296.4,2246.5 2296.8,2240.8 2297.0,2266.2 2297.6,2273.4 2297.8,2253.0 2297.9,2239.6 2298.4,2251.8 2298.6,2243.6 2298.9,2261.1 2299.3,2244.5 2299.5,2260.0 2300.1,2265.8 2300.3,2247.3 2300.6,2262.6 2300.7,2253.5 2301.2,2278.2 2301.4,2242.4 2301.7,2260.0 2302.1,2245.0 2302.6,2253.0 2302.7,2267.8 2303.2,2280.1 2303.4,2249.4 2303.5,2246.7 2304.0,2281.6 2304.1,2276.6 2304.4,2254.2 2304.9,2276.1 2305.0,2259.5 2305.3,2254.0 2305.7,2280.9 2306.1,2255.8 2306.3,2262.2 2306.6,2253.7 2306.7,2274.4 2307.2,2264.6 2307.6,2259.2 2307.8,2265.2 2308.1,2253.3 2308.4,2260.4 2308.5,2247.4 2309.1,2269.7 2309.3,2250.5 2309.6,2269.2 2310.0,2250.8 2310.2,2244.5 2310.6,2272.6 2310.9,2252.8 2311.2,2272.8 2312.0,2251.8 2312.3,2267.5 2312.4,2260.3 2312.7,2253.7 2313.3,2258.8 2313.5,2247.9 2314.1,2241.2 2314.5,2257.5 2314.9,2252.8 2315.1,2232.4 2315.4,2261.8 2315.8,2245.0 2316.6,2242.1 2316.7,2266.5 2317.1,2258.4 2317.3,2235.5 2317.9,2249.0 2318.2,2263.2 2318.3,2241.0 2318.6,2265.2 2319.3,2242.0 2319.5,2262.9 2320.2,2260.9 2320.3,2240.3 2320.8,2239.1 2321.1,2258.9 2321.5,2238.5 2321.6,2257.2 2322.4,2239.5 2322.5,2260.8 2322.7,2250.0 2323.2,2262.3 2323.7,2244.2 2323.9,2252.5 2324.4,2251.7 2324.5,2264.7 2324.8,2267.2 2325.1,2246.8 2325.9,2247.3 2326.1,2258.1 2326.5,2249.6 2326.8,2264.2 2327.4,2262.9 2327.5,2245.9 2327.8,2271.8 2328.1,2253.2 2328.5,2267.3 2328.8,2245.7 2329.0,2266.1 2329.2,2255.1 2329.9,2255.3 2330.2,2269.7 2330.9,2255.9 2331.0,2265.8 2331.4,2257.3 2331.7,2266.4 2331.8,2254.1 2332.0,2271.9 2332.7,2263.2 2333.1,2244.6 2333.4,2251.0 2333.5,2267.0 2333.9,2272.4 2334.5,2250.8 2334.6,2269.3 2335.2,2248.0 2335.7,2258.7 2335.8,2278.1 2336.0,2256.1 2336.5,2276.7 2336.7,2278.2 2337.2,2284.2 2337.3,2285.7 2337.9,2291.7 2338.0,2293.2 2338.6,2299.2 2338.7,2300.7 2339.1,2304.0 2339.4,2304.0 2340.1,2304.0 2340.7,2304.0 2341.3,2301.1 2341.4,2299.6 2341.9,2293.7 2342.1,2292.2 2342.6,2286.3 2342.7,2284.8 2343.3,2279.0 2343.4,2277.5 2343.9,2271.6 2344.1,2262.2 2344.3,2249.6 2344.9,2276.5 2345.0,2246.5 2345.7,2269.7 2345.8,2247.3 2346.2,2274.3 2346.6,2245.9 2347.0,2255.8 2347.1,2272.1 2347.6,2264.8 2347.8,2253.3 2348.3,2282.1 2348.4,2250.6 2349.0,2280.5 2349.1,2244.8 2349.6,2254.6 2349.7,2262.7 2350.1,2255.8 2350.5,2276.5 2350.7,2258.6 2350.8,2269.9 2351.3,2261.0 2351.7,2248.0 2352.2,2241.4 2352.3,2257.8 2352.9,2276.2 2353.1,2246.3 2353.4,2249.0 2353.6,2275.6 2353.9,2249.2 2354.4,2273.0 2354.7,2242.8 2354.9,2258.4 2355.2,2268.4 2355.7,2256.3 2355.9,2253.9 2356.2,2272.7 2356.8,2271.8 2357.0,2240.7 2357.1,2254.7 2357.6,2280.6 2357.7,2252.2 2357.8,2274.4 2358.5,2250.0 2358.7,2274.2 2359.1,2276.1 2359.2,2258.1 2359.7,2260.5 2359.9,2253.0 2360.4,2276.8 2360.6,2252.9 2361.3,2254.7 2361.4,2275.3 2361.8,2278.0 2362.0,2253.7 2362.4,2267.4 2362.5,2245.3 2362.9,2274.9 2363.3,2263.8 2363.5,2260.3 2363.7,2241.3 2364.1,2270.1 2364.5,2242.9 2364.7,2277.6 2364.9,2245.4 2365.4,2268.3 2365.7,2252.5 2366.0,2254.4 2366.1,2276.4 2366.6,2278.0 2366.8,2253.5 2367.2,2245.1 2367.3,2265.4 2367.7,2238.9 2368.2,2262.8 2368.3,2239.0 2368.6,2265.9 2369.0,2244.4 2369.2,2262.2 2369.8,2264.2 2369.9,2253.3 2370.3,2248.7 2370.4,2266.0 2371.0,2246.4 2371.1,2275.5 2371.7,2240.9 2371.8,2260.2 2372.3,2263.6 2372.4,2248.0 2372.7,2267.1 2373.0,2243.7 2373.3,2263.2 2373.4,2249.2 2373.8,2249.5 2374.2,2264.5 2374.7,2249.0 2374.8,2258.6 2375.6,2257.8 2375.8,2269.1 2376.4,2237.3 2376.5,2269.7 2376.6,2266.5 2376.7,2248.1 2377.5,2270.8 2377.7,2256.1 2378.0,2260.1 2378.3,2242.0 2379.1,2263.4 2379.2,2247.6 2379.9,2262.1 2380.0,2253.4 2380.4,2246.5 2380.8,2263.6 2381.0,2276.6 2381.2,2239.3 2381.8,2260.6 2382.2,2245.1 2382.4,2258.9 2382.7,2238.0 2383.1,2270.4 2383.2,2242.0 2383.8,2258.1 2384.0,2250.0 2384.7,2258.6 2384.9,2246.2 2385.4,2274.1 2385.6,2249.8 2385.9,2259.6 2386.1,2247.2 2386.9,2254.3 2387.0,2262.7 2387.5,2264.0 2387.6,2239.2 2387.9,2230.4 2388.4,2259.1 2388.5,2269.2 2388.8,2240.5 2389.6,2261.4 2389.7,2236.2 2389.8,2266.6 2390.3,2246.5 2390.8,2247.7 2391.0,2266.8 2391.4,2242.8 2391.8,2266.6 2392.0,2258.0 2392.1,2246.0 2392.8,2263.4 2393.0,2252.8 2393.7,2257.5 2393.8,2243.8 2394.1,2268.7 2394.3,2251.6 2394.6,2260.8 2394.8,2248.4 2395.2,2267.7 2395.5,2251.4 2395.9,2266.2 2396.3,2251.7 2396.9,2264.8 2397.1,2250.6 2397.2,2250.3 2397.5,2265.3 2398.2,2249.6 2398.4,2270.1 2398.8,2263.8 2399.0,2242.5 2399.3,2243.1 2399.7,2267.4 2399.9,2248.6 2400.1,2262.1 2400.7,2264.1 2401.0,2249.3 2401.6,2257.6 2401.7,2244.5 2401.8,2266.4 2402.1,2251.6 2402.5,2257.4 2403.0,2268.3 2403.4,2275.7 2403.7,2246.1 2404.2,2251.8 2404.3,2277.7 2404.4,2246.3 2404.9,2266.9 2405.1,2248.1 2405.5,2269.6 2405.8,2269.2 2405.9,2243.8 2406.6,2250.3 2406.8,2276.2 2407.1,2267.5 2407.5,2238.5 2407.9,2247.6 2408.1,2272.8 2408.3,2240.0 2408.5,2265.2 2409.2,2240.5 2409.3,2256.7 2409.6,2243.9 2409.8,2258.2 2410.4,2251.8 2410.6,2265.1 2410.8,2251.4 2411.0,2262.5 2411.8,2251.8 2412.0,2257.8 2412.2,2241.2 2412.5,2255.0 2412.9,2239.0 2413.1,2260.5 2413.4,2244.9 2413.9,2264.2 2414.0,2253.8 2414.4,2264.0 2415.0,2256.4 2415.1,2268.4 2415.4,2282.8 2415.6,2261.2 2416.1,2262.8 2416.2,2276.9 2416.7,2266.1 2417.0,2283.1 2417.2,2271.7 2417.6,2282.1 2418.1,2278.0 2418.2,2285.5 2418.4,2281.7 2418.8,2288.4 2419.0,2287.1 2419.3,2296.4 2419.5,2292.4 2419.9,2297.0 2420.1,2295.1 2420.7,2303.5 2420.8,2302.4 2421.3,2306.5 2421.4,2306.7 2421.5,2307.8"/>
<polyline fill="none" stroke="#1414ff" stroke-width="7.5" stroke-linejoin="round" stroke-linecap="round" points="164.7,2050.5 361.5,2052.4 476.7,2053.0 558.4,2081.4 621.7,2087.8 673.5,2074.0 717.2,2100.4 755.2,2104.0 788.6,2015.9 818.5,1965.9 845.6,1973.1 870.3,2020.0 893.0,1958.8 914.1,1854.7 933.7,1791.4 952.0,1764.9 969.2,1776.1 985.4,1818.0 1000.8,1895.0 1013.3,1977.6 1028.6,2008.2 1041.8,2012.2 1045.9,2077.6 1054.1,2053.1 1066.3,2075.5 1087.8,2010.2 1099.0,2002.0 1110.2,2012.2 1120.4,2019.4 1156.1,1900.0 1165.3,1918.4 1181.6,2020.4 1189.8,2040.8 1199.0,2051.0 1206.1,2067.3 1212.2,2091.8 1224.5,2090.8 1241.8,2118.4 1257.1,2095.9 1269.4,2112.2 1285.7,2161.2 1303.2,2146.0 1318.0,2153.4 1328.5,2172.4 1343.3,2189.2 1353.8,2178.7 1366.5,2223.0 1379.2,2212.4 1389.7,2210.3 1398.1,2212.4 1416.1,2170.3 1429.8,2214.6 1434.0,2172.4 1438.2,2210.3 1442.3,2207.1 1445.4,2204.8 1448.8,2201.9 1451.6,2207.0 1454.7,2213.9 1457.2,2218.8 1460.6,2212.6 1463.6,2207.7 1465.7,2204.0 1469.4,2209.0 1472.2,2212.5 1474.1,2214.6 1477.8,2214.4 1480.6,2214.0 1483.4,2217.6 1486.8,2216.7 1488.8,2217.4 1491.0,2220.9 1494.1,2203.0 1497.3,2185.0 1499.3,2193.7 1501.5,2214.6 1504.4,2207.5 1506.9,2206.3 1510.0,2193.5 1511.9,2189.9 1514.4,2196.2 1516.8,2197.3 1518.4,2197.7 1521.6,2211.4 1524.7,2225.1 1526.3,2234.4 1528.7,2233.9 1531.0,2237.8 1533.3,2245.7 1535.3,2239.9 1537.8,2228.9 1540.1,2215.4 1542.3,2221.3 1544.5,2198.5 1547.9,2185.0 1551.1,2210.8 1553.2,2214.7 1555.3,2225.6 1558.5,2244.1 1561.6,2234.2 1563.7,2230.2 1565.7,2230.2 1567.8,2227.1 1569.8,2218.3 1571.1,2218.8 1573.8,2206.9 1575.8,2203.6 1577.7,2189.5 1579.7,2183.5 1581.7,2174.5 1583.5,2194.7 1585.5,2205.1 1588.0,2227.2 1589.2,2206.1 1592.2,2174.5 1594.8,2175.8 1596.7,2193.4 1598.5,2204.7 1600.7,2214.6 1602.1,2217.5 1603.9,2214.0 1605.7,2197.2 1607.5,2198.8 1609.1,2201.9 1611.0,2202.3 1612.7,2208.3 1615.4,2223.0 1617.9,2221.9 1619.6,2224.8 1621.3,2213.7 1623.0,2224.7 1624.6,2228.0 1626.0,2214.6 1627.9,2206.7 1629.6,2201.3 1631.2,2193.1 1632.8,2196.6 1634.5,2189.8 1636.5,2182.9 1639.2,2201.9 1640.8,2203.3 1642.4,2215.9 1645.0,2229.3 1647.0,2233.5 1648.6,2223.4 1650.1,2230.1 1651.6,2236.1 1653.1,2229.5 1654.6,2228.1 1656.1,2239.2 1657.6,2235.7 1659.1,2221.5 1660.6,2232.8 1661.9,2214.6 1663.5,2221.0 1664.9,2222.6 1666.4,2226.7 1667.8,2224.3 1670.3,2239.9 1672.1,2237.3 1673.5,2240.7 1674.9,2234.8 1676.3,2229.5 1678.7,2223.0 1683.1,2224.4 1684.5,2230.3 1685.8,2236.5 1687.2,2221.3 1688.5,2218.9 1689.8,2223.0 1691.2,2206.3 1692.5,2226.1 1693.8,2219.4 1695.1,2217.4 1696.4,2231.0 1697.7,2222.3 1699.0,2221.9 1700.2,2235.7 1701.5,2225.3 1702.8,2229.6 1704.0,2227.6 1705.3,2229.8 1706.6,2230.8 1707.8,2230.1 1709.0,2218.1 1710.3,2235.8 1711.5,2223.6 1712.7,2223.6 1714.0,2233.0 1715.2,2223.6 1716.4,2229.4 1717.6,2232.1 1718.8,2228.5 1720.0,2217.9 1721.2,2230.4 1722.3,2226.4 1723.5,2227.5 1724.7,2230.0 1725.9,2238.2 1727.0,2229.5 1728.2,2242.2 1729.3,2237.2 1730.5,2235.3 1731.6,2238.6 1732.8,2236.0 1733.9,2222.4 1735.1,2245.8 1736.2,2217.6 1737.3,2231.1 1738.4,2218.2 1739.5,2230.7 1740.6,2229.6 1741.8,2222.5 1742.9,2236.1 1744.0,2232.6 1745.0,2231.8 1746.1,2224.0 1747.2,2241.7 1748.3,2229.4 1749.4,2236.2 1750.5,2219.8 1751.5,2241.0 1752.6,2227.5 1753.6,2236.8 1754.7,2226.4 1755.8,2229.1 1756.8,2233.4 1757.8,2226.7 1758.9,2215.2 1759.9,2203.8 1761.0,2203.0 1762.0,2203.0 1763.0,2214.2 1764.0,2225.4 1765.1,2231.3 1766.1,2239.3 1767.1,2234.8 1768.1,2243.2 1769.1,2226.9 1770.1,2237.9 1771.1,2230.1 1772.1,2233.1 1773.1,2231.4 1774.1,2229.8 1775.1,2253.4 1776.0,2237.0 1777.0,2241.1 1778.0,2237.4 1779.0,2248.6 1779.9,2229.9 1780.9,2224.7 1781.8,2239.5 1782.8,2228.7 1783.8,2247.3 1784.7,2230.0 1785.7,2234.7 1786.6,2240.6 1787.5,2225.9 1788.5,2230.4 1789.4,2234.0 1790.3,2220.5 1791.3,2229.6 1792.2,2218.1 1793.1,2225.1 1794.0,2236.9 1795.0,2234.6 1795.9,2222.9 1796.8,2222.9 1797.7,2219.1 1798.6,2230.6 1799.5,2230.1 1800.4,2214.8 1801.3,2220.0 1802.2,2220.5 1803.1,2234.8 1804.0,2238.0 1804.9,2238.5 1805.7,2241.4 1806.6,2238.8 1807.5,2230.9 1808.4,2231.5 1809.2,2221.3 1810.1,2230.0 1811.0,2232.6 1811.8,2209.9 1812.7,2239.1 1813.6,2227.5 1814.4,2234.2 1815.3,2229.3 1816.1,2241.1 1817.0,2230.3 1817.8,2234.7 1818.7,2228.7 1819.5,2233.5 1820.3,2236.9 1821.2,2227.0 1822.0,2234.1 1822.8,2232.5 1823.7,2238.5 1824.5,2245.8 1825.3,2239.6 1826.2,2246.5 1827.0,2228.4 1827.8,2226.8 1828.6,2224.5 1829.4,2216.7 1830.2,2225.8 1831.0,2218.1 1831.8,2201.9 1832.6,2193.0 1833.4,2184.2 1834.2,2175.4 1835.0,2172.6 1835.8,2172.6 1836.6,2174.0 1837.4,2182.7 1838.2,2191.3 1839.0,2200.0 1839.8,2248.2 1840.6,2227.2 1841.3,2228.2 1842.1,2239.9 1842.9,2229.6 1843.7,2227.6 1844.4,2239.0 1845.2,2223.7 1846.0,2238.2 1846.7,2225.3 1847.5,2236.4 1848.2,2232.8 1849.0,2227.8 1849.8,2240.8 1850.5,2223.8 1851.3,2239.5 1852.0,2234.8 1852.8,2245.1 1853.5,2229.0 1854.3,2245.9 1855.0,2254.5 1855.7,2234.4 1856.5,2239.0 1857.2,2246.1 1858.0,2258.6 1858.7,2240.4 1859.4,2233.2 1860.1,2240.2 1860.9,2238.0 1861.6,2237.7 1862.3,2233.6 1863.0,2257.9 1863.8,2236.5 1864.5,2248.5 1865.2,2235.8 1865.9,2232.6 1866.6,2253.0 1867.3,2236.4 1868.0,2212.7 1868.8,2204.9 1869.5,2197.1 1870.2,2189.4 1870.9,2185.7 1871.6,2185.7 1872.3,2185.7 1873.0,2190.8 1873.7,2198.5 1874.4,2206.1 1875.0,2213.7 1875.7,2218.5 1876.4,2236.0 1877.1,2228.4 1877.8,2229.7 1878.5,2217.3 1879.2,2230.3 1879.8,2228.1 1880.5,2218.7 1881.2,2213.2 1881.9,2205.8 1882.5,2198.4 1883.2,2196.7 1883.9,2196.7 1884.6,2196.7 1885.2,2202.5 1885.9,2209.8 1886.6,2217.1 1887.2,2224.4 1887.9,2238.5 1888.5,2237.4 1889.2,2230.2 1889.9,2229.4 1890.5,2244.1 1891.2,2234.4 1891.8,2234.2 1892.5,2242.7 1893.1,2231.0 1893.8,2240.0 1894.4,2241.5 1895.1,2262.7 1895.7,2229.2 1896.3,2241.5 1897.0,2236.0 1897.6,2228.0 1898.3,2256.8 1898.9,2252.6 1899.5,2234.7 1900.2,2227.7 1900.8,2220.8 1901.4,2213.9 1902.1,2207.6 1902.7,2207.6 1903.3,2207.6 1903.9,2207.6 1904.6,2213.8 1905.2,2220.6 1905.8,2227.5 1906.4,2234.3 1907.0,2232.4 1907.7,2232.3 1908.3,2242.6 1908.9,2236.9 1909.5,2227.9 1910.1,2236.3 1910.7,2253.5 1911.3,2239.4 1911.9,2235.4 1912.6,2232.5 1913.2,2241.9 1913.8,2231.3 1914.4,2238.7 1915.0,2230.6 1915.6,2246.2 1916.2,2233.2 1916.8,2251.4 1917.4,2247.3 1918.0,2241.5 1918.5,2250.3 1919.1,2251.6 1919.7,2235.1 1920.3,2253.7 1920.9,2246.3 1921.5,2248.2 1922.1,2237.3 1922.7,2238.3 1923.3,2246.7 1923.8,2235.2 1924.4,2236.8 1925.0,2243.6 1925.6,2228.2 1926.2,2226.2 1926.7,2246.9 1927.3,2246.9 1927.9,2254.6 1928.5,2246.4 1929.0,2234.5 1929.6,2248.3 1930.2,2247.4 1930.7,2249.1 1931.3,2246.3 1931.9,2244.5 1932.4,2244.1 1933.0,2229.0 1933.6,2236.9 1934.1,2223.6 1934.7,2226.5 1935.3,2237.6 1935.8,2226.3 1936.4,2222.3 1936.9,2229.8 1937.5,2242.8 1938.0,2248.3 1938.6,2245.9 1939.1,2251.8 1939.7,2227.3 1940.2,2243.5 1940.8,2250.9 1941.3,2242.6 1941.9,2248.6 1942.4,2237.6 1943.0,2243.4 1943.5,2253.7 1944.1,2236.8 1944.6,2260.8 1945.1,2244.5 1945.7,2242.3 1946.2,2261.1 1946.8,2244.8 1947.3,2255.9 1947.8,2259.4 1948.4,2248.2 1948.9,2252.5 1949.4,2235.8 1950.0,2229.9 1950.5,2224.1 1951.0,2218.3 1951.6,2212.4 1952.1,2207.6 1952.6,2207.6 1953.1,2207.6 1953.7,2207.6 1954.2,2209.7 1954.7,2215.4 1955.2,2221.2 1955.8,2226.9 1956.3,2232.6 1956.8,2238.3 1957.3,2256.1 1957.8,2244.6 1958.3,2238.8 1958.9,2227.5 1959.4,2229.5 1959.9,2232.7 1960.4,2226.9 1960.9,2233.5 1961.4,2233.9 1961.9,2232.0 1962.4,2232.0 1963.0,2226.4 1963.5,2228.1 1964.0,2253.0 1964.5,2249.3 1965.0,2241.6 1965.5,2242.4 1966.0,2239.2 1966.5,2231.6 1967.0,2240.1 1967.5,2226.3 1968.0,2239.1 1968.5,2231.4 1969.0,2238.0 1969.5,2248.4 1970.0,2238.5 1970.5,2238.4 1971.0,2244.8 1971.5,2242.6 1971.9,2251.3 1972.4,2242.5 1972.9,2247.2 1973.4,2235.8 1973.9,2232.9 1974.4,2244.1 1974.9,2245.8 1975.4,2227.8 1975.9,2226.1 1976.3,2232.3 1976.8,2245.5 1977.3,2230.0 1977.8,2239.4 1978.3,2251.2 1978.7,2238.9 1979.2,2235.7 1979.7,2237.1 1980.2,2241.7 1980.7,2221.4 1981.1,2228.2 1981.6,2235.1 1982.1,2236.3 1982.6,2231.1 1983.0,2225.9 1983.5,2220.7 1984.0,2215.5 1984.5,2212.0 1984.9,2212.0 1985.4,2212.0 1985.9,2212.0 1986.3,2212.3 1986.8,2217.5 1987.3,2222.6 1987.7,2227.7 1988.2,2232.8 1988.7,2237.1 1989.1,2231.3 1989.6,2235.1 1990.0,2230.8 1990.5,2228.3 1991.0,2230.7 1991.4,2231.1 1991.9,2225.9 1992.3,2251.2 1992.8,2225.6 1993.3,2249.2 1993.7,2240.3 1994.2,2235.7 1994.6,2247.2 1995.1,2238.3 1995.5,2243.4 1996.0,2258.3 1996.4,2251.6 1996.9,2245.3 1997.3,2247.2 1997.8,2225.4 1998.2,2251.8 1998.7,2238.1 1999.1,2229.7 1999.6,2235.9 2000.0,2243.0 2000.5,2229.0 2000.9,2235.1 2001.4,2253.9 2001.8,2248.9 2002.2,2244.0 2002.7,2238.7 2003.1,2229.2 2003.6,2237.0 2004.0,2245.9 2004.4,2248.1 2004.9,2259.2 2005.3,2244.1 2005.8,2246.1 2006.2,2241.9 2006.6,2234.4 2007.1,2249.2 2007.5,2238.4 2007.9,2243.0 2008.4,2237.9 2008.8,2249.8 2009.2,2242.2 2009.7,2251.5 2010.1,2263.6 2010.5,2248.4 2011.0,2249.9 2011.4,2242.1 2011.8,2235.0 2012.2,2262.5 2012.7,2229.8 2013.1,2263.7 2013.5,2255.0 2013.9,2245.1 2014.4,2250.0 2014.8,2245.0 2015.2,2249.1 2015.6,2250.4 2016.1,2246.5 2016.5,2244.1 2016.9,2246.4 2017.3,2248.2 2017.7,2248.3 2018.2,2250.5 2018.6,2254.9 2019.0,2250.8 2019.4,2251.1 2019.8,2248.2 2020.2,2251.0 2020.6,2251.3 2021.1,2251.0 2021.5,2252.6 2021.9,2245.5 2022.3,2237.3 2022.7,2255.6 2023.1,2252.3 2023.5,2253.0 2023.9,2252.3 2024.4,2236.4 2024.8,2252.5 2025.2,2253.4 2025.6,2251.3 2026.0,2237.8 2026.4,2245.8 2026.8,2252.4 2027.2,2253.9 2027.6,2243.1 2028.0,2250.1 2028.4,2254.3 2028.8,2235.6 2029.2,2239.8 2029.6,2243.0 2030.0,2239.7 2030.4,2245.3 2030.8,2253.1 2031.2,2244.2 2031.6,2240.0 2032.0,2241.7 2032.4,2257.0 2032.8,2256.8 2033.2,2234.6 2033.6,2251.0 2034.0,2249.7 2034.4,2236.9 2034.8,2238.8 2035.2,2243.1 2035.6,2230.1 2036.0,2236.4 2036.4,2239.5 2036.8,2230.4 2037.2,2235.6 2037.5,2246.6 2037.9,2222.8 2038.3,2249.9 2038.7,2250.8 2039.1,2236.6 2039.5,2238.6 2039.9,2237.9 2040.3,2223.1 2040.7,2239.1 2041.0,2233.7 2041.4,2237.1 2041.8,2220.5 2042.2,2246.7 2042.6,2237.7 2043.0,2242.5 2043.3,2237.6 2043.7,2249.3 2044.1,2234.6 2044.5,2234.6 2044.9,2230.4 2045.3,2241.6 2045.6,2247.8 2046.0,2254.0 2046.4,2247.6 2046.8,2244.7 2047.1,2243.8 2047.5,2238.6 2047.9,2236.8 2048.3,2249.2 2048.7,2245.1 2049.0,2240.4 2049.4,2244.7 2049.8,2252.4 2050.2,2227.2 2050.5,2250.0 2050.9,2245.5 2051.3,2245.6 2051.6,2237.2 2052.0,2254.6 2052.4,2253.3 2052.8,2246.9 2053.1,2236.8 2053.5,2246.6 2053.9,2251.2 2054.2,2245.4 2054.6,2255.6 2055.0,2239.4 2055.3,2266.7 2055.7,2242.0 2056.1,2242.1 2056.4,2256.0 2056.8,2247.6 2057.2,2246.8 2057.5,2240.2 2057.9,2249.9 2058.3,2242.8 2058.6,2247.6 2059.0,2248.0 2059.3,2232.5 2059.7,2252.2 2060.1,2233.2 2060.4,2229.3 2060.8,2225.3 2061.2,2221.3 2061.5,2217.4 2061.9,2213.4 2062.2,2209.5 2062.6,2205.6 2062.9,2201.6 2063.3,2201.0 2063.7,2201.0 2064.0,2201.0 2064.4,2201.0 2064.7,2201.0 2065.1,2201.9 2065.4,2205.8 2065.8,2209.7 2066.1,2213.5 2066.5,2217.4 2066.8,2221.3 2067.2,2225.2 2067.6,2229.1 2067.9,2232.9 2068.3,2246.2 2068.6,2242.8 2069.0,2243.7 2069.3,2248.4 2069.7,2250.0 2070.0,2233.6 2070.3,2230.8 2070.7,2248.4 2071.0,2232.0 2071.4,2245.0 2071.7,2243.6 2072.1,2253.7 2072.4,2244.7 2072.8,2247.8 2073.1,2237.3 2073.5,2250.2 2073.8,2237.9 2074.2,2255.8 2074.5,2258.9 2074.8,2266.5 2075.2,2255.7 2075.5,2250.4 2075.9,2243.6 2076.2,2246.6 2076.5,2255.7 2076.9,2255.9 2077.2,2254.6 2077.6,2244.9 2077.9,2239.2 2078.2,2231.0 2078.6,2251.6 2078.9,2242.9 2079.3,2239.6 2079.6,2246.3 2079.9,2260.6 2080.3,2240.6 2080.6,2240.4 2080.9,2236.8 2081.3,2246.5 2081.6,2233.6 2081.9,2236.9 2082.3,2249.7 2082.6,2242.3 2082.9,2249.8 2083.3,2254.3 2083.6,2250.0 2083.9,2263.7 2084.3,2247.7 2084.6,2244.9 2084.9,2253.2 2085.3,2249.6 2085.6,2255.4 2085.9,2256.9 2086.3,2249.2 2086.6,2240.2 2086.9,2239.5 2087.2,2261.2 2087.6,2245.7 2087.9,2266.1 2088.2,2251.5 2088.6,2243.9 2088.9,2241.2 2089.2,2235.5 2089.5,2245.3 2089.9,2251.4 2090.2,2251.0 2090.5,2250.8 2090.8,2246.1 2091.2,2237.8 2091.5,2246.7 2091.8,2237.3 2092.1,2241.5 2092.4,2237.7 2092.8,2235.2 2093.1,2236.6 2093.4,2237.3 2093.7,2243.9 2094.1,2247.6 2094.4,2245.9 2094.7,2235.0 2095.0,2238.5 2095.3,2254.8 2095.6,2248.2 2096.0,2247.3 2096.3,2245.6 2096.6,2249.6 2096.9,2237.9 2097.2,2233.8 2097.6,2249.7 2097.9,2236.5 2098.2,2244.1 2098.5,2254.9 2098.8,2240.7 2099.1,2235.1 2099.4,2243.8 2099.8,2230.8 2100.1,2236.5 2100.4,2239.2 2100.7,2247.2 2101.0,2256.8 2101.3,2253.2 2101.6,2256.8 2101.9,2241.0 2102.3,2231.7 2102.6,2234.4 2102.9,2238.6 2103.2,2237.6 2103.5,2236.4 2103.8,2246.1 2104.1,2242.0 2104.4,2247.6 2104.7,2250.6 2105.0,2232.1 2105.4,2233.2 2105.7,2245.2 2106.0,2246.2 2106.3,2231.5 2106.6,2234.3 2106.9,2247.4 2107.2,2243.7 2107.5,2248.0 2107.8,2229.4 2108.1,2239.8 2108.4,2235.8 2108.7,2229.4 2109.0,2229.3 2109.3,2233.8 2109.6,2228.1 2109.9,2238.5 2110.2,2246.4 2110.5,2231.5 2110.8,2234.9 2111.1,2238.7 2111.4,2239.6 2111.7,2243.7 2112.0,2227.7 2112.4,2223.6 2112.7,2234.8 2113.2,2250.7 2113.5,2247.5 2114.1,2229.6 2114.4,2246.3 2115.0,2252.0 2115.3,2250.4 2115.9,2237.4 2116.5,2248.7 2116.8,2237.9 2117.1,2244.6 2117.7,2236.8 2118.0,2241.0 2118.6,2234.9 2119.2,2240.8 2119.5,2237.9 2120.1,2247.9 2120.3,2233.0 2120.6,2231.8 2121.2,2243.1 2121.5,2228.3 2121.8,2234.0 2122.4,2227.6 2123.0,2221.2 2123.3,2218.0 2123.8,2211.7 2124.1,2208.5 2124.4,2205.4 2125.0,2205.4 2125.8,2205.4 2126.4,2205.6 2126.7,2208.7 2127.3,2215.0 2127.6,2218.1 2128.1,2224.4 2128.4,2227.5 2129.0,2233.7 2129.3,2236.9 2129.8,2259.7 2130.1,2252.8 2130.4,2237.7 2131.0,2267.9 2131.2,2244.8 2131.8,2266.3 2132.4,2241.9 2132.6,2248.6 2132.9,2254.8 2133.8,2255.6 2134.0,2251.0 2134.6,2261.4 2134.9,2248.5 2135.1,2259.8 2135.4,2238.6 2136.0,2249.3 2136.5,2243.3 2136.8,2257.8 2137.4,2243.1 2137.6,2239.0 2138.2,2249.2 2138.5,2250.4 2139.0,2243.3 2139.5,2233.5 2139.8,2255.4 2140.1,2265.1 2140.4,2244.2 2140.9,2247.0 2141.2,2240.0 2142.0,2240.9 2142.3,2248.7 2142.8,2254.5 2143.1,2232.4 2143.3,2237.5 2143.9,2261.1 2144.1,2252.5 2144.7,2243.6 2145.0,2242.5 2145.5,2259.8 2146.0,2252.5 2146.3,2238.2 2146.6,2247.1 2147.1,2233.6 2147.6,2247.9 2147.9,2236.9 2148.2,2251.1 2148.7,2241.9 2149.2,2244.4 2149.5,2255.7 2149.7,2233.6 2150.0,2243.2 2150.5,2249.8 2150.8,2228.3 2151.3,2242.6 2151.6,2225.2 2152.1,2247.6 2152.6,2228.7 2153.1,2248.2 2153.4,2232.3 2153.9,2240.3 2154.2,2252.2 2154.4,2230.4 2155.0,2237.8 2155.2,2234.4 2155.7,2245.1 2156.2,2229.9 2156.5,2245.9 2156.8,2252.7 2157.3,2260.4 2157.8,2232.4 2158.0,2244.9 2158.6,2246.2 2158.8,2253.7 2159.1,2245.7 2159.3,2265.2 2160.1,2249.1 2160.3,2268.9 2160.6,2243.5 2161.1,2255.6 2161.6,2249.0 2161.9,2264.4 2162.1,2245.9 2162.4,2257.6 2162.9,2243.5 2163.1,2253.8 2163.6,2239.3 2163.9,2253.4 2164.4,2246.9 2164.9,2233.3 2165.4,2238.0 2165.6,2231.6 2166.1,2254.9 2166.4,2256.3 2166.9,2232.4 2167.1,2252.0 2167.6,2240.4 2167.9,2253.0 2168.3,2253.9 2168.6,2238.2 2169.1,2248.2 2169.3,2240.6 2169.6,2242.7 2170.1,2232.9 2170.3,2257.3 2170.8,2243.5 2171.0,2243.9 2171.3,2256.7 2171.8,2236.3 2172.0,2242.2 2172.5,2231.8 2173.0,2260.4 2173.2,2256.1 2173.5,2241.8 2174.0,2255.1 2174.4,2249.1 2174.7,2242.1 2175.2,2251.2 2175.7,2252.8 2175.9,2263.0 2176.1,2249.9 2176.4,2252.3 2176.9,2258.9 2177.3,2236.2 2177.6,2243.7 2178.0,2260.5 2178.3,2252.1 2178.5,2229.0 2179.0,2245.4 2179.5,2248.8 2179.7,2247.4 2180.2,2259.0 2180.4,2241.0 2180.7,2258.8 2181.1,2247.6 2181.6,2254.6 2181.8,2233.2 2182.1,2256.0 2182.5,2245.1 2182.8,2250.2 2183.2,2254.8 2183.5,2259.7 2184.2,2237.7 2184.4,2252.1 2184.6,2258.4 2184.9,2234.8 2185.3,2260.1 2185.6,2241.9 2186.0,2235.4 2186.3,2251.1 2186.7,2243.5 2187.2,2258.1 2187.4,2262.7 2187.9,2243.6 2188.4,2260.4 2188.6,2260.7 2189.0,2253.2 2189.3,2261.4 2189.5,2266.4 2189.7,2272.1 2190.2,2269.1 2190.4,2251.6 2191.1,2271.7 2191.3,2244.5 2191.6,2259.5 2191.8,2243.3 2192.2,2251.1 2192.7,2264.8 2192.9,2256.9 2193.4,2243.5 2193.6,2264.9 2193.8,2252.1 2194.3,2246.9 2194.7,2252.3 2194.9,2257.9 2195.2,2249.1 2195.6,2250.9 2196.1,2265.3 2196.3,2258.6 2196.5,2234.9 2197.2,2249.2 2197.4,2260.6 2197.9,2255.5 2198.1,2241.8 2198.3,2240.8 2198.5,2252.1 2199.0,2247.0 2199.2,2256.3 2199.6,2248.6 2200.1,2251.7 2200.3,2243.5 2200.5,2249.8 2201.0,2255.8 2201.2,2230.6 2201.6,2252.4 2201.8,2243.1 2202.3,2256.4 2202.5,2246.6 2203.1,2245.6 2203.4,2257.2 2203.6,2258.5 2204.0,2234.2 2204.2,2236.0 2204.5,2247.3 2204.9,2237.2 2205.1,2261.1 2205.8,2262.4 2206.0,2238.4 2206.2,2245.5 2206.4,2225.9 2206.8,2245.1 2207.0,2237.2 2207.7,2247.7 2207.9,2238.5 2208.3,2238.2 2208.6,2259.2 2208.8,2242.3 2209.2,2250.3 2209.6,2248.2 2209.8,2234.6 2210.3,2246.7 2210.5,2236.5 2210.7,2254.3 2211.1,2253.0 2211.3,2246.2 2211.5,2265.8 2212.0,2241.2 2212.4,2243.3 2212.6,2248.4 2212.8,2252.0 2213.2,2256.0 2213.6,2237.8 2214.1,2233.6 2214.3,2258.5 2214.7,2255.9 2214.9,2240.7 2215.1,2245.7 2215.5,2255.1 2215.7,2254.1 2216.0,2246.6 2216.4,2263.6 2216.8,2249.7 2217.2,2244.7 2217.4,2261.4 2217.6,2267.1 2218.0,2242.0 2218.2,2261.3 2218.7,2246.9 2218.9,2254.8 2219.3,2264.0 2219.7,2250.1 2219.9,2261.6 2220.1,2262.7 2220.5,2258.5 2220.9,2250.6 2221.1,2262.6 2221.3,2259.2 2221.5,2252.7 2222.1,2241.8 2222.4,2269.7 2222.6,2255.3 2223.0,2247.3 2223.2,2253.2 2223.6,2232.9 2223.8,2257.3 2224.2,2226.9 2224.6,2228.1 2224.8,2235.2 2225.0,2232.9 2225.4,2228.5 2225.6,2226.3 2226.0,2221.8 2226.2,2219.6 2226.6,2215.2 2226.8,2213.0 2227.2,2208.6 2227.4,2207.6 2228.0,2207.6 2228.8,2207.6 2229.4,2208.8 2229.6,2211.0 2230.2,2217.6 2230.4,2219.8 2231.0,2226.3 2231.2,2228.5 2231.8,2235.0 2232.0,2237.2 2232.4,2262.8 2233.0,2240.6 2233.4,2255.2 2233.6,2230.4 2234.0,2242.9 2234.3,2240.0 2234.5,2230.1 2235.5,2219.3 2235.7,2248.6 2236.3,2249.7 2236.5,2237.8 2236.9,2250.8 2237.3,2235.6 2237.7,2242.1 2238.0,2265.5 2238.4,2243.9 2238.8,2259.9 2239.0,2265.4 2239.6,2250.2 2240.0,2244.5 2240.3,2252.5 2240.5,2254.8 2241.1,2241.3 2241.5,2234.2 2241.9,2258.4 2242.1,2256.4 2242.3,2243.1 2243.0,2239.2 2243.4,2268.6 2243.6,2252.0 2244.2,2254.3 2244.3,2255.9 2244.7,2240.0 2245.5,2250.6 2245.7,2260.9 2245.9,2250.9 2246.4,2254.8 2246.6,2252.5 2247.0,2240.2 2247.7,2238.4 2247.9,2263.4 2248.3,2251.0 2248.5,2237.8 2249.2,2259.3 2249.4,2238.1 2249.6,2239.3 2250.1,2253.4 2250.5,2233.3 2250.9,2249.8 2251.1,2251.7 2251.4,2243.7 2252.0,2236.2 2252.4,2251.3 2252.5,2254.1 2252.9,2239.1 2253.5,2257.5 2253.6,2236.6 2254.4,2268.8 2254.6,2230.2 2254.7,2257.2 2255.1,2243.8 2255.8,2235.6 2256.0,2241.4 2256.4,2242.6 2256.6,2254.7 2257.1,2246.5 2257.5,2238.8 2257.6,2242.8 2258.0,2247.9 2258.5,2259.0 2258.9,2238.5 2259.4,2261.4 2259.6,2242.1 2260.0,2235.0 2260.3,2255.6 2260.9,2228.3 2261.0,2254.2 2261.4,2249.2 2261.6,2232.5 2262.1,2252.7 2262.5,2245.2 2262.6,2225.3 2263.0,2248.7 2263.3,2242.7 2263.7,2266.9 2264.4,2235.9 2264.6,2259.8 2264.8,2234.0 2265.1,2260.2 2265.5,2236.9 2265.6,2253.0 2266.3,2240.1 2266.7,2251.3 2267.2,2245.2 2267.4,2249.9 2267.7,2248.1 2267.9,2229.9 2268.3,2252.3 2268.4,2246.2 2269.1,2263.4 2269.3,2245.2 2269.6,2234.4 2270.2,2260.0 2270.7,2254.5 2270.9,2248.6 2271.2,2254.1 2271.5,2238.0 2271.9,2251.0 2272.1,2242.9 2272.6,2245.2 2272.9,2252.0 2273.1,2231.3 2273.4,2252.2 2273.8,2238.3 2274.1,2254.2 2274.6,2244.8 2274.8,2232.3 2275.1,2254.0 2275.5,2230.5 2276.0,2253.7 2276.3,2238.1 2276.5,2225.5 2276.8,2246.4 2277.2,2269.0 2277.5,2235.9 2278.0,2261.1 2278.3,2241.9 2278.8,2266.6 2279.0,2251.5 2279.2,2247.0 2279.7,2252.9 2280.2,2259.8 2280.3,2247.7 2280.7,2247.3 2281.0,2259.0 2281.2,2254.5 2281.5,2236.8 2282.0,2239.3 2282.2,2255.9 2282.5,2241.9 2282.7,2265.9 2283.3,2255.6 2283.6,2245.8 2283.8,2264.6 2284.0,2237.2 2284.6,2261.0 2285.0,2243.7 2285.3,2243.0 2285.6,2264.1 2286.1,2259.7 2286.3,2269.1 2286.4,2247.5 2286.6,2262.6 2287.1,2263.5 2287.4,2249.6 2287.9,2264.7 2288.2,2249.5 2288.4,2251.6 2288.7,2258.4 2289.0,2263.9 2289.5,2253.9 2289.8,2249.8 2290.0,2261.0 2290.3,2265.4 2290.5,2245.7 2291.3,2262.2 2291.4,2249.5 2291.8,2250.3 2291.9,2263.2 2292.2,2270.4 2292.7,2240.9 2292.9,2259.2 2293.4,2240.5 2293.8,2248.6 2294.0,2241.1 2294.1,2248.6 2294.3,2237.9 2294.8,2238.6 2295.3,2255.8 2295.4,2258.2 2295.9,2239.1 2296.0,2242.4 2296.2,2249.1 2296.7,2233.3 2296.8,2246.2 2297.3,2225.7 2297.8,2246.4 2298.1,2230.4 2298.2,2243.9 2298.6,2229.5 2298.7,2244.1 2299.2,2259.7 2299.3,2229.4 2300.1,2238.3 2300.3,2224.5 2300.6,2241.9 2300.9,2231.9 2301.2,2222.1 2301.4,2243.4 2302.0,2247.7 2302.1,2225.4 2302.6,2247.1 2302.7,2236.5 2302.9,2236.6 2303.0,2247.0 2303.5,2252.0 2303.7,2238.3 2304.3,2231.1 2304.4,2250.4 2304.7,2233.7 2305.2,2239.7 2305.5,2245.3 2305.7,2248.7 2306.3,2235.6 2306.4,2253.7 2306.6,2237.9 2306.9,2253.7 2307.2,2265.0 2307.5,2237.1 2307.8,2231.3 2308.2,2253.8 2308.4,2255.5 2308.5,2241.6 2309.0,2252.0 2309.4,2238.2 2309.6,2255.8 2309.9,2247.7 2310.2,2254.0 2310.8,2245.7 2310.9,2244.8 2311.5,2258.1 2311.7,2249.3 2312.3,2258.1 2312.6,2256.8 2312.7,2249.6 2313.3,2261.6 2313.8,2235.7 2314.2,2235.5 2314.4,2256.6 2314.8,2241.2 2314.9,2253.9 2315.5,2242.5 2315.7,2264.0 2316.1,2259.9 2316.7,2232.0 2316.9,2237.0 2317.4,2261.2 2317.9,2240.8 2318.0,2260.6 2318.5,2252.3 2318.9,2241.3 2319.0,2268.1 2319.2,2243.4 2320.1,2256.8 2320.2,2245.3 2320.5,2240.8 2321.1,2248.4 2321.6,2242.4 2321.8,2258.7 2322.4,2242.0 2322.5,2266.6 2322.7,2239.9 2323.1,2260.5 2323.5,2237.8 2323.7,2249.3 2324.1,2239.8 2324.5,2265.9 2324.8,2255.7 2325.1,2238.5 2325.7,2268.6 2325.8,2245.9 2326.4,2262.2 2326.5,2237.6 2327.1,2230.6 2327.4,2266.4 2327.6,2255.0 2328.1,2227.3 2328.3,2263.5 2328.5,2233.4 2329.3,2238.0 2329.5,2255.2 2329.7,2240.7 2330.2,2234.1 2330.7,2259.2 2330.9,2235.0 2331.6,2252.5 2331.7,2244.3 2331.8,2237.8 2332.3,2258.0 2332.8,2229.9 2332.9,2256.7 2333.2,2262.7 2333.4,2245.9 2334.0,2239.9 2334.2,2253.8 2334.9,2244.0 2335.0,2266.0 2335.6,2256.7 2335.7,2242.2 2336.2,2260.3 2336.4,2238.9 2336.7,2254.5 2336.8,2240.1 2337.3,2250.7 2337.5,2238.3 2338.0,2256.1 2338.6,2241.1 2339.1,2246.1 2339.2,2232.1 2339.5,2251.7 2339.6,2238.6 2340.1,2251.5 2340.5,2231.9 2340.7,2249.3 2341.0,2225.6 2341.4,2254.7 2341.5,2242.8 2342.5,2243.3 2342.6,2260.9 2343.1,2239.3 2343.3,2253.1 2343.4,2260.4 2343.9,2250.5 2344.3,2234.6 2344.6,2255.2 2344.7,2252.3 2345.0,2232.4 2345.5,2237.8 2345.7,2262.2 2346.2,2268.7 2346.3,2241.9 2347.0,2263.3 2347.3,2241.4 2347.4,2239.9 2347.6,2264.2 2348.0,2242.8 2348.2,2269.2 2349.0,2269.2 2349.1,2252.7 2349.4,2251.7 2349.5,2268.3 2350.3,2235.6 2350.5,2268.8 2350.9,2268.2 2351.0,2245.8 2351.4,2245.4 2351.6,2264.7 2352.2,2261.8 2352.5,2241.7 2352.9,2269.4 2353.0,2234.5 2353.4,2252.3 2353.5,2239.9 2354.0,2246.9 2354.4,2254.6 2354.9,2259.6 2355.0,2238.5 2355.3,2253.7 2355.7,2235.7 2355.8,2241.6 2356.2,2262.8 2356.6,2258.4 2356.8,2242.9 2357.3,2252.7 2357.5,2261.1 2357.8,2264.1 2358.0,2253.1 2358.7,2277.8 2358.9,2259.7 2359.0,2272.4 2359.5,2259.8 2359.6,2268.2 2360.1,2284.3 2360.4,2276.1 2360.5,2260.8 2360.9,2260.4 2361.0,2277.1 2361.6,2277.1 2362.0,2267.0 2362.1,2271.5 2362.4,2250.8 2362.8,2270.4 2363.3,2253.8 2363.6,2252.0 2363.7,2270.0 2364.1,2258.1 2364.2,2247.6 2365.0,2236.6 2365.1,2260.2 2365.2,2251.3 2365.5,2265.1 2365.9,2267.4 2366.3,2237.7 2366.6,2262.4 2366.7,2244.8 2367.2,2245.5 2367.6,2262.4 2367.7,2241.8 2368.1,2257.8 2368.3,2242.5 2368.6,2253.3 2369.0,2238.8 2369.3,2257.4 2369.5,2232.4 2369.8,2263.0 2370.1,2237.1 2370.4,2263.3 2370.7,2255.9 2371.0,2235.6 2371.5,2254.0 2371.7,2248.7 2372.0,2269.2 2372.1,2230.9 2372.8,2246.7 2373.0,2230.0 2373.2,2236.8 2373.6,2246.7 2373.9,2238.6 2374.0,2261.4 2374.5,2259.1 2374.6,2234.4 2375.2,2231.1 2375.7,2250.7 2376.0,2250.4 2376.4,2235.5 2376.6,2251.5 2377.2,2230.0 2377.3,2240.6 2377.6,2255.2 2378.3,2228.1 2378.4,2253.8 2378.8,2247.6 2379.1,2267.2 2379.8,2260.9 2380.0,2236.3 2380.6,2233.6 2380.8,2252.1 2380.9,2238.4 2381.5,2263.9 2381.6,2237.3 2381.8,2257.2 2382.7,2257.3 2382.8,2239.3 2383.2,2271.8 2383.5,2250.1 2383.9,2235.2 2384.1,2261.7 2384.7,2255.9 2384.9,2241.4 2385.2,2235.2 2385.6,2254.4 2385.7,2265.4 2386.2,2245.9 2386.5,2239.3 2386.7,2256.6 2387.2,2247.0 2387.6,2268.1 2387.9,2251.2 2388.4,2268.4 2388.5,2264.4 2388.7,2242.4 2389.4,2239.4 2389.7,2268.5 2390.3,2261.4 2390.4,2249.7 2390.6,2265.1 2391.0,2240.2 2391.7,2248.9 2391.8,2260.5 2392.0,2269.4 2392.1,2249.1 2392.7,2241.8 2392.8,2260.9 2393.2,2235.0 2393.6,2261.1 2393.9,2242.8 2394.2,2250.5 2394.7,2235.1 2394.8,2268.0 2395.5,2260.1 2395.8,2246.8 2396.1,2254.9 2396.5,2234.0 2396.7,2236.8 2396.8,2268.8 2397.3,2263.6 2397.5,2240.1 2398.1,2242.6 2398.3,2259.6 2398.8,2247.5 2398.9,2263.6 2399.3,2264.4 2399.4,2247.0 2400.2,2268.9 2400.3,2241.7 2400.5,2266.9 2400.6,2253.9 2401.2,2265.7 2401.4,2242.2 2401.9,2258.5 2402.3,2244.3 2402.5,2239.7 2402.9,2264.4 2403.2,2252.9 2403.7,2241.3 2403.9,2252.0 2404.1,2247.0 2404.9,2224.0 2405.0,2250.8 2405.3,2261.5 2405.6,2241.9 2405.9,2248.8 2406.0,2240.6 2406.4,2247.7 2406.6,2233.5 2407.1,2244.0 2407.2,2260.0 2407.9,2260.7 2408.1,2235.8 2408.6,2248.3 2408.7,2269.3 2409.0,2244.6 2409.2,2257.2 2409.7,2256.8 2410.1,2242.3 2410.4,2260.2 2410.7,2240.8 2411.1,2246.1 2411.2,2262.1 2411.6,2227.0 2411.7,2254.1 2412.1,2267.1 2412.5,2232.0 2412.9,2235.7 2413.2,2242.9 2413.3,2257.2 2413.9,2220.7 2414.1,2232.7 2414.4,2245.0 2415.0,2249.6 2415.1,2239.2 2415.5,2256.9 2415.6,2242.6 2416.1,2247.5 2416.2,2258.2 2416.7,2259.9 2416.9,2250.9 2417.3,2258.3 2417.5,2269.2 2418.1,2262.8 2418.2,2280.1 2418.3,2270.9 2418.8,2279.9 2419.0,2273.5 2419.1,2285.2 2419.7,2280.5 2419.9,2283.9 2420.2,2283.3 2420.5,2289.1 2420.9,2288.8 2421.3,2292.2 2421.4,2292.2 2421.5,2292.9"/>
</g>
<text x="117.5" y="2240.7" font-size="89">10</text>
<text x="214" y="2203.7" font-size="61">0</text>
<text x="117.5" y="2028.9" font-size="89">10</text>
<text x="214" y="1991.9" font-size="61">1</text>
<text x="117.5" y="1817.0" font-size="89">10</text>
<text x="214" y="1780.0" font-size="61">2</text>
<text x="342.0" y="1834.0" font-size="84.5">Up</text>
<rect x="2021.5" y="140.5" width="357.5" height="206" fill="#fff" stroke="#bfbfbf" stroke-width="3.2"/>
<line x1="2033" y1="196.7" x2="2120" y2="196.7" stroke="#ff0000" stroke-width="7.8" stroke-linecap="round"/>
<line x1="2033" y1="294.7" x2="2121" y2="294.7" stroke="#1414ff" stroke-width="7.8" stroke-linecap="round"/>
<text x="2140" y="222.7" font-size="80">GGFC</text>
<text x="2140" y="320.4" font-size="80">VMF</text>
<text x="290.9" y="2430.5" font-size="89" text-anchor="middle">0.1</text>
<text x="944.7" y="2430.5" font-size="89" text-anchor="middle">1</text>
<text x="1598.5" y="2430.5" font-size="89" text-anchor="middle">10</text>
<text x="2254.2" y="2430.5" font-size="89" text-anchor="middle">100</text>
<text x="1348" y="2508" font-size="88.4" text-anchor="middle">Frequency(cpy)</text>
<text transform="translate(76.5 1220.5) rotate(-90)" font-size="88" text-anchor="middle">Normalized power spectrum</text>
</svg></body></html>
